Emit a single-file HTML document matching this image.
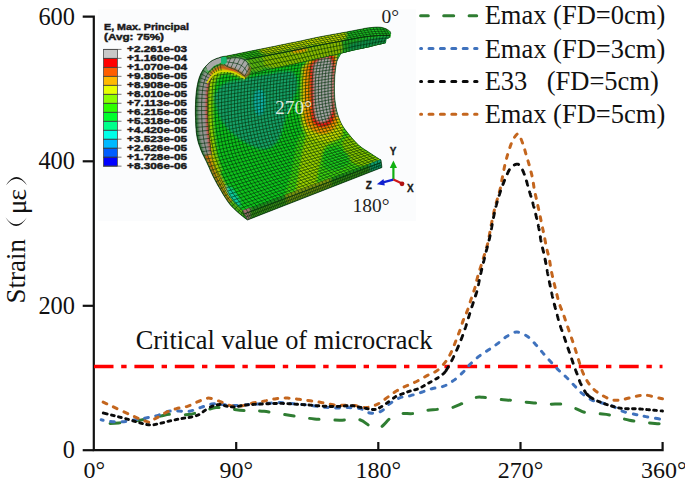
<!DOCTYPE html>
<html><head><meta charset="utf-8"><style>
html,body{margin:0;padding:0;background:#fff;}
body{width:685px;height:482px;overflow:hidden;}
svg{display:block;}
.serif{font-family:"Liberation Serif",serif;fill:#111;}
.cb{font-family:"Liberation Sans",sans-serif;font-weight:bold;font-size:9.6px;fill:#1a1a1a;stroke:#1a1a1a;stroke-width:0.45px;}
</style></head><body>
<svg width="685" height="482" viewBox="0 0 685 482">
<rect x="0" y="0" width="685" height="482" fill="#fff"/>
<!-- inset background -->
<rect x="98" y="9.3" width="318" height="211.7" fill="#fbfcfd"/>
<g class="cb">
<text x="104" y="29.8" textLength="85" lengthAdjust="spacingAndGlyphs">E, Max. Principal</text>
<text x="104" y="39.8" textLength="60" lengthAdjust="spacingAndGlyphs">(Avg: 75%)</text>
<rect x="103.5" y="49.40" width="13.8" height="8.98" fill="#c8c8c8"/>
<rect x="103.5" y="58.38" width="13.8" height="8.98" fill="#ff0000"/>
<rect x="103.5" y="67.36" width="13.8" height="8.98" fill="#ff5d00"/>
<rect x="103.5" y="76.34" width="13.8" height="8.98" fill="#ffb900"/>
<rect x="103.5" y="85.32" width="13.8" height="8.98" fill="#e8ff00"/>
<rect x="103.5" y="94.30" width="13.8" height="8.98" fill="#8bff00"/>
<rect x="103.5" y="103.28" width="13.8" height="8.98" fill="#2eff00"/>
<rect x="103.5" y="112.26" width="13.8" height="8.98" fill="#00ff2e"/>
<rect x="103.5" y="121.24" width="13.8" height="8.98" fill="#00ff8b"/>
<rect x="103.5" y="130.22" width="13.8" height="8.98" fill="#00ffe8"/>
<rect x="103.5" y="139.20" width="13.8" height="8.98" fill="#00b9ff"/>
<rect x="103.5" y="148.18" width="13.8" height="8.98" fill="#005dff"/>
<rect x="103.5" y="157.16" width="13.8" height="8.98" fill="#0000ff"/>
<rect x="103.5" y="49.40" width="13.8" height="116.74" fill="none" stroke="#555" stroke-width="0.6"/>
<line x1="103.5" y1="49.40" x2="121.5" y2="49.40" stroke="#444" stroke-width="0.7"/>
<text x="127" y="52.40" textLength="60" lengthAdjust="spacingAndGlyphs">+2.261e-03</text>
<line x1="103.5" y1="58.38" x2="121.5" y2="58.38" stroke="#444" stroke-width="0.7"/>
<text x="127" y="61.38" textLength="60" lengthAdjust="spacingAndGlyphs">+1.160e-04</text>
<line x1="103.5" y1="67.36" x2="121.5" y2="67.36" stroke="#444" stroke-width="0.7"/>
<text x="127" y="70.36" textLength="60" lengthAdjust="spacingAndGlyphs">+1.070e-04</text>
<line x1="103.5" y1="76.34" x2="121.5" y2="76.34" stroke="#444" stroke-width="0.7"/>
<text x="127" y="79.34" textLength="60" lengthAdjust="spacingAndGlyphs">+9.805e-05</text>
<line x1="103.5" y1="85.32" x2="121.5" y2="85.32" stroke="#444" stroke-width="0.7"/>
<text x="127" y="88.32" textLength="60" lengthAdjust="spacingAndGlyphs">+8.908e-05</text>
<line x1="103.5" y1="94.30" x2="121.5" y2="94.30" stroke="#444" stroke-width="0.7"/>
<text x="127" y="97.30" textLength="60" lengthAdjust="spacingAndGlyphs">+8.010e-05</text>
<line x1="103.5" y1="103.28" x2="121.5" y2="103.28" stroke="#444" stroke-width="0.7"/>
<text x="127" y="106.28" textLength="60" lengthAdjust="spacingAndGlyphs">+7.113e-05</text>
<line x1="103.5" y1="112.26" x2="121.5" y2="112.26" stroke="#444" stroke-width="0.7"/>
<text x="127" y="115.26" textLength="60" lengthAdjust="spacingAndGlyphs">+6.215e-05</text>
<line x1="103.5" y1="121.24" x2="121.5" y2="121.24" stroke="#444" stroke-width="0.7"/>
<text x="127" y="124.24" textLength="60" lengthAdjust="spacingAndGlyphs">+5.318e-05</text>
<line x1="103.5" y1="130.22" x2="121.5" y2="130.22" stroke="#444" stroke-width="0.7"/>
<text x="127" y="133.22" textLength="60" lengthAdjust="spacingAndGlyphs">+4.420e-05</text>
<line x1="103.5" y1="139.20" x2="121.5" y2="139.20" stroke="#444" stroke-width="0.7"/>
<text x="127" y="142.20" textLength="60" lengthAdjust="spacingAndGlyphs">+3.523e-05</text>
<line x1="103.5" y1="148.18" x2="121.5" y2="148.18" stroke="#444" stroke-width="0.7"/>
<text x="127" y="151.18" textLength="60" lengthAdjust="spacingAndGlyphs">+2.626e-05</text>
<line x1="103.5" y1="157.16" x2="121.5" y2="157.16" stroke="#444" stroke-width="0.7"/>
<text x="127" y="160.16" textLength="60" lengthAdjust="spacingAndGlyphs">+1.728e-05</text>
<line x1="103.5" y1="166.14" x2="121.5" y2="166.14" stroke="#444" stroke-width="0.7"/>
<text x="127" y="169.14" textLength="60" lengthAdjust="spacingAndGlyphs">+8.306e-06</text>

</g>
<defs><filter id="soft" x="-5%" y="-5%" width="110%" height="110%"><feGaussianBlur stdDeviation="0.55"/></filter><filter id="soft2" x="-5%" y="-5%" width="110%" height="110%"><feGaussianBlur stdDeviation="1.0"/></filter></defs><g id="cyl" filter="url(#soft)"><path d="M223.0,56.5 223.6,56.4 224.3,56.3 225.2,56.2 226.4,56.0 228.0,55.7 230.0,55.3 232.6,54.8 235.7,54.2 239.1,53.4 242.8,52.7 246.5,51.9 250.0,51.2 253.5,50.5 257.0,49.8 260.5,49.1 264.0,48.4 267.5,47.7 271.0,47.0 274.5,46.3 278.1,45.5 281.8,44.8 285.2,44.1 288.3,43.4 291.0,42.9 293.0,42.5 294.4,42.2 295.5,42.0 296.6,41.8 298.0,41.5 300.0,41.1 302.7,40.5 305.7,39.8 309.1,39.1 312.7,38.3 316.4,37.5 320.0,36.8 323.7,36.1 327.6,35.4 331.6,34.6 335.6,33.9 339.4,33.3 343.0,32.6 346.4,32.0 349.8,31.3 353.1,30.7 356.1,30.1 358.8,29.6 361.0,29.2 362.6,28.9 363.7,28.6 364.4,28.4 365.0,28.3 365.8,28.2 367.0,28.0 368.6,27.8 370.6,27.6 372.6,27.4 374.7,27.2 376.7,27.1 378.4,27.1 379.8,27.2 381.1,27.3 382.3,27.6 383.4,27.8 384.4,28.2 385.4,28.5 386.4,28.9 387.3,29.4 388.1,29.9 388.8,30.4 389.5,30.9 390.0,31.4 390.4,31.9 390.5,32.3 390.6,32.8 390.7,33.2 390.7,33.5 390.7,33.8 L390.3,37.6 387,39 386.2,39.5 386,43.1 341.0,53.6 340.5,54.4 339.9,55.5 339.1,56.9 338.3,58.4 337.5,60.0 336.9,61.8 336.4,63.7 336.1,65.8 335.7,68.0 335.4,70.3 335.2,72.6 335.0,75.0 334.8,77.4 334.7,80.0 334.6,82.6 334.5,85.2 334.5,87.7 334.5,90.0 334.5,92.1 334.6,94.1 334.7,96.1 334.8,97.9 335.0,99.8 335.2,101.7 335.5,103.7 335.8,105.6 336.1,107.6 336.5,109.6 337.0,111.5 337.5,113.4 338.1,115.2 338.6,117.0 339.3,118.8 340.0,120.5 340.8,122.2 341.6,123.9 342.5,125.5 343.4,127.0 344.4,128.5 345.5,130.0 346.7,131.5 348.0,133.2 349.5,135.0 351.1,137.0 352.9,139.1 354.7,141.1 356.6,143.1 358.5,144.9 360.5,146.6 362.7,148.2 365.0,149.7 367.2,151.1 369.3,152.5 371.3,153.8 373.2,155.1 375.1,156.3 377.0,157.5 378.6,158.5 380.0,159.4 381.0,160.0 L382,167.5 247.5,220 247.2,219.8 246.9,219.6 246.5,219.3 245.9,218.9 245.3,218.4 244.4,217.7 243.3,216.8 242.0,215.8 240.5,214.6 239.0,213.3 237.5,212.0 236.1,210.7 234.8,209.5 233.5,208.3 232.3,207.0 231.0,205.7 229.8,204.2 228.5,202.6 227.2,200.7 225.8,198.6 224.4,196.4 223.0,194.2 221.7,191.9 220.4,189.7 219.2,187.6 217.9,185.5 216.8,183.4 215.6,181.2 214.5,179.1 213.4,177.0 212.4,174.9 211.4,172.8 210.4,170.6 209.5,168.5 208.5,166.3 207.5,164.0 206.4,161.6 205.1,159.1 203.9,156.6 202.6,154.0 201.5,151.5 200.5,149.0 199.7,146.6 198.9,144.4 198.2,142.2 197.7,139.9 197.1,137.5 196.7,135.0 196.3,132.3 196.1,129.5 195.8,126.6 195.7,123.6 195.6,120.6 195.5,117.5 195.4,114.3 195.4,111.0 195.4,107.7 195.5,104.3 195.6,101.1 195.8,98.0 196.0,95.1 196.3,92.2 196.6,89.5 197.0,86.9 197.5,84.4 198.0,82.0 198.6,79.8 199.2,77.8 199.9,75.9 200.6,74.1 201.5,72.4 202.4,70.7 203.4,69.1 204.6,67.5 205.9,66.1 207.2,64.7 208.4,63.5 209.6,62.4 210.7,61.5 211.7,60.8 212.8,60.2 213.8,59.7 214.8,59.3 215.9,58.8 217.1,58.3 218.5,57.9 219.8,57.4 221.1,57.0 222.2,56.7 223.0,56.5 Z" fill="#137a20"/>
<clipPath id="innerclip"><path d="M243.0,211.0 242.1,210.2 240.9,209.0 239.5,207.7 238.0,206.2 236.5,204.6 235.0,203.0 233.6,201.4 232.2,199.8 230.8,198.1 229.4,196.2 227.9,194.2 226.5,192.0 225.0,189.5 223.6,186.8 222.1,183.9 220.6,180.9 219.2,177.9 218.0,175.0 216.9,172.2 215.8,169.4 214.9,166.6 214.0,163.7 213.2,160.9 212.5,158.0 211.9,155.1 211.4,152.1 211.0,149.1 210.7,146.0 210.3,143.0 210.0,140.0 209.7,137.0 209.3,134.0 209.0,131.0 208.7,128.0 208.5,125.0 208.3,122.0 208.1,119.0 208.0,115.9 207.9,112.9 207.8,109.9 207.8,106.9 207.8,104.0 207.9,101.1 207.9,98.3 208.1,95.5 208.2,92.8 208.5,90.3 208.8,88.0 209.2,85.9 209.6,84.1 210.1,82.3 210.6,80.8 211.3,79.3 212.0,78.0 212.8,76.8 213.6,75.7 214.6,74.7 215.6,73.9 216.7,73.1 218.0,72.5 219.4,72.0 221.0,71.6 222.8,71.2 224.5,71.1 226.3,71.0 228.0,71.0 229.7,71.2 231.4,71.5 233.2,71.9 234.9,72.4 236.5,73.0 238.0,73.5 239.4,74.1 240.8,74.7 242.1,75.4 243.3,76.1 244.3,76.6 245.0,77.0 L247.0,75.4 249.8,74.6 253.1,73.7 256.8,72.6 260.8,71.5 265.0,70.5 269.6,69.4 274.7,68.3 280.2,67.2 285.7,66.0 291.1,64.9 296.0,63.8 300.6,62.8 305.0,61.7 309.2,60.8 313.3,59.8 317.2,58.9 321.0,58.0 324.7,57.2 328.3,56.4 331.7,55.7 335.0,54.9 338.1,54.3 341.0,53.6 343.7,53.0 346.2,52.3 348.5,51.7 350.7,51.2 352.9,50.6 355.0,50.1 357.1,49.6 359.2,49.2 361.2,48.9 363.1,48.5 365.1,48.1 367.0,47.7 369.0,47.2 371.0,46.8 373.0,46.3 375.0,45.8 376.8,45.3 378.5,44.9 380.1,44.5 381.6,44.2 383.0,43.8 384.2,43.5 385.2,43.3 386.0,43.1 L341.0,53.6 340.5,54.4 339.9,55.5 339.1,56.9 338.3,58.4 337.5,60.0 336.9,61.8 336.4,63.7 336.1,65.8 335.7,68.0 335.4,70.3 335.2,72.6 335.0,75.0 334.8,77.4 334.7,80.0 334.6,82.6 334.5,85.2 334.5,87.7 334.5,90.0 334.5,92.1 334.6,94.1 334.7,96.1 334.8,97.9 335.0,99.8 335.2,101.7 335.5,103.7 335.8,105.6 336.1,107.6 336.5,109.6 337.0,111.5 337.5,113.4 338.1,115.2 338.6,117.0 339.3,118.8 340.0,120.5 340.8,122.2 341.6,123.9 342.5,125.5 343.4,127.0 344.4,128.5 345.5,130.0 346.7,131.5 348.0,133.2 349.5,135.0 351.1,137.0 352.9,139.1 354.7,141.1 356.6,143.1 358.5,144.9 360.5,146.6 362.7,148.2 365.0,149.7 367.2,151.1 369.3,152.5 371.3,153.8 373.2,155.1 375.1,156.3 377.0,157.5 378.6,158.5 380.0,159.4 381.0,160.0 Z"/></clipPath>
<g clip-path="url(#innerclip)"><g filter="url(#soft2)"><rect x="190" y="30" width="200" height="190" fill="#0ac31f"/><path d="M280.0,214.0 281.7,207.9 284.1,199.1 286.9,189.1 289.7,178.9 292.0,170.0 293.7,162.1 295.0,154.5 296.3,147.3 297.8,140.7 300.0,135.0 302.8,130.1 306.0,125.8 309.7,122.2 313.7,119.6 318.0,118.0 323.0,117.7 328.7,118.4 334.6,120.1 340.2,122.4 345.0,125.0 348.6,128.2 351.4,132.2 353.9,136.6 356.6,141.0 360.0,145.0 365.6,148.4 373.1,151.5 380.3,154.6 385.0,157.9 385.0,162.0 379.0,167.0 368.5,172.6 355.5,178.6 342.0,184.5 330.0,190.0 318.9,195.4 307.2,201.0 296.2,206.3 286.7,210.8 280.0,214.0Z" fill="#3cd00a"/><path d="M292.0,212.0 292.7,208.3 293.7,203.0 294.8,197.0 296.0,190.7 297.0,185.0 297.9,179.8 298.7,174.6 299.4,169.5 300.2,164.6 301.0,160.0 301.8,155.6 302.5,151.3 303.3,147.2 304.1,143.4 305.0,140.0 305.7,136.9 306.2,134.1 307.0,131.6 308.4,129.6 311.0,128.0 315.4,126.9 321.4,126.3 327.8,126.1 333.7,126.3 338.0,127.0 340.6,128.3 342.2,130.3 342.9,132.5 342.8,134.9 342.0,137.0 339.9,138.8 336.6,140.3 332.6,141.9 328.9,143.8 326.0,146.0 324.1,148.6 322.8,151.6 321.8,154.8 320.9,158.2 320.0,162.0 319.1,166.2 318.2,170.7 317.4,175.5 316.7,180.4 316.0,185.0 315.6,189.7 315.6,194.7 315.4,199.5 314.7,203.7 313.0,207.0 309.6,209.2 304.9,210.5 299.8,211.2 295.1,211.6 292.0,212.0Z" fill="#9ccd00"/><path d="M342.0,142.0 343.1,140.9 344.5,139.2 346.3,137.5 348.1,136.2 350.0,136.0 351.8,137.2 353.8,139.3 355.8,142.0 357.8,144.7 360.0,147.0 362.3,148.8 364.8,150.5 367.2,152.1 369.7,153.6 372.0,155.0 374.6,156.3 377.6,157.6 380.3,158.8 382.0,159.9 382.0,161.0 379.8,162.3 375.9,163.7 371.0,165.0 366.1,165.8 362.0,166.0 358.7,165.4 355.6,164.1 352.7,162.4 350.2,160.3 348.0,158.0 346.2,155.1 344.7,151.4 343.6,147.6 342.7,144.3 342.0,142.0Z" fill="#8cc800"/><path d="M323.0,152.0 324.6,151.0 327.0,149.5 329.7,147.8 332.5,146.5 335.0,146.0 337.4,146.4 339.8,147.3 342.2,148.7 344.3,150.4 346.0,152.0 347.5,153.8 348.9,155.8 349.9,158.0 350.3,160.1 350.0,162.0 348.6,163.9 346.4,165.8 343.6,167.6 340.7,169.1 338.0,170.0 335.3,170.5 332.3,170.6 329.5,170.3 326.9,169.5 325.0,168.0 323.9,165.4 323.3,161.8 323.1,157.9 323.1,154.4 323.0,152.0Z" fill="#1ec81a"/><path d="M302.0,68.0 304.3,65.2 307.6,61.1 311.4,56.6 315.3,52.6 319.0,50.0 322.6,48.5 326.5,47.6 330.3,47.6 333.6,49.0 336.0,52.0 337.3,57.2 337.8,64.4 337.8,72.7 337.7,81.5 338.0,90.0 339.0,98.8 340.6,108.5 342.0,118.1 342.6,126.6 342.0,133.0 339.7,137.1 336.1,139.6 331.7,140.8 327.2,141.2 323.0,141.0 318.9,140.3 314.6,138.9 310.4,136.7 306.8,133.7 304.0,130.0 302.3,125.2 301.5,119.5 301.1,113.1 301.1,106.4 301.0,100.0 301.0,93.2 301.2,85.8 301.5,78.6 301.8,72.4 302.0,68.0Z" fill="#c8d800"/><path d="M304.0,68.0 306.2,65.7 309.3,62.3 312.9,58.5 316.6,55.2 320.0,53.0 323.3,51.8 326.7,51.0 330.1,51.0 332.9,52.2 335.0,55.0 336.1,59.9 336.4,66.7 336.3,74.5 336.0,82.5 336.0,90.0 336.5,97.2 337.2,104.8 337.8,112.2 337.8,118.8 337.0,124.0 335.0,127.9 332.2,130.7 328.8,132.6 325.3,133.7 322.0,134.0 318.6,133.5 315.0,132.1 311.4,130.0 308.3,127.2 306.0,124.0 304.7,120.2 304.1,115.8 304.0,110.8 304.0,105.5 304.0,100.0 303.9,93.6 303.9,86.2 303.9,78.9 304.0,72.5 304.0,68.0Z" fill="#f59000"/><path d="M309.5,65.0 311.2,63.4 313.6,61.1 316.4,58.6 319.3,56.4 322.0,55.0 324.6,54.1 327.4,53.4 330.0,53.4 332.3,54.4 334.0,57.0 334.9,61.7 335.3,68.2 335.3,75.6 335.1,83.2 335.0,90.0 335.1,96.4 335.2,102.9 335.2,109.1 334.9,114.6 334.0,119.0 332.4,122.3 330.3,124.6 327.9,126.2 325.4,127.1 323.0,127.5 320.7,127.5 318.2,127.0 315.8,125.8 313.6,123.9 312.0,121.0 311.0,116.9 310.5,111.8 310.3,105.9 310.2,99.9 310.0,94.0 309.8,87.9 309.7,81.2 309.6,74.6 309.5,69.0 309.5,65.0Z" fill="#e81808"/><path d="M313.3,65.0 314.5,64.0 316.1,62.4 318.0,60.8 320.1,59.3 322.0,58.5 324.0,58.0 326.2,57.6 328.3,57.7 330.1,58.7 331.5,61.0 332.3,65.2 332.6,70.9 332.7,77.5 332.6,84.1 332.5,90.0 332.5,95.4 332.4,100.7 332.2,105.8 331.8,110.3 331.0,114.0 329.8,116.8 328.3,119.0 326.5,120.5 324.7,121.5 323.0,122.0 321.3,122.1 319.6,121.8 317.9,120.9 316.5,119.4 315.3,117.0 314.6,113.6 314.1,109.4 313.9,104.5 313.8,99.3 313.6,94.0 313.4,88.1 313.4,81.4 313.3,74.8 313.3,69.0 313.3,65.0Z" fill="#a2a2a2"/><path d="M339.0,58.0 338.7,59.2 338.3,60.8 337.8,62.8 337.3,65.0 336.9,67.4 336.5,70.0 336.2,72.9 335.9,76.2 335.7,79.8 335.5,83.3 335.4,86.8 335.3,90.0 335.3,93.0 335.3,95.9 335.5,98.6 335.6,101.3 335.8,103.7 336.0,106.0 336.3,108.1 336.6,110.1 337.0,112.0 337.4,113.6 337.8,115.0 338.0,116.0" fill="none" stroke="#10b8a0" stroke-width="2.5"/><path d="M214.0,97.0 215.2,95.1 216.8,92.4 218.7,89.2 221.1,86.3 224.0,84.0 227.4,82.5 231.4,81.4 235.8,80.6 240.4,79.9 245.0,79.0 249.8,78.0 254.9,76.9 260.0,75.8 265.1,74.8 270.0,74.0 274.9,73.1 279.8,72.1 284.6,71.4 288.7,71.2 292.0,72.0 294.3,73.9 295.9,76.7 296.9,80.2 297.2,84.0 297.0,88.0 295.9,92.2 294.0,96.8 291.6,101.7 289.2,106.8 287.0,112.0 285.2,117.6 283.6,123.8 282.0,130.0 280.2,135.6 278.0,140.0 275.5,143.3 272.8,145.9 269.9,147.7 266.6,148.7 263.0,149.0 258.8,148.3 254.1,146.8 249.2,144.5 244.4,141.8 240.0,139.0 235.9,136.0 232.0,132.7 228.2,129.0 224.9,125.1 222.0,121.0 219.6,116.2 217.7,110.7 216.1,105.2 214.9,100.4 214.0,97.0Z" fill="#12a068"/><path d="M254.5,93.0 255.1,92.4 256.0,91.5 257.0,90.6 258.0,89.8 259.0,89.5 259.9,89.6 260.9,90.0 261.9,90.7 262.8,91.7 263.5,93.0 264.1,94.7 264.5,96.9 264.9,99.3 265.0,101.7 265.0,104.0 264.7,106.2 264.2,108.6 263.6,110.8 262.8,112.7 262.0,114.0 261.1,114.8 260.1,115.2 259.0,115.2 257.9,114.8 257.0,114.0 256.2,112.7 255.4,110.8 254.7,108.6 254.2,106.2 253.8,104.0 253.7,101.7 253.8,99.1 254.1,96.7 254.3,94.5 254.5,93.0Z" fill="#10b0a8"/><path d="M245.0,77.0 244.3,76.6 243.3,76.1 242.1,75.4 240.8,74.7 239.4,74.1 238.0,73.5 236.5,73.0 234.9,72.4 233.2,71.9 231.4,71.5 229.7,71.2 228.0,71.0 226.3,71.0 224.5,71.1 222.8,71.2 221.0,71.6 219.4,72.0 218.0,72.5 216.7,73.1 215.6,73.9 214.6,74.7 213.6,75.7 212.8,76.8 212.0,78.0 211.3,79.3 210.6,80.8 210.1,82.3 209.6,84.1 209.2,85.9 208.8,88.0 208.5,90.3 208.2,92.8 208.1,95.5 207.9,98.3 207.9,101.1 207.8,104.0 207.8,106.9 207.8,109.9 207.9,112.9 208.0,115.9 208.1,119.0 208.3,122.0 208.5,125.0 208.7,128.0 209.0,131.0 209.3,134.0 209.7,137.0 210.0,140.0 210.3,143.0" fill="none" stroke="#c8d800" stroke-width="4.5"/><path d="M210.0,140.0 210.3,143.0 210.7,146.0 211.0,149.1 211.4,152.1 211.9,155.1 212.5,158.0 213.2,160.9 214.0,163.7 214.9,166.6 215.8,169.4 216.9,172.2 218.0,175.0 219.2,177.9 220.6,180.9 222.1,183.9 223.6,186.8 225.0,189.5 226.5,192.0 227.9,194.2 229.4,196.2 230.8,198.1" fill="none" stroke="#e0a000" stroke-width="4"/><path d="M228.0,71.0 226.3,71.0 224.5,71.1 222.8,71.2 221.0,71.6 219.4,72.0 218.0,72.5 216.7,73.1 215.6,73.9 214.6,74.7 213.6,75.7 212.8,76.8 212.0,78.0 211.3,79.3 210.6,80.8 210.1,82.3 209.6,84.1 209.2,85.9 208.8,88.0 208.5,90.3 208.2,92.8 208.1,95.5 207.9,98.3 207.9,101.1 207.8,104.0 207.8,106.9 207.8,109.9 207.9,112.9 208.0,115.9 208.1,119.0 208.3,122.0 208.5,125.0 208.7,128.0 209.0,131.0 209.3,134.0 209.7,137.0 210.0,140.0 210.3,143.0 210.7,146.0 211.0,149.1 211.4,152.1 211.9,155.1 212.5,158.0 213.2,160.9 214.0,163.7 214.9,166.6 215.8,169.4 216.9,172.2" fill="none" stroke="#8ed000" stroke-width="4" transform="translate(3,0)"/><path d="M226.0,186.0 226.8,186.3 228.0,186.7 229.3,187.2 230.7,188.0 232.0,189.0 233.3,190.4 234.6,192.2 235.9,194.2 237.1,196.2 238.0,198.0 238.8,199.8 239.5,201.8 240.0,203.6 240.2,205.1 240.0,206.0 239.3,206.3 238.2,206.2 236.8,205.7 235.3,204.9 234.0,204.0 232.7,202.8 231.4,201.3 230.1,199.6 228.9,197.8 228.0,196.0 227.3,194.0 226.8,191.7 226.5,189.4 226.2,187.4 226.0,186.0Z" fill="#10c8a0"/></g><path d="M222.0,52.0L345.0,38.0M219.5,54.6L343.6,40.6M217.1,57.3L342.1,43.2M214.7,60.0L340.8,45.9M212.7,63.0L339.8,48.7M211.0,66.1L339.0,51.5M209.6,69.5L338.3,54.4M208.6,72.9L337.7,57.4M207.7,76.4L337.2,60.3M207.0,80.0L336.6,63.2M206.5,83.5L336.1,66.1M206.1,87.1L335.7,69.1M205.9,90.7L335.3,72.0M205.7,94.3L335.0,75.0M205.6,97.9L334.8,78.0M205.5,101.5L334.6,80.9M205.4,105.1L334.6,83.9M205.4,108.7L334.5,86.9M205.4,112.3L334.5,89.9M205.5,115.9L334.5,92.8M205.7,119.5L334.7,95.8M205.9,123.1L334.9,98.8M206.2,126.7L335.2,101.7M206.6,130.3L335.6,104.7M207.0,133.9L336.1,107.6M207.6,137.5L336.8,110.5M208.2,141.0L337.5,113.4M208.8,144.6L338.4,116.2M209.5,148.1L339.4,119.0M210.3,151.6L340.6,121.8M211.2,155.1L341.9,124.4M212.2,158.6L343.4,127.0M213.4,162.0L345.1,129.4M214.7,165.3L346.9,131.8M216.1,168.6L348.8,134.1M217.6,171.9L350.6,136.4M219.1,175.2L352.5,138.7M220.7,178.4L354.5,140.9M222.3,181.7L356.6,143.1M224.0,184.9L358.8,145.1M225.7,188.0L361.1,147.0M227.5,191.1L363.5,148.7M229.4,194.2L366.0,150.4M231.5,197.2L368.5,152.0M233.6,200.0L371.0,153.6M235.9,202.9L373.5,155.2M238.2,205.6L376.0,156.8M240.6,208.3L378.5,158.4M243.0,211.0L381.0,160.0M222.0,52.0L219.5,54.6L217.1,57.3L214.7,60.0L212.7,63.0L211.0,66.1L209.6,69.5L208.6,72.9L207.7,76.4L207.0,80.0L206.5,83.5L206.1,87.1L205.9,90.7L205.7,94.3L205.6,97.9L205.5,101.5L205.4,105.1L205.4,108.7L205.4,112.3L205.5,115.9L205.7,119.5L205.9,123.1L206.2,126.7L206.6,130.3L207.0,133.9L207.6,137.5L208.2,141.0L208.8,144.6L209.5,148.1L210.3,151.6L211.2,155.1L212.2,158.6L213.4,162.0L214.7,165.3L216.1,168.6L217.6,171.9L219.1,175.2L220.7,178.4L222.3,181.7L224.0,184.9L225.7,188.0L227.5,191.1L229.4,194.2L231.5,197.2L233.6,200.0L235.9,202.9L238.2,205.6L240.6,208.3L243.0,211.0M225.1,51.6L222.6,54.3L220.2,56.9L217.9,59.7L215.8,62.6L214.2,65.8L212.9,69.1L211.8,72.5L211.0,76.0L210.2,79.5L209.7,83.1L209.4,86.7L209.1,90.2L208.9,93.8L208.8,97.4L208.7,101.0L208.6,104.6L208.6,108.2L208.7,111.8L208.8,115.4L208.9,118.9L209.1,122.5L209.4,126.1L209.8,129.7L210.3,133.2L210.8,136.8L211.4,140.3L212.1,143.8L212.8,147.4L213.5,150.9L214.4,154.3L215.5,157.8L216.7,161.2L218.0,164.5L219.4,167.8L220.9,171.0L222.4,174.3L224.0,177.5L225.6,180.7L227.3,183.9L229.1,187.0L230.9,190.1L232.8,193.1L234.9,196.0L237.1,198.9L239.3,201.7L241.6,204.4L244.0,207.1L246.4,209.7M228.2,51.3L225.7,53.9L223.3,56.6L221.0,59.3L219.0,62.2L217.4,65.4L216.1,68.7L215.0,72.1L214.2,75.6L213.5,79.1L213.0,82.7L212.6,86.2L212.3,89.8L212.2,93.3L212.0,96.9L211.9,100.5L211.9,104.1L211.9,107.6L211.9,111.2L212.0,114.8L212.1,118.4L212.3,121.9L212.6,125.5L213.0,129.0L213.5,132.6L214.0,136.1L214.6,139.6L215.3,143.1L216.0,146.6L216.8,150.1L217.7,153.6L218.8,157.0L220.0,160.3L221.3,163.7L222.7,166.9L224.2,170.2L225.8,173.4L227.4,176.6L229.0,179.7L230.7,182.9L232.5,186.0L234.3,189.0L236.2,192.0L238.3,194.9L240.5,197.7L242.8,200.5L245.1,203.2L247.5,205.8L249.9,208.4M231.2,51.0L228.8,53.6L226.5,56.2L224.2,59.0L222.2,61.9L220.6,65.0L219.3,68.4L218.3,71.8L217.4,75.2L216.7,78.7L216.2,82.2L215.8,85.8L215.6,89.3L215.4,92.9L215.3,96.4L215.2,100.0L215.1,103.5L215.1,107.1L215.1,110.6L215.2,114.2L215.3,117.8L215.6,121.3L215.9,124.9L216.2,128.4L216.7,131.9L217.3,135.4L217.9,138.9L218.5,142.4L219.2,145.9L220.0,149.4L221.0,152.8L222.0,156.2L223.3,159.5L224.6,162.8L226.0,166.1L227.6,169.3L229.1,172.5L230.7,175.6L232.4,178.8L234.1,181.9L235.9,184.9L237.7,188.0L239.6,190.9L241.7,193.8L243.9,196.5L246.2,199.3L248.5,202.0L250.9,204.6L253.3,207.2M234.3,50.6L231.9,53.2L229.6,55.9L227.4,58.6L225.4,61.5L223.8,64.7L222.5,68.0L221.5,71.4L220.7,74.8L220.0,78.3L219.4,81.8L219.1,85.3L218.8,88.8L218.6,92.4L218.5,95.9L218.4,99.5L218.3,103.0L218.3,106.5L218.3,110.1L218.4,113.6L218.6,117.2L218.8,120.7L219.1,124.2L219.5,127.7L219.9,131.3L220.5,134.8L221.1,138.2L221.8,141.7L222.5,145.2L223.3,148.6L224.2,152.0L225.3,155.4L226.5,158.7L227.9,162.0L229.4,165.2L230.9,168.4L232.4,171.6L234.1,174.7L235.7,177.8L237.4,180.9L239.2,183.9L241.1,186.9L243.1,189.8L245.2,192.6L247.4,195.4L249.6,198.1L252.0,200.7L254.4,203.3L256.8,205.9M237.4,50.2L235.0,52.9L232.7,55.5L230.5,58.3L228.6,61.2L227.0,64.3L225.7,67.6L224.7,71.0L223.9,74.4L223.2,77.9L222.7,81.4L222.3,84.9L222.0,88.4L221.9,91.9L221.7,95.4L221.6,98.9L221.6,102.5L221.5,106.0L221.6,109.5L221.7,113.0L221.8,116.6L222.0,120.1L222.3,123.6L222.7,127.1L223.2,130.6L223.7,134.1L224.3,137.6L225.0,141.0L225.7,144.5L226.6,147.9L227.5,151.3L228.6,154.6L229.8,157.9L231.2,161.1L232.7,164.3L234.2,167.5L235.8,170.6L237.4,173.8L239.1,176.8L240.8,179.9L242.6,182.9L244.5,185.8L246.5,188.7L248.6,191.5L250.8,194.2L253.1,196.9L255.4,199.5L257.8,202.1L260.2,204.6M240.4,49.9L238.1,52.5L235.8,55.2L233.7,57.9L231.7,60.8L230.2,63.9L228.9,67.2L228.0,70.6L227.1,74.0L226.5,77.4L225.9,80.9L225.5,84.4L225.3,87.9L225.1,91.4L224.9,94.9L224.8,98.4L224.8,101.9L224.8,105.4L224.8,109.0L224.9,112.5L225.0,116.0L225.2,119.5L225.5,123.0L225.9,126.5L226.4,129.9L227.0,133.4L227.6,136.9L228.2,140.3L229.0,143.7L229.8,147.1L230.8,150.5L231.9,153.8L233.1,157.1L234.5,160.3L236.0,163.5L237.5,166.6L239.1,169.7L240.7,172.8L242.4,175.9L244.2,178.9L246.0,181.9L247.9,184.8L249.9,187.6L252.0,190.4L254.2,193.1L256.5,195.7L258.9,198.3L261.3,200.8L263.7,203.3M243.5,49.5L241.2,52.2L239.0,54.8L236.8,57.5L234.9,60.5L233.4,63.6L232.2,66.8L231.2,70.2L230.4,73.6L229.7,77.0L229.2,80.5L228.8,84.0L228.5,87.4L228.3,90.9L228.2,94.4L228.1,97.9L228.0,101.4L228.0,104.9L228.0,108.4L228.1,111.9L228.2,115.4L228.5,118.9L228.8,122.4L229.1,125.8L229.6,129.3L230.2,132.7L230.8,136.2L231.5,139.6L232.2,143.0L233.1,146.4L234.0,149.7L235.2,153.0L236.4,156.3L237.8,159.5L239.3,162.6L240.9,165.7L242.5,168.8L244.1,171.9L245.8,174.9L247.6,177.9L249.4,180.8L251.3,183.7L253.3,186.5L255.4,189.3L257.7,191.9L260.0,194.5L262.3,197.1L264.7,199.6L267.1,202.1M246.6,49.2L244.3,51.8L242.1,54.5L240.0,57.2L238.1,60.1L236.6,63.2L235.4,66.5L234.4,69.8L233.6,73.2L232.9,76.6L232.4,80.0L232.0,83.5L231.7,87.0L231.6,90.4L231.4,93.9L231.3,97.4L231.2,100.9L231.2,104.4L231.3,107.8L231.3,111.3L231.5,114.8L231.7,118.3L232.0,121.7L232.4,125.2L232.8,128.6L233.4,132.1L234.0,135.5L234.7,138.9L235.5,142.3L236.3,145.6L237.3,149.0L238.4,152.2L239.7,155.5L241.1,158.6L242.6,161.7L244.2,164.8L245.8,167.9L247.4,170.9L249.1,174.0L250.9,176.9L252.8,179.8L254.7,182.7L256.7,185.4L258.9,188.1L261.1,190.7L263.4,193.3L265.7,195.9L268.2,198.3L270.6,200.8M249.7,48.9L247.4,51.5L245.2,54.1L243.1,56.8L241.3,59.7L239.8,62.8L238.6,66.1L237.6,69.4L236.8,72.8L236.2,76.2L235.7,79.6L235.3,83.1L235.0,86.5L234.8,90.0L234.6,93.4L234.5,96.9L234.5,100.3L234.5,103.8L234.5,107.3L234.6,110.7L234.7,114.2L234.9,117.7L235.2,121.1L235.6,124.5L236.1,128.0L236.6,131.4L237.3,134.8L238.0,138.2L238.7,141.6L239.6,144.9L240.6,148.2L241.7,151.5L243.0,154.7L244.4,157.8L245.9,160.9L247.5,163.9L249.1,167.0L250.8,170.0L252.5,173.0L254.3,175.9L256.2,178.8L258.1,181.6L260.1,184.3L262.3,187.0L264.5,189.6L266.8,192.1L269.2,194.6L271.6,197.1L274.1,199.5M252.8,48.5L250.5,51.1L248.3,53.8L246.3,56.5L244.4,59.4L243.0,62.5L241.8,65.7L240.9,69.0L240.1,72.4L239.4,75.8L238.9,79.2L238.5,82.6L238.2,86.0L238.0,89.5L237.9,92.9L237.8,96.4L237.7,99.8L237.7,103.3L237.7,106.7L237.8,110.2L237.9,113.6L238.1,117.0L238.4,120.5L238.8,123.9L239.3,127.3L239.9,130.7L240.5,134.1L241.2,137.5L242.0,140.8L242.8,144.2L243.8,147.4L245.0,150.7L246.3,153.8L247.7,156.9L249.3,160.0L250.8,163.1L252.5,166.1L254.1,169.1L255.9,172.0L257.7,174.9L259.5,177.8L261.5,180.5L263.5,183.2L265.7,185.9L268.0,188.4L270.3,190.9L272.6,193.4L275.1,195.9L277.5,198.2M255.8,48.1L253.6,50.8L251.5,53.4L249.4,56.1L247.6,59.0L246.2,62.1L245.0,65.3L244.1,68.6L243.3,72.0L242.7,75.4L242.1,78.7L241.7,82.2L241.5,85.6L241.2,89.0L241.1,92.4L241.0,95.9L240.9,99.3L240.9,102.7L240.9,106.1L241.0,109.6L241.1,113.0L241.4,116.4L241.7,119.9L242.1,123.3L242.5,126.7L243.1,130.0L243.7,133.4L244.4,136.8L245.2,140.1L246.1,143.4L247.1,146.7L248.3,149.9L249.6,153.0L251.0,156.1L252.6,159.2L254.2,162.2L255.8,165.2L257.5,168.1L259.2,171.1L261.0,173.9L262.9,176.7L264.9,179.5L267.0,182.1L269.1,184.7L271.4,187.3L273.7,189.8L276.1,192.2L278.5,194.6L280.9,197.0M258.9,47.8L256.7,50.4L254.6,53.1L252.6,55.8L250.8,58.7L249.4,61.8L248.2,65.0L247.3,68.3L246.6,71.6L245.9,74.9L245.4,78.3L245.0,81.7L244.7,85.1L244.5,88.5L244.3,91.9L244.2,95.3L244.2,98.8L244.1,102.2L244.2,105.6L244.2,109.0L244.4,112.4L244.6,115.8L244.9,119.2L245.3,122.6L245.8,126.0L246.3,129.4L247.0,132.7L247.7,136.1L248.5,139.4L249.4,142.7L250.4,145.9L251.6,149.1L252.9,152.2L254.3,155.3L255.9,158.3L257.5,161.3L259.1,164.3L260.8,167.2L262.6,170.1L264.4,172.9L266.3,175.7L268.3,178.4L270.4,181.1L272.6,183.6L274.8,186.1L277.2,188.6L279.5,191.0L281.9,193.4L284.4,195.7M262.0,47.5L259.8,50.1L257.7,52.7L255.7,55.4L254.0,58.3L252.6,61.4L251.5,64.6L250.6,67.9L249.8,71.2L249.1,74.5L248.6,77.9L248.2,81.2L247.9,84.6L247.7,88.0L247.6,91.4L247.5,94.8L247.4,98.2L247.4,101.6L247.4,105.0L247.5,108.4L247.6,111.8L247.8,115.2L248.1,118.6L248.5,122.0L249.0,125.3L249.6,128.7L250.2,132.0L250.9,135.4L251.7,138.6L252.6,141.9L253.6,145.1L254.8,148.3L256.2,151.4L257.7,154.4L259.2,157.4L260.8,160.4L262.5,163.3L264.2,166.3L265.9,169.1L267.8,171.9L269.7,174.7L271.7,177.4L273.8,180.0L276.0,182.5L278.3,184.9L280.6,187.4L283.0,189.8L285.4,192.1L287.9,194.4M265.1,47.1L262.9,49.7L260.8,52.3L258.9,55.1L257.2,58.0L255.8,61.0L254.7,64.2L253.8,67.5L253.0,70.8L252.4,74.1L251.9,77.4L251.5,80.8L251.2,84.2L250.9,87.5L250.8,90.9L250.7,94.3L250.6,97.7L250.6,101.1L250.6,104.5L250.7,107.8L250.8,111.2L251.0,114.6L251.3,118.0L251.7,121.3L252.2,124.7L252.8,128.0L253.4,131.3L254.2,134.6L255.0,137.9L255.9,141.2L256.9,144.4L258.1,147.5L259.5,150.6L261.0,153.6L262.5,156.6L264.1,159.5L265.8,162.4L267.5,165.3L269.3,168.2L271.1,170.9L273.1,173.7L275.1,176.3L277.2,178.9L279.4,181.3L281.7,183.8L284.0,186.2L286.4,188.5L288.8,190.9L291.3,193.2M268.1,46.8L266.0,49.4L264.0,52.0L262.0,54.7L260.3,57.6L259.0,60.7L257.9,63.8L257.0,67.1L256.3,70.4L255.6,73.7L255.1,77.0L254.7,80.3L254.4,83.7L254.2,87.1L254.0,90.4L253.9,93.8L253.8,97.2L253.8,100.5L253.8,103.9L253.9,107.3L254.0,110.6L254.3,114.0L254.6,117.4L255.0,120.7L255.4,124.0L256.0,127.3L256.7,130.7L257.4,133.9L258.2,137.2L259.1,140.4L260.2,143.6L261.4,146.7L262.8,149.8L264.3,152.8L265.8,155.7L267.5,158.6L269.1,161.5L270.9,164.4L272.6,167.2L274.5,170.0L276.5,172.6L278.5,175.2L280.6,177.8L282.8,180.2L285.1,182.6L287.5,185.0L289.9,187.3L292.3,189.6L294.8,191.9M271.2,46.4L269.1,49.0L267.1,51.6L265.2,54.4L263.5,57.2L262.2,60.3L261.1,63.5L260.2,66.7L259.5,70.0L258.9,73.3L258.3,76.6L257.9,79.9L257.6,83.2L257.4,86.6L257.3,89.9L257.1,93.3L257.1,96.6L257.0,100.0L257.1,103.3L257.1,106.7L257.3,110.0L257.5,113.4L257.8,116.7L258.2,120.1L258.7,123.4L259.2,126.7L259.9,130.0L260.6,133.2L261.5,136.5L262.4,139.7L263.5,142.8L264.7,145.9L266.1,149.0L267.6,151.9L269.2,154.8L270.8,157.7L272.5,160.6L274.2,163.4L276.0,166.2L277.9,169.0L279.9,171.6L281.9,174.2L284.0,176.7L286.3,179.1L288.6,181.5L290.9,183.8L293.3,186.1L295.7,188.4L298.2,190.6M274.3,46.0L272.2,48.7L270.2,51.3L268.3,54.0L266.7,56.9L265.4,59.9L264.3,63.1L263.5,66.3L262.7,69.6L262.1,72.8L261.6,76.1L261.2,79.4L260.9,82.8L260.6,86.1L260.5,89.4L260.4,92.8L260.3,96.1L260.3,99.4L260.3,102.8L260.4,106.1L260.5,109.4L260.7,112.8L261.0,116.1L261.4,119.4L261.9,122.7L262.5,126.0L263.1,129.3L263.9,132.5L264.7,135.7L265.6,138.9L266.7,142.1L268.0,145.1L269.4,148.1L270.9,151.1L272.5,154.0L274.1,156.8L275.8,159.7L277.6,162.5L279.4,165.3L281.3,168.0L283.2,170.6L285.3,173.1L287.4,175.6L289.7,178.0L292.0,180.3L294.4,182.6L296.7,184.9L299.2,187.1L301.6,189.3M277.4,45.7L275.3,48.3L273.4,50.9L271.5,53.7L269.9,56.5L268.6,59.6L267.5,62.7L266.7,65.9L266.0,69.2L265.3,72.4L264.8,75.7L264.4,79.0L264.1,82.3L263.9,85.6L263.7,88.9L263.6,92.3L263.5,95.6L263.5,98.9L263.5,102.2L263.6,105.5L263.7,108.9L263.9,112.2L264.2,115.5L264.6,118.8L265.1,122.1L265.7,125.3L266.4,128.6L267.1,131.8L268.0,135.0L268.9,138.2L270.0,141.3L271.2,144.4L272.6,147.3L274.2,150.2L275.8,153.1L277.4,156.0L279.1,158.8L280.9,161.6L282.7,164.3L284.6,167.0L286.6,169.6L288.7,172.0L290.9,174.5L293.1,176.8L295.4,179.1L297.8,181.4L300.2,183.7L302.6,185.9L305.1,188.1M280.4,45.4L278.4,48.0L276.5,50.6L274.6,53.3L273.0,56.2L271.8,59.2L270.8,62.3L269.9,65.5L269.2,68.8L268.6,72.0L268.1,75.3L267.7,78.5L267.3,81.8L267.1,85.1L266.9,88.4L266.8,91.7L266.8,95.0L266.7,98.3L266.7,101.7L266.8,105.0L266.9,108.3L267.2,111.6L267.5,114.9L267.9,118.1L268.4,121.4L268.9,124.7L269.6,127.9L270.4,131.1L271.2,134.3L272.2,137.4L273.3,140.5L274.5,143.6L275.9,146.5L277.5,149.4L279.1,152.3L280.8,155.1L282.5,157.9L284.2,160.6L286.1,163.3L288.0,166.0L290.0,168.5L292.1,171.0L294.3,173.4L296.5,175.7L298.9,178.0L301.2,180.2L303.6,182.4L306.1,184.6L308.6,186.8M283.5,45.0L281.5,47.6L279.6,50.2L277.8,53.0L276.2,55.8L275.0,58.8L274.0,62.0L273.2,65.1L272.4,68.4L271.8,71.6L271.3,74.8L270.9,78.1L270.6,81.4L270.3,84.6L270.2,87.9L270.1,91.2L270.0,94.5L270.0,97.8L270.0,101.1L270.0,104.4L270.2,107.7L270.4,111.0L270.7,114.2L271.1,117.5L271.6,120.7L272.2,124.0L272.8,127.2L273.6,130.4L274.4,133.6L275.4,136.7L276.5,139.8L277.8,142.8L279.2,145.7L280.8,148.6L282.4,151.4L284.1,154.2L285.8,157.0L287.6,159.7L289.4,162.4L291.4,165.0L293.4,167.5L295.5,169.9L297.7,172.3L300.0,174.6L302.3,176.8L304.7,179.0L307.1,181.2L309.5,183.4L312.0,185.5M286.6,44.6L284.6,47.3L282.7,49.9L280.9,52.6L279.4,55.5L278.2,58.5L277.2,61.6L276.4,64.7L275.7,67.9L275.1,71.2L274.5,74.4L274.1,77.6L273.8,80.9L273.6,84.2L273.4,87.4L273.3,90.7L273.2,94.0L273.2,97.3L273.2,100.5L273.3,103.8L273.4,107.1L273.6,110.3L273.9,113.6L274.3,116.9L274.8,120.1L275.4,123.3L276.1,126.5L276.8,129.7L277.7,132.8L278.7,135.9L279.8,139.0L281.1,142.0L282.5,144.9L284.1,147.7L285.7,150.5L287.4,153.3L289.2,156.0L290.9,158.8L292.8,161.4L294.7,164.0L296.8,166.5L298.9,168.9L301.1,171.2L303.4,173.4L305.7,175.6L308.1,177.8L310.5,180.0L313.0,182.1L315.4,184.2M289.6,44.3L287.7,46.9L285.9,49.5L284.1,52.2L282.6,55.1L281.4,58.1L280.4,61.2L279.6,64.4L278.9,67.5L278.3,70.7L277.8,74.0L277.4,77.2L277.1,80.4L276.8,83.7L276.6,86.9L276.5,90.2L276.4,93.5L276.4,96.7L276.4,100.0L276.5,103.2L276.6,106.5L276.8,109.7L277.1,113.0L277.5,116.2L278.0,119.4L278.6,122.6L279.3,125.8L280.1,129.0L280.9,132.1L281.9,135.2L283.1,138.2L284.4,141.2L285.8,144.1L287.4,146.9L289.1,149.7L290.8,152.4L292.5,155.1L294.3,157.8L296.1,160.5L298.1,163.0L300.2,165.4L302.3,167.8L304.5,170.1L306.8,172.3L309.2,174.5L311.6,176.7L314.0,178.8L316.4,180.9L318.9,182.9M292.7,44.0L290.8,46.6L289.0,49.2L287.2,51.9L285.8,54.7L284.6,57.7L283.6,60.8L282.8,64.0L282.2,67.1L281.5,70.3L281.0,73.5L280.6,76.7L280.3,80.0L280.0,83.2L279.9,86.4L279.7,89.7L279.7,92.9L279.6,96.2L279.7,99.4L279.7,102.6L279.8,105.9L280.1,109.1L280.4,112.4L280.8,115.6L281.3,118.8L281.9,122.0L282.5,125.1L283.3,128.3L284.2,131.4L285.2,134.5L286.3,137.5L287.6,140.4L289.1,143.3L290.7,146.1L292.4,148.8L294.1,151.5L295.8,154.2L297.6,156.9L299.5,159.5L301.5,162.0L303.5,164.4L305.7,166.7L307.9,169.0L310.2,171.2L312.6,173.3L315.0,175.5L317.4,177.6L319.9,179.6L322.4,181.7M295.8,43.6L293.9,46.2L292.1,48.8L290.4,51.5L288.9,54.4L287.8,57.4L286.8,60.5L286.1,63.6L285.4,66.7L284.8,69.9L284.3,73.1L283.9,76.3L283.5,79.5L283.3,82.7L283.1,85.9L283.0,89.2L282.9,92.4L282.9,95.6L282.9,98.8L282.9,102.1L283.1,105.3L283.3,108.5L283.6,111.7L284.0,114.9L284.5,118.1L285.1,121.3L285.8,124.4L286.6,127.6L287.4,130.7L288.4,133.7L289.6,136.7L290.9,139.6L292.4,142.5L294.0,145.2L295.7,147.9L297.4,150.6L299.2,153.3L301.0,155.9L302.9,158.5L304.8,161.0L306.9,163.4L309.1,165.7L311.3,167.9L313.7,170.0L316.0,172.2L318.4,174.3L320.9,176.3L323.3,178.4L325.8,180.4M298.9,43.2L297.0,45.9L295.2,48.5L293.5,51.2L292.1,54.0L291.0,57.0L290.1,60.1L289.3,63.2L288.6,66.3L288.0,69.5L287.5,72.7L287.1,75.8L286.8,79.0L286.5,82.2L286.3,85.4L286.2,88.6L286.1,91.9L286.1,95.1L286.1,98.3L286.2,101.5L286.3,104.7L286.5,107.9L286.8,111.1L287.2,114.3L287.7,117.5L288.3,120.6L289.0,123.7L289.8,126.9L290.7,129.9L291.7,133.0L292.9,135.9L294.2,138.8L295.7,141.6L297.3,144.4L299.0,147.1L300.7,149.8L302.5,152.4L304.3,155.0L306.2,157.6L308.2,160.0L310.3,162.4L312.5,164.6L314.8,166.8L317.1,168.9L319.5,171.0L321.9,173.1L324.3,175.1L326.8,177.1L329.2,179.1M301.9,42.9L300.1,45.5L298.4,48.1L296.7,50.8L295.3,53.7L294.2,56.6L293.3,59.7L292.5,62.8L291.9,65.9L291.3,69.1L290.8,72.2L290.3,75.4L290.0,78.6L289.7,81.8L289.6,84.9L289.4,88.1L289.4,91.3L289.3,94.5L289.3,97.7L289.4,100.9L289.5,104.1L289.7,107.3L290.0,110.5L290.5,113.6L290.9,116.8L291.5,119.9L292.2,123.1L293.0,126.1L293.9,129.2L295.0,132.2L296.1,135.2L297.5,138.0L299.0,140.8L300.6,143.5L302.3,146.2L304.1,148.9L305.8,151.5L307.7,154.1L309.6,156.6L311.6,159.0L313.7,161.3L315.9,163.6L318.2,165.7L320.5,167.8L322.9,169.8L325.3,171.9L327.7,173.9L330.2,175.9L332.7,177.8M305.0,42.5L303.2,45.2L301.5,47.8L299.9,50.5L298.5,53.3L297.4,56.3L296.5,59.3L295.8,62.4L295.1,65.5L294.5,68.7L294.0,71.8L293.6,74.9L293.2,78.1L293.0,81.3L292.8,84.4L292.7,87.6L292.6,90.8L292.5,94.0L292.6,97.2L292.6,100.3L292.7,103.5L293.0,106.7L293.3,109.9L293.7,113.0L294.2,116.1L294.8,119.3L295.5,122.4L296.3,125.4L297.2,128.5L298.2,131.5L299.4,134.4L300.8,137.3L302.3,140.0L303.9,142.7L305.6,145.3L307.4,148.0L309.2,150.6L311.0,153.1L312.9,155.6L315.0,158.0L317.1,160.3L319.3,162.5L321.6,164.6L323.9,166.7L326.3,168.7L328.7,170.7L331.2,172.7L333.7,174.6L336.1,176.6M308.1,42.2L306.3,44.8L304.6,47.4L303.0,50.1L301.7,53.0L300.6,55.9L299.7,58.9L299.0,62.0L298.3,65.1L297.8,68.2L297.2,71.4L296.8,74.5L296.5,77.6L296.2,80.8L296.0,83.9L295.9,87.1L295.8,90.3L295.8,93.4L295.8,96.6L295.8,99.8L296.0,102.9L296.2,106.1L296.5,109.2L296.9,112.4L297.4,115.5L298.0,118.6L298.7,121.7L299.5,124.7L300.4,127.8L301.5,130.7L302.7,133.6L304.0,136.5L305.6,139.2L307.2,141.9L309.0,144.5L310.7,147.1L312.5,149.7L314.4,152.2L316.3,154.7L318.3,157.0L320.5,159.3L322.7,161.4L325.0,163.5L327.4,165.5L329.8,167.5L332.2,169.5L334.6,171.5L337.1,173.4L339.6,175.3M311.2,41.9L309.4,44.5L307.7,47.1L306.2,49.8L304.8,52.6L303.8,55.6L302.9,58.6L302.2,61.6L301.6,64.7L301.0,67.8L300.5,70.9L300.1,74.0L299.7,77.2L299.4,80.3L299.3,83.4L299.1,86.6L299.0,89.7L299.0,92.9L299.0,96.0L299.1,99.2L299.2,102.3L299.4,105.5L299.7,108.6L300.1,111.7L300.6,114.8L301.2,117.9L301.9,121.0L302.8,124.0L303.7,127.0L304.7,130.0L305.9,132.9L307.3,135.7L308.9,138.4L310.5,141.0L312.3,143.6L314.0,146.2L315.8,148.8L317.7,151.3L319.6,153.7L321.7,156.0L323.8,158.3L326.1,160.4L328.4,162.4L330.8,164.4L333.2,166.4L335.6,168.3L338.1,170.2L340.6,172.1L343.1,174.0M314.2,41.5L312.5,44.1L310.9,46.7L309.3,49.4L308.0,52.2L307.0,55.2L306.1,58.2L305.4,61.2L304.8,64.3L304.2,67.4L303.7,70.5L303.3,73.6L302.9,76.7L302.7,79.8L302.5,82.9L302.4,86.1L302.3,89.2L302.2,92.3L302.2,95.5L302.3,98.6L302.4,101.7L302.6,104.9L302.9,108.0L303.4,111.1L303.9,114.2L304.5,117.2L305.2,120.3L306.0,123.3L306.9,126.3L308.0,129.2L309.2,132.1L310.6,134.9L312.2,137.6L313.8,140.2L315.6,142.8L317.4,145.3L319.2,147.8L321.1,150.3L323.0,152.7L325.1,155.1L327.2,157.2L329.5,159.3L331.8,161.3L334.2,163.3L336.6,165.2L339.1,167.1L341.5,169.0L344.0,170.9L346.5,172.8M317.3,41.1L315.6,43.8L314.0,46.4L312.5,49.1L311.2,51.9L310.2,54.8L309.4,57.8L308.7,60.9L308.1,63.9L307.5,67.0L307.0,70.0L306.5,73.1L306.2,76.2L305.9,79.3L305.7,82.4L305.6,85.6L305.5,88.7L305.5,91.8L305.5,94.9L305.5,98.0L305.6,101.1L305.9,104.3L306.2,107.4L306.6,110.4L307.1,113.5L307.7,116.6L308.4,119.6L309.2,122.6L310.2,125.6L311.2,128.5L312.5,131.3L313.9,134.1L315.5,136.8L317.1,139.4L318.9,141.9L320.7,144.4L322.5,146.9L324.4,149.4L326.4,151.8L328.4,154.1L330.6,156.2L332.9,158.3L335.2,160.2L337.6,162.1L340.1,164.0L342.5,165.9L345.0,167.8L347.5,169.6L349.9,171.5M320.4,40.8L318.7,43.4L317.1,46.0L315.6,48.7L314.4,51.5L313.4,54.5L312.6,57.4L311.9,60.5L311.3,63.5L310.7,66.6L310.2,69.6L309.8,72.7L309.4,75.8L309.1,78.9L308.9,81.9L308.8,85.0L308.7,88.1L308.7,91.2L308.7,94.3L308.7,97.4L308.9,100.5L309.1,103.6L309.4,106.7L309.8,109.8L310.3,112.9L310.9,115.9L311.6,118.9L312.5,121.9L313.4,124.8L314.5,127.7L315.7,130.6L317.2,133.3L318.8,135.9L320.5,138.5L322.2,141.0L324.0,143.5L325.9,146.0L327.8,148.4L329.7,150.8L331.8,153.1L334.0,155.2L336.3,157.2L338.7,159.1L341.1,161.0L343.5,162.9L345.9,164.7L348.4,166.6L350.9,168.4L353.4,170.2M323.5,40.5L321.8,43.1L320.2,45.7L318.8,48.4L317.5,51.2L316.6,54.1L315.8,57.1L315.1,60.1L314.5,63.1L314.0,66.1L313.4,69.2L313.0,72.2L312.6,75.3L312.4,78.4L312.2,81.4L312.0,84.5L312.0,87.6L311.9,90.7L311.9,93.8L312.0,96.9L312.1,100.0L312.3,103.0L312.6,106.1L313.0,109.2L313.5,112.2L314.2,115.2L314.9,118.2L315.7,121.2L316.7,124.1L317.8,127.0L319.0,129.8L320.4,132.5L322.0,135.1L323.8,137.7L325.5,140.2L327.3,142.7L329.2,145.1L331.1,147.5L333.1,149.8L335.2,152.1L337.4,154.2L339.7,156.1L342.1,158.0L344.5,159.9L346.9,161.7L349.4,163.6L351.9,165.4L354.3,167.2L356.9,168.9M326.6,40.1L324.9,42.7L323.4,45.3L321.9,48.0L320.7,50.8L319.8,53.7L319.0,56.7L318.4,59.7L317.8,62.7L317.2,65.7L316.7,68.7L316.2,71.8L315.9,74.8L315.6,77.9L315.4,81.0L315.3,84.0L315.2,87.1L315.1,90.2L315.1,93.2L315.2,96.3L315.3,99.4L315.5,102.4L315.8,105.5L316.3,108.5L316.8,111.5L317.4,114.6L318.1,117.5L318.9,120.5L319.9,123.4L321.0,126.2L322.3,129.0L323.7,131.7L325.3,134.3L327.1,136.8L328.9,139.3L330.7,141.8L332.5,144.2L334.4,146.6L336.4,148.9L338.5,151.1L340.8,153.1L343.1,155.1L345.5,156.9L347.9,158.7L350.4,160.6L352.8,162.4L355.3,164.2L357.8,165.9L360.3,167.7M329.6,39.8L328.0,42.4L326.5,45.0L325.1,47.7L323.9,50.5L323.0,53.4L322.2,56.3L321.6,59.3L321.0,62.3L320.4,65.3L319.9,68.3L319.5,71.3L319.1,74.4L318.8,77.4L318.6,80.5L318.5,83.5L318.4,86.6L318.4,89.6L318.4,92.7L318.4,95.7L318.5,98.8L318.8,101.8L319.1,104.9L319.5,107.9L320.0,110.9L320.6,113.9L321.3,116.8L322.2,119.8L323.2,122.7L324.3,125.5L325.6,128.3L327.0,130.9L328.6,133.5L330.4,136.0L332.2,138.4L334.0,140.9L335.9,143.3L337.8,145.6L339.8,147.9L341.9,150.1L344.2,152.1L346.5,154.0L348.9,155.8L351.4,157.6L353.8,159.4L356.3,161.2L358.7,162.9L361.2,164.7L363.8,166.4M332.7,39.4L331.2,42.0L329.6,44.6L328.2,47.3L327.1,50.1L326.2,53.0L325.4,55.9L324.8,58.9L324.2,61.9L323.7,64.9L323.2,67.9L322.7,70.9L322.4,73.9L322.1,76.9L321.9,80.0L321.7,83.0L321.6,86.0L321.6,89.1L321.6,92.1L321.6,95.1L321.8,98.2L322.0,101.2L322.3,104.2L322.7,107.2L323.2,110.2L323.8,113.2L324.6,116.2L325.4,119.1L326.4,121.9L327.5,124.8L328.8,127.5L330.3,130.1L331.9,132.7L333.7,135.2L335.5,137.6L337.3,140.0L339.2,142.4L341.1,144.7L343.1,146.9L345.3,149.1L347.5,151.1L349.9,153.0L352.3,154.7L354.8,156.5L357.2,158.2L359.7,160.0L362.2,161.7L364.7,163.4L367.2,165.1M335.8,39.0L334.3,41.7L332.8,44.3L331.4,46.9L330.3,49.7L329.4,52.6L328.7,55.6L328.0,58.5L327.5,61.5L326.9,64.5L326.4,67.4L326.0,70.4L325.6,73.4L325.3,76.4L325.1,79.5L325.0,82.5L324.9,85.5L324.8,88.5L324.8,91.5L324.9,94.6L325.0,97.6L325.2,100.6L325.5,103.6L325.9,106.6L326.5,109.6L327.1,112.5L327.8,115.5L328.7,118.4L329.6,121.2L330.8,124.0L332.1,126.7L333.6,129.4L335.2,131.9L337.0,134.3L338.8,136.7L340.7,139.1L342.5,141.5L344.5,143.8L346.5,146.0L348.7,148.1L350.9,150.1L353.3,151.9L355.7,153.6L358.2,155.4L360.7,157.1L363.1,158.8L365.6,160.5L368.1,162.2L370.6,163.8M338.9,38.7L337.4,41.3L335.9,43.9L334.5,46.6L333.4,49.4L332.6,52.3L331.9,55.2L331.3,58.1L330.7,61.1L330.2,64.0L329.7,67.0L329.2,70.0L328.8,73.0L328.5,76.0L328.3,79.0L328.2,82.0L328.1,85.0L328.1,88.0L328.0,91.0L328.1,94.0L328.2,97.0L328.4,100.0L328.8,103.0L329.2,106.0L329.7,108.9L330.3,111.9L331.0,114.8L331.9,117.7L332.9,120.5L334.0,123.3L335.4,126.0L336.8,128.6L338.5,131.1L340.3,133.5L342.1,135.9L344.0,138.2L345.9,140.5L347.8,142.8L349.9,145.0L352.0,147.1L354.3,149.0L356.7,150.8L359.1,152.6L361.6,154.2L364.1,155.9L366.6,157.6L369.1,159.3L371.6,160.9L374.1,162.6M341.9,38.4L340.5,40.9L339.0,43.6L337.7,46.2L336.6,49.0L335.8,51.9L335.1,54.8L334.5,57.7L333.9,60.7L333.4,63.6L332.9,66.6L332.4,69.5L332.1,72.5L331.8,75.5L331.6,78.5L331.4,81.4L331.3,84.4L331.3,87.4L331.3,90.4L331.3,93.4L331.4,96.4L331.7,99.4L332.0,102.4L332.4,105.3L332.9,108.3L333.5,111.2L334.3,114.1L335.1,116.9L336.1,119.8L337.3,122.5L338.6,125.2L340.1,127.8L341.8,130.3L343.6,132.6L345.4,135.0L347.3,137.3L349.2,139.6L351.2,141.9L353.2,144.1L355.4,146.1L357.7,148.0L360.1,149.8L362.6,151.5L365.1,153.1L367.5,154.7L370.0,156.4L372.5,158.1L375.0,159.7L377.5,161.3M345.0,38.0L343.6,40.6L342.1,43.2L340.8,45.9L339.8,48.7L339.0,51.5L338.3,54.4L337.7,57.4L337.2,60.3L336.6,63.2L336.1,66.1L335.7,69.1L335.3,72.0L335.0,75.0L334.8,78.0L334.6,80.9L334.6,83.9L334.5,86.9L334.5,89.9L334.5,92.8L334.7,95.8L334.9,98.8L335.2,101.7L335.6,104.7L336.1,107.6L336.8,110.5L337.5,113.4L338.4,116.2L339.4,119.0L340.6,121.8L341.9,124.4L343.4,127.0L345.1,129.4L346.9,131.8L348.8,134.1L350.6,136.4L352.5,138.7L354.5,140.9L356.6,143.1L358.8,145.1L361.1,147.0L363.5,148.7L366.0,150.4L368.5,152.0L371.0,153.6L373.5,155.2L376.0,156.8L378.5,158.4L381.0,160.0" stroke="#03300a" stroke-width="0.85" stroke-opacity="0.72" fill="none"/></g>
<clipPath id="bandclip"><path d="M223.0,56.5 226.3,56.0 229.5,55.4 232.8,54.7 236.1,54.1 239.3,53.4 242.6,52.7 245.8,52.1 249.1,51.4 252.3,50.7 255.6,50.1 258.8,49.4 262.1,48.8 265.3,48.1 268.6,47.5 271.9,46.8 275.1,46.2 278.4,45.5 281.6,44.8 284.9,44.2 288.1,43.5 291.4,42.8 294.6,42.2 297.9,41.5 301.1,40.9 304.4,40.1 307.6,39.4 310.9,38.7 314.1,38.0 317.4,37.3 320.6,36.7 323.9,36.1 327.2,35.5 330.4,34.9 333.7,34.3 337.0,33.7 340.2,33.1 343.5,32.5 346.8,31.9 350.0,31.3 353.3,30.7 356.5,30.1 359.8,29.4 363.1,28.8 366.3,28.1 369.6,27.7 372.9,27.3 376.2,27.1 379.5,27.2 382.8,27.8 386.0,28.7 L390,31.4 390.8,33.8 390.3,37.6 387,39 386.2,39.5 386,43.1 386.0,43.1 383.2,43.8 380.4,44.4 377.6,45.1 374.7,45.8 371.9,46.5 369.1,47.2 366.3,47.8 363.5,48.4 360.6,49.0 357.8,49.5 354.9,50.1 352.1,50.8 349.3,51.5 346.5,52.2 343.7,53.0 340.9,53.6 338.1,54.3 335.2,54.9 332.4,55.5 329.6,56.1 326.7,56.7 323.9,57.4 321.1,58.0 318.3,58.6 315.4,59.3 312.6,59.9 309.8,60.6 307.0,61.3 304.2,61.9 301.3,62.6 298.5,63.2 295.7,63.9 292.9,64.5 290.0,65.1 287.2,65.7 284.4,66.3 281.5,66.9 278.7,67.5 275.9,68.1 273.0,68.7 270.2,69.3 267.4,70.0 264.5,70.6 261.7,71.3 258.9,72.0 256.1,72.8 253.3,73.6 250.6,74.4 247.8,75.2 245.0,76.0 Z"/></clipPath>
<g clip-path="url(#bandclip)"><g filter="url(#soft2)"><rect x="215" y="25" width="180" height="60" fill="#30c418"/><path d="M232.0,62.0 235.2,61.4 238.3,60.9 241.5,60.3 244.6,59.8 247.8,59.2 251.0,58.6 254.1,58.0 257.3,57.4 260.4,56.8 263.6,56.2 266.7,55.6 269.9,55.0 273.0,54.4 276.2,53.8 279.3,53.2 282.5,52.6 285.6,52.0 288.8,51.4 291.9,50.8 295.1,50.2 298.2,49.5 301.4,48.9 304.5,48.2 307.6,47.5 310.8,46.9 313.9,46.2 317.1,45.6 320.2,45.0 323.4,44.4 326.5,43.8 329.7,43.2 332.8,42.6 336.0,42.1 339.2,41.5 342.3,40.9 345.5,40.3 348.6,39.7 351.8,39.1 354.9,38.5 358.1,37.9 361.2,37.4 364.4,36.9 367.6,36.5 370.8,36.2 374.0,35.9 377.2,35.6 380.4,35.4 383.6,35.4 386.8,35.4 390.0,35.5 L386.0,43.1 383.2,43.8 380.4,44.4 377.6,45.1 374.7,45.8 371.9,46.5 369.1,47.2 366.3,47.8 363.5,48.4 360.6,49.0 357.8,49.5 354.9,50.1 352.1,50.8 349.3,51.5 346.5,52.2 343.7,53.0 340.9,53.6 338.1,54.3 335.2,54.9 332.4,55.5 329.6,56.1 326.7,56.7 323.9,57.4 321.1,58.0 318.3,58.6 315.4,59.3 312.6,59.9 309.8,60.6 307.0,61.3 304.2,61.9 301.3,62.6 298.5,63.2 295.7,63.9 292.9,64.5 290.0,65.1 287.2,65.7 284.4,66.3 281.5,66.9 278.7,67.5 275.9,68.1 273.0,68.7 270.2,69.3 267.4,70.0 264.5,70.6 261.7,71.3 258.9,72.0 256.1,72.8 253.3,73.6 250.6,74.4 247.8,75.2 245.0,76.0 Z" fill="#1c9c22"/><clipPath id="lowerclip"><path d="M232.0,62.0 235.2,61.4 238.3,60.9 241.5,60.3 244.6,59.8 247.8,59.2 251.0,58.6 254.1,58.0 257.3,57.4 260.4,56.8 263.6,56.2 266.7,55.6 269.9,55.0 273.0,54.4 276.2,53.8 279.3,53.2 282.5,52.6 285.6,52.0 288.8,51.4 291.9,50.8 295.1,50.2 298.2,49.5 301.4,48.9 304.5,48.2 307.6,47.5 310.8,46.9 313.9,46.2 317.1,45.6 320.2,45.0 323.4,44.4 326.5,43.8 329.7,43.2 332.8,42.6 336.0,42.1 339.2,41.5 342.3,40.9 345.5,40.3 348.6,39.7 351.8,39.1 354.9,38.5 358.1,37.9 361.2,37.4 364.4,36.9 367.6,36.5 370.8,36.2 374.0,35.9 377.2,35.6 380.4,35.4 383.6,35.4 386.8,35.4 390.0,35.5 L386.0,43.1 383.2,43.8 380.4,44.4 377.6,45.1 374.7,45.8 371.9,46.5 369.1,47.2 366.3,47.8 363.5,48.4 360.6,49.0 357.8,49.5 354.9,50.1 352.1,50.8 349.3,51.5 346.5,52.2 343.7,53.0 340.9,53.6 338.1,54.3 335.2,54.9 332.4,55.5 329.6,56.1 326.7,56.7 323.9,57.4 321.1,58.0 318.3,58.6 315.4,59.3 312.6,59.9 309.8,60.6 307.0,61.3 304.2,61.9 301.3,62.6 298.5,63.2 295.7,63.9 292.9,64.5 290.0,65.1 287.2,65.7 284.4,66.3 281.5,66.9 278.7,67.5 275.9,68.1 273.0,68.7 270.2,69.3 267.4,70.0 264.5,70.6 261.7,71.3 258.9,72.0 256.1,72.8 253.3,73.6 250.6,74.4 247.8,75.2 245.0,76.0 Z"/></clipPath><g clip-path="url(#lowerclip)"><path d="M258.0,66.0 258.9,63.8 259.6,60.6 261.2,56.9 264.3,53.2 270.0,50.0 279.7,47.1 292.8,44.0 307.2,41.3 320.3,39.2 330.0,38.0 335.8,37.9 339.2,38.7 340.9,40.2 341.6,42.0 342.0,44.0 342.4,46.4 342.4,49.2 341.4,52.3 339.1,55.3 335.0,58.0 328.2,60.4 319.1,62.9 308.9,65.1 298.8,66.8 290.0,68.0 282.3,68.3 274.7,68.0 267.9,67.2 262.1,66.5 258.0,66.0Z" fill="#88b800"/><path d="M240.0,70.0 241.3,68.2 243.2,65.6 245.4,62.7 247.7,60.0 250.0,58.0 252.5,56.7 255.2,55.7 258.0,55.2 260.3,55.2 262.0,56.0 263.1,58.0 263.9,61.1 264.2,64.6 263.6,67.8 262.0,70.0 258.7,70.9 253.7,71.0 248.3,70.7 243.3,70.2 240.0,70.0Z" fill="#58b010"/><path d="M350.0,44.0 356.4,42.3 365.8,39.7 376.2,36.9 385.6,34.8 392.0,34.0 395.3,35.1 396.9,37.5 396.9,40.6 395.2,43.6 392.0,46.0 386.0,47.8 377.1,49.5 367.2,50.9 358.2,51.8 352.0,52.0 349.1,51.2 348.4,49.4 348.8,47.3 349.7,45.3 350.0,44.0Z" fill="#0e8a48"/></g><path d="M258.0,50.0 259.7,49.2 261.9,48.0 264.7,46.6 268.1,45.2 272.0,44.0 276.6,43.0 281.9,42.0 287.6,41.0 293.7,40.0 300.0,39.0 306.9,37.8 314.6,36.4 322.4,35.0 329.4,33.8 335.0,33.0 339.0,32.5 341.9,32.2 344.0,32.1 345.3,32.4 346.0,33.0 346.4,34.1 346.5,35.7 345.7,37.6 343.6,39.4 340.0,41.0 334.0,42.3 326.1,43.5 317.1,44.6 308.0,45.8 300.0,47.0 292.7,48.5 285.6,50.3 278.8,51.9 272.9,53.3 268.0,54.0 264.4,53.8 261.9,53.0 260.2,51.8 259.0,50.7 258.0,50.0Z" fill="#c8da00"/><path d="M289.0,51.2 289.9,50.9 291.2,50.6 292.7,50.1 294.4,49.7 296.0,49.3 297.8,48.9 299.8,48.4 301.8,48.0 303.6,47.7 305.0,47.6 306.0,47.9 306.7,48.4 307.1,49.0 307.1,49.7 306.5,50.3 305.1,50.8 303.0,51.4 300.5,52.0 298.1,52.4 296.0,52.6 294.3,52.5 292.6,52.2 291.1,51.8 289.9,51.4 289.0,51.2Z" fill="#ea9000"/><path d="M350.0,30.0 356.4,29.1 365.8,27.7 376.2,26.2 385.6,25.2 392.0,25.0 395.4,26.0 397.0,27.9 397.0,30.3 395.4,32.6 392.0,34.5 385.6,36.1 376.2,37.7 365.8,39.1 356.4,40.0 350.0,40.0 347.3,38.8 347.0,36.6 348.0,34.0 349.3,31.6 350.0,30.0Z" fill="#1cbc24"/></g><path d="M223.0,56.5L232.0,62.0M226.3,56.0L235.2,61.4M229.5,55.4L238.3,60.9M232.8,54.7L241.5,60.3M236.1,54.1L244.6,59.8M239.3,53.4L247.8,59.2M242.6,52.7L251.0,58.6M245.8,52.1L254.1,58.0M249.1,51.4L257.3,57.4M252.3,50.7L260.4,56.8M255.6,50.1L263.6,56.2M258.8,49.4L266.7,55.6M262.1,48.8L269.9,55.0M265.3,48.1L273.0,54.4M268.6,47.5L276.2,53.8M271.9,46.8L279.3,53.2M275.1,46.2L282.5,52.6M278.4,45.5L285.6,52.0M281.6,44.8L288.8,51.4M284.9,44.2L291.9,50.8M288.1,43.5L295.1,50.2M291.4,42.8L298.2,49.5M294.6,42.2L301.4,48.9M297.9,41.5L304.5,48.2M301.1,40.9L307.6,47.5M304.4,40.1L310.8,46.9M307.6,39.4L313.9,46.2M310.9,38.7L317.1,45.6M314.1,38.0L320.2,45.0M317.4,37.3L323.4,44.4M320.6,36.7L326.5,43.8M323.9,36.1L329.7,43.2M327.2,35.5L332.8,42.6M330.4,34.9L336.0,42.1M333.7,34.3L339.2,41.5M337.0,33.7L342.3,40.9M340.2,33.1L345.5,40.3M343.5,32.5L348.6,39.7M346.8,31.9L351.8,39.1M350.0,31.3L354.9,38.5M353.3,30.7L358.1,37.9M356.5,30.1L361.2,37.4M359.8,29.4L364.4,36.9M363.1,28.8L367.6,36.5M366.3,28.1L370.8,36.2M369.6,27.7L374.0,35.9M372.9,27.3L377.2,35.6M376.2,27.1L380.4,35.4M379.5,27.2L383.6,35.4M382.8,27.8L386.8,35.4M386.0,28.7L390.0,35.5M223.0,56.5L226.3,56.0L229.5,55.4L232.8,54.7L236.1,54.1L239.3,53.4L242.6,52.7L245.8,52.1L249.1,51.4L252.3,50.7L255.6,50.1L258.8,49.4L262.1,48.8L265.3,48.1L268.6,47.5L271.9,46.8L275.1,46.2L278.4,45.5L281.6,44.8L284.9,44.2L288.1,43.5L291.4,42.8L294.6,42.2L297.9,41.5L301.1,40.9L304.4,40.1L307.6,39.4L310.9,38.7L314.1,38.0L317.4,37.3L320.6,36.7L323.9,36.1L327.2,35.5L330.4,34.9L333.7,34.3L337.0,33.7L340.2,33.1L343.5,32.5L346.8,31.9L350.0,31.3L353.3,30.7L356.5,30.1L359.8,29.4L363.1,28.8L366.3,28.1L369.6,27.7L372.9,27.3L376.2,27.1L379.5,27.2L382.8,27.8L386.0,28.7M225.2,57.9L228.5,57.4L231.7,56.8L235.0,56.1L238.2,55.5L241.4,54.8L244.7,54.2L247.9,53.5L251.1,52.9L254.3,52.3L257.6,51.6L260.8,51.0L264.0,50.3L267.3,49.7L270.5,49.1L273.7,48.4L277.0,47.8L280.2,47.1L283.4,46.5L286.6,45.8L289.9,45.2L293.1,44.5L296.3,43.9L299.5,43.2L302.8,42.5L306.0,41.8L309.2,41.1L312.4,40.4L315.6,39.8L318.9,39.1L322.1,38.5L325.3,37.8L328.6,37.2L331.8,36.7L335.1,36.1L338.3,35.5L341.5,34.9L344.8,34.3L348.0,33.7L351.2,33.1L354.5,32.5L357.7,31.9L361.0,31.3L364.2,30.7L367.4,30.1L370.7,29.7L374.0,29.4L377.3,29.2L380.6,29.2L383.8,29.7L387.0,30.4M227.5,59.2L230.7,58.7L233.9,58.1L237.1,57.5L240.3,56.9L243.6,56.3L246.8,55.7L250.0,55.0L253.2,54.4L256.4,53.8L259.6,53.2L262.8,52.5L266.0,51.9L269.2,51.3L272.4,50.7L275.6,50.0L278.8,49.4L282.0,48.8L285.2,48.1L288.4,47.5L291.6,46.8L294.8,46.2L298.0,45.5L301.2,44.9L304.4,44.2L307.6,43.5L310.8,42.8L314.0,42.2L317.2,41.5L320.4,40.8L323.6,40.2L326.8,39.6L330.0,39.0L333.2,38.5L336.4,37.9L339.6,37.3L342.8,36.7L346.1,36.1L349.3,35.5L352.5,34.9L355.7,34.3L358.9,33.7L362.1,33.2L365.3,32.6L368.5,32.1L371.8,31.8L375.0,31.5L378.3,31.3L381.6,31.3L384.8,31.6L388.0,32.1M229.8,60.6L232.9,60.1L236.1,59.5L239.3,58.9L242.5,58.3L245.7,57.8L248.9,57.1L252.0,56.5L255.2,55.9L258.4,55.3L261.6,54.7L264.7,54.1L267.9,53.5L271.1,52.8L274.3,52.2L277.5,51.6L280.6,51.0L283.8,50.4L287.0,49.8L290.2,49.1L293.3,48.5L296.5,47.9L299.7,47.2L302.8,46.5L306.0,45.9L309.2,45.2L312.3,44.5L315.5,43.9L318.7,43.2L321.9,42.6L325.0,42.0L328.2,41.4L331.4,40.8L334.6,40.3L337.8,39.7L341.0,39.1L344.2,38.5L347.3,37.9L350.5,37.3L353.7,36.7L356.9,36.1L360.1,35.5L363.3,35.0L366.5,34.6L369.7,34.1L372.9,33.8L376.1,33.5L379.3,33.3L382.6,33.3L385.8,33.5L389.0,33.8M232.0,62.0L235.2,61.4L238.3,60.9L241.5,60.3L244.6,59.8L247.8,59.2L251.0,58.6L254.1,58.0L257.3,57.4L260.4,56.8L263.6,56.2L266.7,55.6L269.9,55.0L273.0,54.4L276.2,53.8L279.3,53.2L282.5,52.6L285.6,52.0L288.8,51.4L291.9,50.8L295.1,50.2L298.2,49.5L301.4,48.9L304.5,48.2L307.6,47.5L310.8,46.9L313.9,46.2L317.1,45.6L320.2,45.0L323.4,44.4L326.5,43.8L329.7,43.2L332.8,42.6L336.0,42.1L339.2,41.5L342.3,40.9L345.5,40.3L348.6,39.7L351.8,39.1L354.9,38.5L358.1,37.9L361.2,37.4L364.4,36.9L367.6,36.5L370.8,36.2L374.0,35.9L377.2,35.6L380.4,35.4L383.6,35.4L386.8,35.4L390.0,35.5M232.0,62.0L245.0,76.0M235.2,61.4L247.8,75.2M238.3,60.9L250.6,74.4M241.5,60.3L253.3,73.6M244.6,59.8L256.1,72.8M247.8,59.2L258.9,72.0M251.0,58.6L261.7,71.3M254.1,58.0L264.5,70.6M257.3,57.4L267.4,70.0M260.4,56.8L270.2,69.3M263.6,56.2L273.0,68.7M266.7,55.6L275.9,68.1M269.9,55.0L278.7,67.5M273.0,54.4L281.5,66.9M276.2,53.8L284.4,66.3M279.3,53.2L287.2,65.7M282.5,52.6L290.0,65.1M285.6,52.0L292.9,64.5M288.8,51.4L295.7,63.9M291.9,50.8L298.5,63.2M295.1,50.2L301.3,62.6M298.2,49.5L304.2,61.9M301.4,48.9L307.0,61.3M304.5,48.2L309.8,60.6M307.6,47.5L312.6,59.9M310.8,46.9L315.4,59.3M313.9,46.2L318.3,58.6M317.1,45.6L321.1,58.0M320.2,45.0L323.9,57.4M323.4,44.4L326.7,56.7M326.5,43.8L329.6,56.1M329.7,43.2L332.4,55.5M332.8,42.6L335.2,54.9M336.0,42.1L338.1,54.3M339.2,41.5L340.9,53.6M342.3,40.9L343.7,53.0M345.5,40.3L346.5,52.2M348.6,39.7L349.3,51.5M351.8,39.1L352.1,50.8M354.9,38.5L354.9,50.1M358.1,37.9L357.8,49.5M361.2,37.4L360.6,49.0M364.4,36.9L363.5,48.4M367.6,36.5L366.3,47.8M370.8,36.2L369.1,47.2M374.0,35.9L371.9,46.5M377.2,35.6L374.7,45.8M380.4,35.4L377.6,45.1M383.6,35.4L380.4,44.4M386.8,35.4L383.2,43.8M390.0,35.5L386.0,43.1M232.0,62.0L235.2,61.4L238.3,60.9L241.5,60.3L244.6,59.8L247.8,59.2L251.0,58.6L254.1,58.0L257.3,57.4L260.4,56.8L263.6,56.2L266.7,55.6L269.9,55.0L273.0,54.4L276.2,53.8L279.3,53.2L282.5,52.6L285.6,52.0L288.8,51.4L291.9,50.8L295.1,50.2L298.2,49.5L301.4,48.9L304.5,48.2L307.6,47.5L310.8,46.9L313.9,46.2L317.1,45.6L320.2,45.0L323.4,44.4L326.5,43.8L329.7,43.2L332.8,42.6L336.0,42.1L339.2,41.5L342.3,40.9L345.5,40.3L348.6,39.7L351.8,39.1L354.9,38.5L358.1,37.9L361.2,37.4L364.4,36.9L367.6,36.5L370.8,36.2L374.0,35.9L377.2,35.6L380.4,35.4L383.6,35.4L386.8,35.4L390.0,35.5M236.3,66.7L239.4,66.0L242.4,65.4L245.4,64.8L248.5,64.1L251.5,63.5L254.5,62.9L257.6,62.2L260.6,61.6L263.7,61.0L266.7,60.4L269.8,59.8L272.8,59.2L275.9,58.6L278.9,58.0L281.9,57.4L285.0,56.8L288.0,56.2L291.1,55.6L294.1,55.0L297.2,54.3L300.2,53.7L303.2,53.0L306.3,52.3L309.3,51.7L312.3,51.0L315.4,50.4L318.4,49.7L321.4,49.1L324.5,48.5L327.5,47.9L330.6,47.3L333.6,46.7L336.7,46.1L339.7,45.5L342.8,44.9L345.8,44.3L348.8,43.6L351.9,43.0L354.9,42.3L358.0,41.8L361.0,41.2L364.1,40.8L367.2,40.3L370.2,39.9L373.3,39.4L376.4,39.0L379.4,38.7L382.5,38.4L385.6,38.2L388.7,38.0M240.7,71.3L243.6,70.6L246.5,69.9L249.4,69.2L252.3,68.5L255.2,67.8L258.1,67.1L261.1,66.4L264.0,65.8L266.9,65.2L269.9,64.5L272.8,63.9L275.7,63.3L278.7,62.7L281.6,62.1L284.6,61.5L287.5,60.9L290.4,60.3L293.4,59.7L296.3,59.1L299.2,58.5L302.2,57.8L305.1,57.1L308.0,56.5L311.0,55.8L313.9,55.2L316.8,54.5L319.7,53.9L322.7,53.2L325.6,52.6L328.5,52.0L331.5,51.4L334.4,50.8L337.4,50.2L340.3,49.6L343.2,48.9L346.2,48.3L349.1,47.6L352.0,46.9L354.9,46.2L357.9,45.6L360.8,45.1L363.8,44.6L366.7,44.1L369.7,43.5L372.6,43.0L375.6,42.4L378.5,41.9L381.4,41.4L384.4,41.0L387.3,40.6M245.0,76.0L247.8,75.2L250.6,74.4L253.3,73.6L256.1,72.8L258.9,72.0L261.7,71.3L264.5,70.6L267.4,70.0L270.2,69.3L273.0,68.7L275.9,68.1L278.7,67.5L281.5,66.9L284.4,66.3L287.2,65.7L290.0,65.1L292.9,64.5L295.7,63.9L298.5,63.2L301.3,62.6L304.2,61.9L307.0,61.3L309.8,60.6L312.6,59.9L315.4,59.3L318.3,58.6L321.1,58.0L323.9,57.4L326.7,56.7L329.6,56.1L332.4,55.5L335.2,54.9L338.1,54.3L340.9,53.6L343.7,53.0L346.5,52.2L349.3,51.5L352.1,50.8L354.9,50.1L357.8,49.5L360.6,49.0L363.5,48.4L366.3,47.8L369.1,47.2L371.9,46.5L374.7,45.8L377.6,45.1L380.4,44.4L383.2,43.8L386.0,43.1" stroke="#03300a" stroke-width="0.85" stroke-opacity="0.72" fill="none"/><path d="M232.0,62.0L235.2,61.4L238.3,60.9L241.5,60.3L244.6,59.8L247.8,59.2L251.0,58.6L254.1,58.0L257.3,57.4L260.4,56.8L263.6,56.2L266.7,55.6L269.9,55.0L273.0,54.4L276.2,53.8L279.3,53.2L282.5,52.6L285.6,52.0L288.8,51.4L291.9,50.8L295.1,50.2L298.2,49.5L301.4,48.9L304.5,48.2L307.6,47.5L310.8,46.9L313.9,46.2L317.1,45.6L320.2,45.0L323.4,44.4L326.5,43.8L329.7,43.2L332.8,42.6L336.0,42.1L339.2,41.5L342.3,40.9L345.5,40.3L348.6,39.7L351.8,39.1L354.9,38.5L358.1,37.9L361.2,37.4L364.4,36.9L367.6,36.5L370.8,36.2L374.0,35.9L377.2,35.6L380.4,35.4L383.6,35.4L386.8,35.4L390.0,35.5" stroke="#0a3010" stroke-width="0.9" stroke-opacity="0.75" fill="none"/><path d="M245.0,76.0L247.8,75.2L250.6,74.4L253.3,73.6L256.1,72.8L258.9,72.0L261.7,71.3L264.5,70.6L267.4,70.0L270.2,69.3L273.0,68.7L275.9,68.1L278.7,67.5L281.5,66.9L284.4,66.3L287.2,65.7L290.0,65.1L292.9,64.5L295.7,63.9L298.5,63.2L301.3,62.6L304.2,61.9L307.0,61.3L309.8,60.6L312.6,59.9L315.4,59.3L318.3,58.6L321.1,58.0L323.9,57.4L326.7,56.7L329.6,56.1L332.4,55.5L335.2,54.9L338.1,54.3L340.9,53.6L343.7,53.0L346.5,52.2L349.3,51.5L352.1,50.8L354.9,50.1L357.8,49.5L360.6,49.0L363.5,48.4L366.3,47.8L369.1,47.2L371.9,46.5L374.7,45.8L377.6,45.1L380.4,44.4L383.2,43.8L386.0,43.1" stroke="#0a3010" stroke-width="0.9" stroke-opacity="0.7" fill="none"/></g>
<clipPath id="ringclip"><path d="M223.0,56.5 222.2,56.7 221.1,57.0 219.8,57.4 218.5,57.9 217.1,58.3 215.9,58.8 214.8,59.3 213.8,59.7 212.8,60.2 211.7,60.8 210.7,61.5 209.6,62.4 208.4,63.5 207.2,64.7 205.9,66.1 204.6,67.5 203.4,69.1 202.4,70.7 201.5,72.4 200.6,74.1 199.9,75.9 199.2,77.8 198.6,79.8 198.0,82.0 197.5,84.4 197.0,86.9 196.6,89.5 196.3,92.2 196.0,95.1 195.8,98.0 195.6,101.1 195.5,104.3 195.4,107.7 195.4,111.0 195.4,114.3 195.5,117.5 195.6,120.6 195.7,123.6 195.8,126.6 196.1,129.5 196.3,132.3 196.7,135.0 197.1,137.5 197.7,139.9 198.2,142.2 198.9,144.4 199.7,146.6 200.5,149.0 201.5,151.5 202.6,154.0 203.9,156.6 205.1,159.1 206.4,161.6 207.5,164.0 208.5,166.3 209.5,168.5 210.4,170.6 211.4,172.8 212.4,174.9 213.4,177.0 214.5,179.1 215.6,181.2 216.8,183.4 217.9,185.5 219.2,187.6 220.4,189.7 221.7,191.9 223.0,194.2 224.4,196.4 225.8,198.6 227.2,200.7 228.5,202.6 229.8,204.2 231.0,205.7 232.3,207.0 233.5,208.3 234.8,209.5 236.1,210.7 237.5,212.0 239.0,213.3 240.5,214.6 242.0,215.8 243.3,216.8 244.4,217.7 245.3,218.4 245.9,218.9 246.5,219.3 246.9,219.6 247.2,219.8 247.5,220.0 L243.0,211.0 242.1,210.2 240.9,209.0 239.5,207.7 238.0,206.2 236.5,204.6 235.0,203.0 233.6,201.4 232.2,199.8 230.8,198.1 229.4,196.2 227.9,194.2 226.5,192.0 225.0,189.5 223.6,186.8 222.1,183.9 220.6,180.9 219.2,177.9 218.0,175.0 216.9,172.2 215.8,169.4 214.9,166.6 214.0,163.7 213.2,160.9 212.5,158.0 211.9,155.1 211.4,152.1 211.0,149.1 210.7,146.0 210.3,143.0 210.0,140.0 209.7,137.0 209.3,134.0 209.0,131.0 208.7,128.0 208.5,125.0 208.3,122.0 208.1,119.0 208.0,115.9 207.9,112.9 207.8,109.9 207.8,106.9 207.8,104.0 207.9,101.1 207.9,98.3 208.1,95.5 208.2,92.8 208.5,90.3 208.8,88.0 209.2,85.9 209.6,84.1 210.1,82.3 210.6,80.8 211.3,79.3 212.0,78.0 212.8,76.8 213.6,75.7 214.6,74.7 215.6,73.9 216.7,73.1 218.0,72.5 219.4,72.0 221.0,71.6 222.8,71.2 224.5,71.1 226.3,71.0 228.0,71.0 229.7,71.2 231.4,71.5 233.2,71.9 234.9,72.4 236.5,73.0 238.0,73.5 239.4,74.1 240.8,74.7 242.1,75.4 243.3,76.1 244.3,76.6 245.0,77.0 Z"/></clipPath>
<g clip-path="url(#ringclip)"><g filter="url(#soft2)"><path d="M223.0,56.5 222.2,56.7 221.1,57.0 219.8,57.4 218.5,57.9 217.1,58.3 215.9,58.8 214.8,59.3 213.8,59.7 212.8,60.2 211.7,60.8 210.7,61.5 209.6,62.4 208.4,63.5 207.2,64.7 205.9,66.1 204.6,67.5 203.4,69.1 202.4,70.7 201.5,72.4 200.6,74.1 199.9,75.9 199.2,77.8 198.6,79.8 198.0,82.0 197.5,84.4 197.0,86.9 196.6,89.5 196.3,92.2 196.0,95.1 195.8,98.0 195.6,101.1 195.5,104.3 195.4,107.7 195.4,111.0 195.4,114.3 195.5,117.5 195.6,120.6 195.7,123.6 195.8,126.6 196.1,129.5 196.3,132.3 196.7,135.0 197.1,137.5 197.7,139.9 198.2,142.2 198.9,144.4 199.7,146.6 200.5,149.0 201.5,151.5 202.6,154.0 203.9,156.6 205.1,159.1 206.4,161.6 207.5,164.0 208.5,166.3 209.5,168.5 210.4,170.6 211.4,172.8 212.4,174.9 213.4,177.0 214.5,179.1 215.6,181.2 216.8,183.4 217.9,185.5 219.2,187.6 220.4,189.7 221.7,191.9 223.0,194.2 224.4,196.4 225.8,198.6 227.2,200.7 228.5,202.6 229.8,204.2 231.0,205.7 232.3,207.0 233.5,208.3 234.8,209.5 236.1,210.7 237.5,212.0 239.0,213.3 240.5,214.6 242.0,215.8 243.3,216.8 244.4,217.7 245.3,218.4 245.9,218.9 246.5,219.3 246.9,219.6 247.2,219.8 247.5,220.0 L243.0,211.0 242.1,210.2 240.9,209.0 239.5,207.7 238.0,206.2 236.5,204.6 235.0,203.0 233.6,201.4 232.2,199.8 230.8,198.1 229.4,196.2 227.9,194.2 226.5,192.0 225.0,189.5 223.6,186.8 222.1,183.9 220.6,180.9 219.2,177.9 218.0,175.0 216.9,172.2 215.8,169.4 214.9,166.6 214.0,163.7 213.2,160.9 212.5,158.0 211.9,155.1 211.4,152.1 211.0,149.1 210.7,146.0 210.3,143.0 210.0,140.0 209.7,137.0 209.3,134.0 209.0,131.0 208.7,128.0 208.5,125.0 208.3,122.0 208.1,119.0 208.0,115.9 207.9,112.9 207.8,109.9 207.8,106.9 207.8,104.0 207.9,101.1 207.9,98.3 208.1,95.5 208.2,92.8 208.5,90.3 208.8,88.0 209.2,85.9 209.6,84.1 210.1,82.3 210.6,80.8 211.3,79.3 212.0,78.0 212.8,76.8 213.6,75.7 214.6,74.7 215.6,73.9 216.7,73.1 218.0,72.5 219.4,72.0 221.0,71.6 222.8,71.2 224.5,71.1 226.3,71.0 228.0,71.0 229.7,71.2 231.4,71.5 233.2,71.9 234.9,72.4 236.5,73.0 238.0,73.5 239.4,74.1 240.8,74.7 242.1,75.4 243.3,76.1 244.3,76.6 245.0,77.0 Z" fill="#1aa828"/><path d="M223.0,56.5 219.0,57.7 215.1,59.2 211.4,61.1 208.2,63.7 205.3,66.8 202.8,70.1 200.8,73.8 L204.0,75.4 205.8,72.1 207.9,69.3 210.4,66.8 213.2,64.6 216.4,63.0 219.7,61.8 229.6,62.6 Z" fill="#7aa07a"/><path d="M229.6,62.6 219.7,61.8 216.4,63.0 213.2,64.6 210.4,66.8 207.9,69.3 205.8,72.1 204.0,75.4 L207.3,77.1 208.9,74.3 210.7,72.0 212.8,70.0 215.1,68.3 217.7,67.1 220.5,66.3 236.6,69.2 Z" fill="#28b838"/><path d="M236.6,69.2 220.5,66.3 217.7,67.1 215.1,68.3 212.8,70.0 210.7,72.0 208.9,74.3 207.3,77.1 L209.2,78.1 210.7,75.5 212.3,73.6 214.1,71.8 216.2,70.5 218.5,69.4 220.9,68.7 240.6,72.9 Z" fill="#e02810"/><path d="M240.6,72.9 220.9,68.7 218.5,69.4 216.2,70.5 214.1,71.8 212.3,73.6 210.7,75.5 209.2,78.1 L211.3,79.2 212.7,76.9 214.0,75.3 215.6,73.9 217.4,72.8 219.3,72.0 221.4,71.5 245.0,77.0 Z" fill="#d8d800"/><path d="M202.8,70.1 200.8,73.8 199.3,77.6 198.1,81.6 197.2,85.7 196.6,89.9 196.1,94.0 195.8,98.2 195.6,102.3 195.5,106.5 195.4,110.7 195.5,114.9 195.5,119.0 195.7,123.2 195.9,127.4 196.3,131.6 196.8,135.7 197.6,139.8 198.7,143.8 200.1,147.8 201.6,151.7 203.3,155.5 205.2,159.2 L206.8,158.9 205.2,155.1 203.7,151.4 202.4,147.5 201.3,143.5 200.3,139.5 199.6,135.4 199.1,131.3 198.7,127.2 198.5,123.1 198.3,119.0 198.2,114.8 198.1,110.7 198.2,106.5 198.3,102.4 198.5,98.3 198.8,94.2 199.2,90.1 199.8,86.2 200.6,82.2 201.7,78.5 203.1,75.0 205.0,71.6 Z" fill="#1a6a2a"/><path d="M205.0,71.6 203.1,75.0 201.7,78.5 200.6,82.2 199.8,86.2 199.2,90.1 198.8,94.2 198.5,98.3 198.3,102.4 198.2,106.5 198.1,110.7 198.2,114.8 198.3,119.0 198.5,123.1 198.7,127.2 199.1,131.3 199.6,135.4 200.3,139.5 201.3,143.5 202.4,147.5 203.7,151.4 205.2,155.1 L210.4,154.3 209.7,150.7 209.0,146.8 208.4,142.7 207.9,138.5 207.4,134.6 206.9,130.5 206.6,126.5 206.3,122.6 206.1,118.7 205.9,114.5 205.8,110.6 205.8,106.6 205.9,102.4 206.0,98.5 206.2,94.8 206.5,90.9 207.0,87.5 207.7,83.9 208.5,81.1 209.7,78.3 211.1,75.8 Z" fill="#959595"/><path d="M211.1,75.8 209.7,78.3 208.5,81.1 207.7,83.9 207.0,87.5 206.5,90.9 206.2,94.8 206.0,98.5 205.9,102.4 205.8,106.6 205.8,110.6 205.9,114.5 206.1,118.7 206.3,122.6 206.6,126.5 206.9,130.5 207.4,134.6 207.9,138.5 208.4,142.7 209.0,146.8 209.7,150.7 210.4,154.3 211.3,158.1 212.3,161.6 213.5,165.4 L214.4,165.1 213.3,161.4 212.5,157.9 211.7,154.0 211.2,150.5 210.7,146.6 210.3,142.5 209.8,138.3 209.4,134.4 209.0,130.3 208.6,126.4 208.3,122.5 208.1,118.6 207.9,114.4 207.8,110.5 207.8,106.6 207.8,102.4 207.9,98.5 208.1,95.0 208.4,91.1 208.8,87.8 209.5,84.3 210.3,81.7 211.3,79.2 212.7,76.9 Z" fill="#e81010"/><path d="M205.0,155.2 206.6,158.9 208.3,162.6 209.9,166.4 211.5,170.2 213.1,174.0 214.9,177.8 216.8,181.4 218.8,185.1 220.8,188.7 222.9,192.3 225.0,195.8 227.2,199.2 229.7,202.6 L231.2,201.4 228.6,198.1 226.4,195.0 224.3,191.4 222.3,187.9 220.4,184.4 218.5,180.7 216.7,177.1 215.0,173.2 213.6,169.5 212.1,165.8 210.8,162.0 209.6,158.4 208.4,154.6 Z" fill="#e05010"/><path d="M208.4,154.6 209.6,158.4 210.8,162.0 212.1,165.8 213.6,169.5 215.0,173.2 216.7,177.1 218.5,180.7 220.4,184.4 222.3,187.9 224.3,191.4 226.4,195.0 228.6,198.1 231.2,201.4 L232.6,200.2 230.0,197.0 227.8,194.1 225.6,190.5 223.7,187.1 222.0,183.7 220.1,179.9 218.6,176.3 217.0,172.4 215.6,168.8 214.4,165.1 213.3,161.4 212.5,157.9 211.7,154.0 Z" fill="#e0b000"/><path d="M229.7,202.6 232.4,205.7 235.3,208.7 238.3,211.5 241.3,214.1 243.9,216.2 246.6,218.2 L243.0,211.0 243.0,211.0 243.0,211.0 240.8,208.9 237.8,206.0 235.2,203.2 232.6,200.2 Z" fill="#60c010"/></g><path d="M223.0,56.5L245.0,77.0M219.0,57.7L221.4,71.5M215.1,59.2L219.3,72.0M211.4,61.1L217.4,72.8M208.2,63.7L215.6,73.9M205.3,66.8L214.0,75.3M202.8,70.1L212.7,76.9M200.8,73.8L211.3,79.2M199.3,77.6L210.3,81.7M198.1,81.6L209.5,84.3M197.2,85.7L208.8,87.8M196.6,89.9L208.4,91.1M196.1,94.0L208.1,95.0M195.8,98.2L207.9,98.5M195.6,102.3L207.8,102.4M195.5,106.5L207.8,106.6M195.4,110.7L207.8,110.5M195.5,114.9L207.9,114.4M195.5,119.0L208.1,118.6M195.7,123.2L208.3,122.5M195.9,127.4L208.6,126.4M196.3,131.6L209.0,130.3M196.8,135.7L209.4,134.4M197.6,139.8L209.8,138.3M198.7,143.8L210.3,142.5M200.1,147.8L210.7,146.6M201.6,151.7L211.2,150.5M203.3,155.5L211.7,154.0M205.2,159.2L212.5,157.9M207.0,163.0L213.3,161.4M208.7,166.8L214.4,165.1M210.4,170.6L215.6,168.8M212.1,174.4L217.0,172.4M214.0,178.1L218.6,176.3M215.9,181.8L220.1,179.9M218.0,185.5L222.0,183.7M220.1,189.1L223.7,187.1M222.2,192.7L225.6,190.5M224.3,196.3L227.8,194.1M226.6,199.8L230.0,197.0M229.0,203.2L232.6,200.2M231.7,206.4L235.2,203.2M234.7,209.3L237.8,206.0M237.7,212.2L240.8,208.9M240.9,214.9L243.0,211.0M244.2,217.5L243.0,211.0M247.5,220.0L243.0,211.0M223.0,56.5L219.0,57.7L215.1,59.2L211.4,61.1L208.2,63.7L205.3,66.8L202.8,70.1L200.8,73.8L199.3,77.6L198.1,81.6L197.2,85.7L196.6,89.9L196.1,94.0L195.8,98.2L195.6,102.3L195.5,106.5L195.4,110.7L195.5,114.9L195.5,119.0L195.7,123.2L195.9,127.4L196.3,131.6L196.8,135.7L197.6,139.8L198.7,143.8L200.1,147.8L201.6,151.7L203.3,155.5L205.2,159.2L207.0,163.0L208.7,166.8L210.4,170.6L212.1,174.4L214.0,178.1L215.9,181.8L218.0,185.5L220.1,189.1L222.2,192.7L224.3,196.3L226.6,199.8L229.0,203.2L231.7,206.4L234.7,209.3L237.7,212.2L240.9,214.9L244.2,217.5L247.5,220.0M234.0,66.8L220.2,64.6L217.2,65.6L214.4,66.9L211.9,68.8L209.7,71.0L207.8,73.5L206.1,76.5L204.8,79.7L203.8,83.0L203.0,86.8L202.5,90.5L202.1,94.5L201.9,98.4L201.7,102.4L201.6,106.6L201.6,110.6L201.7,114.6L201.8,118.8L202.0,122.9L202.3,126.9L202.6,130.9L203.1,135.1L203.7,139.0L204.5,143.1L205.4,147.2L206.4,151.1L207.5,154.8L208.8,158.5L210.2,162.2L211.6,165.9L213.0,169.7L214.6,173.4L216.3,177.2L218.0,180.9L220.0,184.6L221.9,188.1L223.9,191.6L226.1,195.2L228.3,198.4L230.8,201.7L233.4,204.8L236.2,207.7L239.3,210.6L242.0,212.9L243.6,214.3L245.2,215.5M245.0,77.0L221.4,71.5L219.3,72.0L217.4,72.8L215.6,73.9L214.0,75.3L212.7,76.9L211.3,79.2L210.3,81.7L209.5,84.3L208.8,87.8L208.4,91.1L208.1,95.0L207.9,98.5L207.8,102.4L207.8,106.6L207.8,110.5L207.9,114.4L208.1,118.6L208.3,122.5L208.6,126.4L209.0,130.3L209.4,134.4L209.8,138.3L210.3,142.5L210.7,146.6L211.2,150.5L211.7,154.0L212.5,157.9L213.3,161.4L214.4,165.1L215.6,168.8L217.0,172.4L218.6,176.3L220.1,179.9L222.0,183.7L223.7,187.1L225.6,190.5L227.8,194.1L230.0,197.0L232.6,200.2L235.2,203.2L237.8,206.0L240.8,208.9L243.0,211.0L243.0,211.0L243.0,211.0" stroke="#03300a" stroke-width="0.85" stroke-opacity="0.72" fill="none"/></g>
<path d="M226.0,59.0 227.1,58.8 228.6,58.4 230.4,58.0 232.3,57.7 234.0,57.5 235.6,57.5 237.3,57.6 239.0,57.8 240.6,58.1 242.0,58.5 243.3,59.0 244.5,59.6 245.7,60.3 246.7,61.1 247.5,62.0 248.2,63.0 248.7,64.2 249.2,65.5 249.4,66.8 249.5,68.0 249.4,69.3 249.0,70.6 248.6,71.9 248.0,73.1 247.5,74.0 247.0,74.7 246.4,75.3 245.8,75.8 245.1,76.0 244.5,76.0 243.9,75.7 243.3,75.2 242.6,74.5 241.9,73.7 241.0,73.0 240.0,72.3 238.8,71.6 237.6,70.9 236.3,70.1 235.0,69.5 233.6,68.9 232.1,68.5 230.6,68.0 229.2,67.5 228.0,67.0 226.9,66.5 225.9,65.9 225.0,65.4 224.4,64.7 224.0,64.0 224.0,63.0 224.5,61.9 225.1,60.7 225.6,59.7 226.0,59.0Z" fill="#a8a8a8" filter="url(#soft2)"/>
<path d="M220.0,65.5L220.9,65.7L222.1,66.0L223.6,66.3L225.1,66.7L226.6,67.1L228.0,67.5L229.2,67.9L230.4,68.3L231.6,68.7L232.8,69.1L233.9,69.5L235.0,70.0L236.1,70.5L237.1,71.1L238.2,71.7L239.2,72.3L240.1,72.9L241.0,73.5L241.8,74.1L242.5,74.8L243.2,75.4L243.8,76.0L244.4,76.4L245.0,76.5L245.6,76.4L246.3,76.1L246.9,75.6L247.5,75.0L248.1,74.3L248.5,73.5L248.8,72.5L249.1,71.4L249.2,70.1L249.3,68.8L249.4,67.7L249.5,67.0" fill="none" stroke="#d83010" stroke-width="1.3" filter="url(#soft2)"/>
<path d="M226.0,59.0L224.0,64.0M230.8,57.9L227.1,66.5M235.6,57.5L230.8,68.0M240.4,58.1L234.6,69.3M244.9,59.8L238.1,71.2M248.2,63.3L241.5,73.4M249.5,68.0L244.5,76.0M226.0,59.0L230.8,57.9L235.6,57.5L240.4,58.1L244.9,59.8L248.2,63.3L249.5,68.0M225.0,61.5L228.9,62.2L233.2,62.8L237.5,63.7L241.5,65.5L244.9,68.3L247.0,72.0M224.0,64.0L227.1,66.5L230.8,68.0L234.6,69.3L238.1,71.2L241.5,73.4L244.5,76.0" stroke="#03300a" stroke-width="0.85" stroke-opacity="0.72" fill="none"/>
<path d="M207.0,83.0L207.5,82.2L208.2,81.1L209.0,79.8L209.9,78.4L210.9,77.1L212.0,76.0L213.1,75.1L214.4,74.1L215.7,73.3L217.1,72.6L218.5,72.0L220.0,71.5L221.6,71.2L223.3,71.1L225.0,71.0L226.7,71.1L228.4,71.3L230.0,71.5L231.5,71.8L232.9,72.2L234.2,72.8L235.5,73.3L236.7,73.9L238.0,74.5L239.3,75.2L240.7,75.9L242.0,76.7L243.2,77.4L244.2,78.1L245.0,78.5" fill="none" stroke="#d8d800" stroke-width="1.6"/>
<path d="M206.0,66.0 206.9,65.2 208.2,64.1 209.8,62.7 211.4,61.5 213.0,60.5 214.7,59.7 216.5,58.9 218.3,58.4 219.9,58.0 221.0,58.0 221.6,58.5 221.9,59.3 221.9,60.4 221.6,61.6 221.0,62.5 220.0,63.2 218.6,63.9 217.0,64.5 215.4,65.2 214.0,66.0 212.8,67.1 211.5,68.4 210.4,69.6 209.4,70.6 208.5,71.0 207.8,70.6 207.2,69.5 206.7,68.1 206.3,66.8 206.0,66.0Z" fill="#a8a8a8"/>
<path d="M221.0,57.5 221.8,57.3 222.9,57.0 224.1,56.8 225.2,56.7 226.0,57.0 226.5,57.9 226.8,59.2 226.9,60.7 226.8,62.0 226.5,63.0 225.8,63.6 224.7,63.9 223.4,64.0 222.3,63.9 221.5,63.5 221.1,62.6 221.0,61.3 220.9,59.8 221.0,58.4 221.0,57.5Z" fill="#18b870"/>
<clipPath id="bbclip"><path d="M242.5,210.2 L380.8,159.2 382,167.5 247.5,220 Z"/></clipPath>
<g clip-path="url(#bbclip)"><g filter="url(#soft2)"><path d="M243,211 L381,160 381.3,162.8 245,214.5 Z" fill="#1e8a1e"/><path d="M244.5,213.8 L381.2,162.4 382,167.5 247.5,220 Z" fill="#3a8a14"/><path d="M285,194 L330,177 332,186 287,204 Z" fill="#7a9008"/><path d="M370,160 L383,155 383,170 370,172 Z" fill="#109a70"/><path d="M240,205 L250,205 250,222 240,222 Z" fill="#a07070"/></g><path d="M242.5,210.2L244.5,213.8M246.0,208.9L247.9,212.5M249.4,207.6L251.3,211.2M252.9,206.4L254.8,209.9M256.3,205.1L258.2,208.7M259.8,203.8L261.6,207.4M263.2,202.5L265.0,206.1M266.7,201.3L268.4,204.8M270.2,200.0L271.8,203.5M273.6,198.7L275.3,202.2M277.1,197.4L278.7,201.0M280.5,196.2L282.1,199.7M284.0,194.9L285.5,198.4M287.4,193.6L288.9,197.1M290.9,192.3L292.3,195.8M294.4,191.1L295.8,194.5M297.8,189.8L299.2,193.2M301.3,188.5L302.6,192.0M304.7,187.2L306.0,190.7M308.2,186.0L309.4,189.4M311.6,184.7L312.9,188.1M315.1,183.4L316.3,186.8M318.6,182.1L319.7,185.5M322.0,180.9L323.1,184.2M325.5,179.6L326.5,183.0M328.9,178.3L329.9,181.7M332.4,177.0L333.4,180.4M335.9,175.8L336.8,179.1M339.3,174.5L340.2,177.8M342.8,173.2L343.6,176.5M346.2,171.9L347.0,175.2M349.7,170.7L350.4,174.0M353.1,169.4L353.9,172.7M356.6,168.1L357.3,171.4M360.1,166.8L360.7,170.1M363.5,165.6L364.1,168.8M367.0,164.3L367.5,167.5M370.4,163.0L370.9,166.3M373.9,161.8L374.4,165.0M377.3,160.5L377.8,163.7M380.8,159.2L381.2,162.4M242.5,210.2L246.0,208.9L249.4,207.6L252.9,206.4L256.3,205.1L259.8,203.8L263.2,202.5L266.7,201.3L270.2,200.0L273.6,198.7L277.1,197.4L280.5,196.2L284.0,194.9L287.4,193.6L290.9,192.3L294.4,191.1L297.8,189.8L301.3,188.5L304.7,187.2L308.2,186.0L311.6,184.7L315.1,183.4L318.6,182.1L322.0,180.9L325.5,179.6L328.9,178.3L332.4,177.0L335.9,175.8L339.3,174.5L342.8,173.2L346.2,171.9L349.7,170.7L353.1,169.4L356.6,168.1L360.1,166.8L363.5,165.6L367.0,164.3L370.4,163.0L373.9,161.8L377.3,160.5L380.8,159.2M244.5,213.8L247.9,212.5L251.3,211.2L254.8,209.9L258.2,208.7L261.6,207.4L265.0,206.1L268.4,204.8L271.8,203.5L275.3,202.2L278.7,201.0L282.1,199.7L285.5,198.4L288.9,197.1L292.3,195.8L295.8,194.5L299.2,193.2L302.6,192.0L306.0,190.7L309.4,189.4L312.9,188.1L316.3,186.8L319.7,185.5L323.1,184.2L326.5,183.0L329.9,181.7L333.4,180.4L336.8,179.1L340.2,177.8L343.6,176.5L347.0,175.2L350.4,174.0L353.9,172.7L357.3,171.4L360.7,170.1L364.1,168.8L367.5,167.5L370.9,166.3L374.4,165.0L377.8,163.7L381.2,162.4M244.5,213.8L247.5,220.0M246.2,213.2L249.2,219.3M247.9,212.5L250.9,218.7M249.6,211.9L252.5,218.0M251.3,211.2L254.2,217.4M253.0,210.6L255.9,216.7M254.8,209.9L257.6,216.1M256.5,209.3L259.3,215.4M258.2,208.7L260.9,214.8M259.9,208.0L262.6,214.1M261.6,207.4L264.3,213.4M263.3,206.7L266.0,212.8M265.0,206.1L267.7,212.1M266.7,205.4L269.4,211.5M268.4,204.8L271.0,210.8M270.1,204.2L272.7,210.2M271.8,203.5L274.4,209.5M273.5,202.9L276.1,208.8M275.3,202.2L277.8,208.2M277.0,201.6L279.4,207.5M278.7,201.0L281.1,206.9M280.4,200.3L282.8,206.2M282.1,199.7L284.5,205.6M283.8,199.0L286.2,204.9M285.5,198.4L287.9,204.2M287.2,197.7L289.5,203.6M288.9,197.1L291.2,202.9M290.6,196.5L292.9,202.3M292.3,195.8L294.6,201.6M294.1,195.2L296.3,201.0M295.8,194.5L297.9,200.3M297.5,193.9L299.6,199.7M299.2,193.2L301.3,199.0M300.9,192.6L303.0,198.3M302.6,192.0L304.7,197.7M304.3,191.3L306.3,197.0M306.0,190.7L308.0,196.4M307.7,190.0L309.7,195.7M309.4,189.4L311.4,195.1M311.1,188.7L313.1,194.4M312.9,188.1L314.8,193.8M314.6,187.5L316.4,193.1M316.3,186.8L318.1,192.4M318.0,186.2L319.8,191.8M319.7,185.5L321.5,191.1M321.4,184.9L323.2,190.5M323.1,184.2L324.8,189.8M324.8,183.6L326.5,189.2M326.5,183.0L328.2,188.5M328.2,182.3L329.9,187.8M329.9,181.7L331.6,187.2M331.6,181.0L333.2,186.5M333.4,180.4L334.9,185.9M335.1,179.7L336.6,185.2M336.8,179.1L338.3,184.6M338.5,178.5L340.0,183.9M340.2,177.8L341.6,183.2M341.9,177.2L343.3,182.6M343.6,176.5L345.0,181.9M345.3,175.9L346.7,181.3M347.0,175.2L348.4,180.6M348.7,174.6L350.1,180.0M350.4,174.0L351.7,179.3M352.2,173.3L353.4,178.7M353.9,172.7L355.1,178.0M355.6,172.0L356.8,177.3M357.3,171.4L358.5,176.7M359.0,170.8L360.1,176.0M360.7,170.1L361.8,175.4M362.4,169.5L363.5,174.7M364.1,168.8L365.2,174.1M365.8,168.2L366.9,173.4M367.5,167.5L368.5,172.8M369.2,166.9L370.2,172.1M370.9,166.3L371.9,171.4M372.7,165.6L373.6,170.8M374.4,165.0L375.3,170.1M376.1,164.3L377.0,169.5M377.8,163.7L378.6,168.8M379.5,163.0L380.3,168.2M381.2,162.4L382.0,167.5M244.5,213.8L246.2,213.2L247.9,212.5L249.6,211.9L251.3,211.2L253.0,210.6L254.8,209.9L256.5,209.3L258.2,208.7L259.9,208.0L261.6,207.4L263.3,206.7L265.0,206.1L266.7,205.4L268.4,204.8L270.1,204.2L271.8,203.5L273.5,202.9L275.3,202.2L277.0,201.6L278.7,201.0L280.4,200.3L282.1,199.7L283.8,199.0L285.5,198.4L287.2,197.7L288.9,197.1L290.6,196.5L292.3,195.8L294.1,195.2L295.8,194.5L297.5,193.9L299.2,193.2L300.9,192.6L302.6,192.0L304.3,191.3L306.0,190.7L307.7,190.0L309.4,189.4L311.1,188.7L312.9,188.1L314.6,187.5L316.3,186.8L318.0,186.2L319.7,185.5L321.4,184.9L323.1,184.2L324.8,183.6L326.5,183.0L328.2,182.3L329.9,181.7L331.6,181.0L333.4,180.4L335.1,179.7L336.8,179.1L338.5,178.5L340.2,177.8L341.9,177.2L343.6,176.5L345.3,175.9L347.0,175.2L348.7,174.6L350.4,174.0L352.2,173.3L353.9,172.7L355.6,172.0L357.3,171.4L359.0,170.8L360.7,170.1L362.4,169.5L364.1,168.8L365.8,168.2L367.5,167.5L369.2,166.9L370.9,166.3L372.7,165.6L374.4,165.0L376.1,164.3L377.8,163.7L379.5,163.0L381.2,162.4M246.0,216.9L247.7,216.3L249.4,215.6L251.1,215.0L252.8,214.3L254.5,213.7L256.2,213.0L257.9,212.4L259.6,211.7L261.3,211.1L262.9,210.4L264.6,209.8L266.3,209.1L268.0,208.5L269.7,207.8L271.4,207.2L273.1,206.5L274.8,205.9L276.5,205.2L278.2,204.6L279.9,203.9L281.6,203.3L283.3,202.6L285.0,202.0L286.7,201.3L288.4,200.7L290.1,200.0L291.8,199.4L293.5,198.7L295.2,198.1L296.9,197.4L298.5,196.8L300.2,196.1L301.9,195.5L303.6,194.8L305.3,194.2L307.0,193.5L308.7,192.9L310.4,192.2L312.1,191.6L313.8,190.9L315.5,190.3L317.2,189.6L318.9,189.0L320.6,188.3L322.3,187.7L324.0,187.0L325.7,186.4L327.4,185.7L329.1,185.1L330.8,184.4L332.4,183.8L334.1,183.1L335.8,182.5L337.5,181.8L339.2,181.2L340.9,180.5L342.6,179.9L344.3,179.2L346.0,178.6L347.7,177.9L349.4,177.3L351.1,176.6L352.8,176.0L354.5,175.3L356.2,174.7L357.9,174.0L359.6,173.4L361.3,172.7L363.0,172.1L364.6,171.4L366.3,170.8L368.0,170.1L369.7,169.5L371.4,168.8L373.1,168.2L374.8,167.5L376.5,166.9L378.2,166.2L379.9,165.6L381.6,164.9M247.5,220.0L249.2,219.3L250.9,218.7L252.5,218.0L254.2,217.4L255.9,216.7L257.6,216.1L259.3,215.4L260.9,214.8L262.6,214.1L264.3,213.4L266.0,212.8L267.7,212.1L269.4,211.5L271.0,210.8L272.7,210.2L274.4,209.5L276.1,208.8L277.8,208.2L279.4,207.5L281.1,206.9L282.8,206.2L284.5,205.6L286.2,204.9L287.9,204.2L289.5,203.6L291.2,202.9L292.9,202.3L294.6,201.6L296.3,201.0L297.9,200.3L299.6,199.7L301.3,199.0L303.0,198.3L304.7,197.7L306.3,197.0L308.0,196.4L309.7,195.7L311.4,195.1L313.1,194.4L314.8,193.8L316.4,193.1L318.1,192.4L319.8,191.8L321.5,191.1L323.2,190.5L324.8,189.8L326.5,189.2L328.2,188.5L329.9,187.8L331.6,187.2L333.2,186.5L334.9,185.9L336.6,185.2L338.3,184.6L340.0,183.9L341.6,183.2L343.3,182.6L345.0,181.9L346.7,181.3L348.4,180.6L350.1,180.0L351.7,179.3L353.4,178.7L355.1,178.0L356.8,177.3L358.5,176.7L360.1,176.0L361.8,175.4L363.5,174.7L365.2,174.1L366.9,173.4L368.5,172.8L370.2,172.1L371.9,171.4L373.6,170.8L375.3,170.1L377.0,169.5L378.6,168.8L380.3,168.2L382.0,167.5" stroke="#03300a" stroke-width="0.85" stroke-opacity="0.72" fill="none"/></g>
<path d="M223.0,56.5L222.2,56.7L221.1,57.0L219.8,57.4L218.5,57.9L217.1,58.3L215.9,58.8L214.8,59.3L213.8,59.7L212.8,60.2L211.7,60.8L210.7,61.5L209.6,62.4L208.4,63.5L207.2,64.7L205.9,66.1L204.6,67.5L203.4,69.1L202.4,70.7L201.5,72.4L200.6,74.1L199.9,75.9L199.2,77.8L198.6,79.8L198.0,82.0L197.5,84.4L197.0,86.9L196.6,89.5L196.3,92.2L196.0,95.1L195.8,98.0L195.6,101.1L195.5,104.3L195.4,107.7L195.4,111.0L195.4,114.3L195.5,117.5L195.6,120.6L195.7,123.6L195.8,126.6L196.1,129.5L196.3,132.3L196.7,135.0L197.1,137.5L197.7,139.9L198.2,142.2L198.9,144.4L199.7,146.6L200.5,149.0L201.5,151.5L202.6,154.0L203.9,156.6L205.1,159.1L206.4,161.6L207.5,164.0L208.5,166.3L209.5,168.5L210.4,170.6L211.4,172.8L212.4,174.9L213.4,177.0L214.5,179.1L215.6,181.2L216.8,183.4L217.9,185.5L219.2,187.6L220.4,189.7L221.7,191.9L223.0,194.2L224.4,196.4L225.8,198.6L227.2,200.7L228.5,202.6L229.8,204.2L231.0,205.7L232.3,207.0L233.5,208.3L234.8,209.5L236.1,210.7L237.5,212.0L239.0,213.3L240.5,214.6L242.0,215.8L243.3,216.8L244.4,217.7L245.3,218.4L245.9,218.9L246.5,219.3L246.9,219.6L247.2,219.8L247.5,220.0" stroke="#0a2a10" stroke-width="0.9" fill="none" stroke-opacity="0.8"/>
<path d="M223.0,56.5L223.6,56.4L224.3,56.3L225.2,56.2L226.4,56.0L228.0,55.7L230.0,55.3L232.6,54.8L235.7,54.2L239.1,53.4L242.8,52.7L246.5,51.9L250.0,51.2L253.5,50.5L257.0,49.8L260.5,49.1L264.0,48.4L267.5,47.7L271.0,47.0L274.5,46.3L278.1,45.5L281.8,44.8L285.2,44.1L288.3,43.4L291.0,42.9L293.0,42.5L294.4,42.2L295.5,42.0L296.6,41.8L298.0,41.5L300.0,41.1L302.7,40.5L305.7,39.8L309.1,39.1L312.7,38.3L316.4,37.5L320.0,36.8L323.7,36.1L327.6,35.4L331.6,34.6L335.6,33.9L339.4,33.3L343.0,32.6L346.4,32.0L349.8,31.3L353.1,30.7L356.1,30.1L358.8,29.6L361.0,29.2L362.6,28.9L363.7,28.6L364.4,28.4L365.0,28.3L365.8,28.2L367.0,28.0L368.6,27.8L370.6,27.6L372.6,27.4L374.7,27.2L376.7,27.1L378.4,27.1L379.8,27.2L381.1,27.3L382.3,27.6L383.4,27.8L384.4,28.2L385.4,28.5L386.4,28.9L387.3,29.4L388.1,29.9L388.8,30.4L389.5,30.9L390.0,31.4L390.4,31.9L390.5,32.3L390.6,32.8L390.7,33.2L390.7,33.5L390.7,33.8" stroke="#0a2a10" stroke-width="0.8" fill="none" stroke-opacity="0.7"/>
<path d="M341.0,53.6L340.5,54.4L339.9,55.5L339.1,56.9L338.3,58.4L337.5,60.0L336.9,61.8L336.4,63.7L336.1,65.8L335.7,68.0L335.4,70.3L335.2,72.6L335.0,75.0L334.8,77.4L334.7,80.0L334.6,82.6L334.5,85.2L334.5,87.7L334.5,90.0L334.5,92.1L334.6,94.1L334.7,96.1L334.8,97.9L335.0,99.8L335.2,101.7L335.5,103.7L335.8,105.6L336.1,107.6L336.5,109.6L337.0,111.5L337.5,113.4L338.1,115.2L338.6,117.0L339.3,118.8L340.0,120.5L340.8,122.2L341.6,123.9L342.5,125.5L343.4,127.0L344.4,128.5L345.5,130.0L346.7,131.5L348.0,133.2L349.5,135.0L351.1,137.0L352.9,139.1L354.7,141.1L356.6,143.1L358.5,144.9L360.5,146.6L362.7,148.2L365.0,149.7L367.2,151.1L369.3,152.5L371.3,153.8L373.2,155.1L375.1,156.3L377.0,157.5L378.6,158.5L380.0,159.4L381.0,160.0" stroke="#0a3a10" stroke-width="0.7" fill="none" stroke-opacity="0.6"/>
<path d="M247.5,220 L382,167.5 381,160" stroke="#0a2a10" stroke-width="0.8" fill="none" stroke-opacity="0.7"/></g>
<g font-family="Liberation Serif" fill="#222">
<text x="381.5" y="23.2" font-size="19.5">0°</text>
<text x="352.6" y="211.5" font-size="19.5">180°</text>
</g>
<text x="275" y="114.2" font-family="Liberation Serif" font-size="19.5" fill="#eef4ee" fill-opacity="0.92">270°</text>
<g stroke-width="2.2" fill="none">
<path d="M393.4,179.6 V166" stroke="#10b010"/>
<path d="M389.8,168 L393.4,160.5 L397,168 Z" fill="#10b010" stroke="none"/>
<path d="M393.4,179.6 L382,182.6" stroke="#1020d0"/>
<path d="M383.5,179 L376.8,184.2 L384.8,185.6 Z" fill="#1020d0" stroke="none"/>
<path d="M393.4,179.6 L401,183" stroke="#d01818"/>
<circle cx="402" cy="183.8" r="2.4" fill="#b01010" stroke="none"/>
</g>
<g font-family="Liberation Sans" font-weight="bold" font-size="10" fill="#1a1a1a" stroke="#1a1a1a" stroke-width="0.3">
<text x="389.8" y="155.2">Y</text>
<text x="365.8" y="189.3">Z</text>
<text x="407" y="191.8">X</text>
</g>

<!-- axes -->
<g stroke="#111" stroke-width="2.2" fill="none">
<path d="M82.7,16.7 H93.8 V450.2 H662.6 V442"/>
<path d="M82.7,161.3 H93.8"/>
<path d="M82.7,305.8 H93.8"/>
<path d="M82.7,450.2 H93.8"/>
<path d="M236.2,450.2 V442"/>
<path d="M378.3,450.2 V442"/>
<path d="M520.5,450.2 V442"/>
</g>
<g class="serif" font-size="24">
<text x="75" y="24.7" text-anchor="end" font-size="24.4">600</text>
<text x="75" y="169.1" text-anchor="end" font-size="24.4">400</text>
<text x="75" y="313.6" text-anchor="end" font-size="24.4">200</text>
<text x="75" y="457.9" text-anchor="end" font-size="24.4">0</text>
<text x="83.5" y="477.5">0°</text>
<text x="236.2" y="477.5" text-anchor="middle">90°</text>
<text x="378.3" y="477.5" text-anchor="middle">180°</text>
<text x="520.5" y="477.5" text-anchor="middle">270°</text>
<text x="641" y="477.5">360°</text>
</g>
<g class="serif" font-size="26.4">
<text x="135.7" y="348.6">Critical value of microcrack</text>
</g>
<g class="serif" font-size="27">
<text transform="translate(25.2,303.6) rotate(-90)">Strain</text>
</g>
<g class="serif" font-size="27.5">
<text transform="translate(25.6,214.2) rotate(-90)" letter-spacing="-1.0">με</text>
</g>
<path d="M6,185.2 Q16.5,169 27,185.2 Q16.5,172.4 6,185.2 Z" fill="#111"/>
<path d="M5.6,217.4 Q16.2,234.6 26.8,217.4 Q16.2,231.2 5.6,217.4 Z" fill="#111"/>
<!-- red critical line -->
<line x1="94" y1="366.5" x2="662.5" y2="366.5" stroke="#ff0000" stroke-width="3.5" stroke-dasharray="19.5 7.7 5.4 7.8"/>
<!-- curves -->
<path d="M108.0,423.5 C109.8,423.4 113.4,423.5 118.5,423.0 C123.6,422.5 131.6,421.5 138.4,420.4 C145.2,419.3 154.1,417.3 159.4,416.3 C164.8,415.3 165.6,414.5 170.5,414.2 C175.4,413.9 182.9,415.1 188.7,414.5 C194.4,413.9 200.4,411.6 205.0,410.5 C209.6,409.4 212.2,407.9 216.0,407.6 C219.8,407.3 223.2,408.1 228.0,408.6 C232.8,409.1 238.7,410.2 244.7,410.6 C250.7,411.1 256.7,410.5 264.1,411.3 C271.5,412.1 280.8,414.0 289.2,415.3 C297.6,416.6 305.9,418.1 314.3,418.9 C322.7,419.7 332.1,420.1 339.5,420.2 C346.9,420.3 353.6,418.5 358.7,419.5 C363.8,420.5 367.2,424.8 370.4,426.3 C373.6,427.8 375.9,428.4 378.0,428.3 C380.1,428.2 380.8,427.4 383.0,425.5 C385.2,423.6 388.4,419.2 391.4,417.2 C394.4,415.2 397.6,414.2 401.2,413.6 C404.8,413.0 408.7,414.1 412.8,413.6 C416.9,413.1 421.5,411.2 425.7,410.5 C429.9,409.8 433.7,409.8 438.0,409.3 C442.3,408.9 447.2,408.8 451.4,407.8 C455.6,406.8 459.2,404.8 463.1,403.1 C467.0,401.4 471.5,398.8 474.8,397.8 C478.1,396.8 478.8,397.0 482.9,397.3 C487.0,397.6 494.5,398.9 499.3,399.4 C504.1,399.9 507.2,399.9 511.5,400.3 C515.8,400.7 520.7,401.5 525.0,402.0 C529.3,402.5 533.0,402.8 537.2,403.2 C541.4,403.6 545.9,404.0 550.1,404.2 C554.3,404.4 558.0,403.6 562.2,404.3 C566.5,405.0 571.7,407.1 575.6,408.5 C579.5,409.9 581.5,411.7 585.5,412.6 C589.5,413.5 595.4,413.4 599.6,413.8 C603.8,414.2 605.8,414.1 610.7,415.2 C615.7,416.3 621.9,418.8 629.3,420.2 C636.7,421.6 649.4,422.9 654.9,423.5 C660.4,424.1 661.2,423.6 662.5,423.6" stroke="#2f7d32" stroke-width="3" fill="none" stroke-linecap="round" stroke-dasharray="9.5 15.7" stroke-dashoffset="22.8"/>
<path d="M101.2,419.8 C102.7,420.1 106.9,421.1 110.4,421.4 C113.9,421.7 118.1,422.0 122.0,421.8 C125.9,421.6 130.0,420.6 134.0,420.0 C138.0,419.4 142.2,418.7 146.0,418.0 C149.8,417.3 153.2,416.7 157.0,415.6 C160.8,414.5 165.2,412.1 168.8,411.3 C172.4,410.5 175.4,411.0 178.8,411.0 C182.2,411.0 185.6,411.9 189.3,411.3 C193.0,410.7 197.3,408.6 201.0,407.4 C204.7,406.2 208.1,404.5 211.5,404.0 C214.9,403.5 217.5,404.2 221.4,404.5 C225.3,404.8 230.2,405.5 235.0,405.5 C239.8,405.5 245.0,404.8 250.0,404.5 C255.0,404.2 260.0,403.8 265.0,403.5 C270.0,403.2 275.8,402.6 280.0,402.6 C284.2,402.6 286.7,403.3 290.4,403.6 C294.1,403.9 297.9,404.1 302.0,404.5 C306.1,404.9 311.0,405.5 315.0,406.0 C319.0,406.5 322.4,407.0 326.0,407.3 C329.6,407.6 332.9,407.9 336.6,408.0 C340.3,408.1 344.4,407.5 348.3,407.6 C352.2,407.7 356.4,407.6 360.0,408.5 C363.6,409.4 366.4,412.5 369.9,413.0 C373.4,413.5 377.6,412.9 380.9,411.4 C384.2,409.9 386.5,406.1 389.6,403.8 C392.7,401.6 396.1,399.3 399.6,397.9 C403.1,396.5 407.0,396.6 410.7,395.6 C414.4,394.7 417.9,393.4 421.6,392.2 C425.3,391.0 429.0,389.5 432.7,388.5 C436.4,387.5 440.3,387.6 443.8,386.2 C447.3,384.8 450.5,382.7 453.7,380.4 C456.9,378.1 460.4,374.8 463.1,372.2 C465.8,369.6 467.2,367.2 469.8,364.6 C472.4,362.0 475.5,359.1 478.5,356.7 C481.5,354.3 484.8,352.4 487.9,350.3 C491.0,348.2 494.1,346.2 497.2,343.9 C500.3,341.6 503.4,338.6 506.6,336.6 C509.9,334.6 513.3,332.1 516.7,332.0 C520.1,331.9 524.1,334.2 527.2,336.2 C530.3,338.2 532.9,341.5 535.4,344.2 C537.9,346.9 539.9,349.5 542.4,352.4 C544.9,355.3 547.8,358.5 550.5,361.5 C553.2,364.5 556.0,367.5 558.7,370.2 C561.4,372.9 564.3,375.2 566.9,377.8 C569.5,380.4 572.0,383.2 574.5,385.8 C577.0,388.4 579.2,391.1 582.0,393.4 C584.8,395.7 587.9,398.1 591.4,399.8 C594.9,401.5 599.6,402.3 603.1,403.3 C606.6,404.3 609.2,404.7 612.4,406.0 C615.5,407.3 618.0,409.7 622.0,411.1 C626.0,412.6 632.6,413.8 636.6,414.7 C640.6,415.6 642.1,415.9 645.8,416.6 C649.4,417.3 655.7,418.4 658.5,418.8 C661.3,419.2 661.8,419.2 662.5,419.3" stroke="#3f72bd" stroke-width="3" fill="none" stroke-linecap="round" stroke-dasharray="3.8 7.6" stroke-dashoffset="1.8"/>
<path d="M100.4,400.8 C107.9,404.2 136.4,418.2 145.4,421.2 C154.4,424.2 151.3,420.3 154.7,418.9 C158.1,417.4 162.4,414.2 166.0,412.5 C169.6,410.8 172.8,409.6 176.4,408.6 C180.0,407.6 183.9,407.5 187.5,406.3 C191.1,405.1 194.5,403.0 198.0,401.6 C201.5,400.2 204.8,398.1 208.5,398.1 C212.2,398.1 216.5,400.3 220.2,401.6 C223.9,402.9 227.0,405.0 230.7,405.7 C234.4,406.4 238.6,406.2 242.4,405.7 C246.2,405.2 249.9,403.6 253.6,402.8 C257.3,402.0 260.9,401.7 264.7,401.0 C268.4,400.3 272.3,399.2 276.1,398.7 C279.9,398.2 283.7,398.0 287.5,398.1 C291.3,398.2 295.3,398.9 299.1,399.3 C302.9,399.8 306.5,400.3 310.2,400.8 C313.9,401.3 317.5,401.8 321.3,402.5 C325.1,403.2 329.3,404.3 333.1,404.8 C336.9,405.3 340.5,405.2 344.2,405.3 C347.9,405.4 351.6,405.2 355.3,405.6 C359.0,406.0 362.6,407.9 366.4,407.6 C370.2,407.3 374.5,405.6 378.0,403.9 C381.5,402.2 384.3,399.6 387.4,397.4 C390.5,395.2 393.5,392.8 396.8,390.8 C400.1,388.8 403.6,387.2 407.0,385.6 C410.4,384.0 414.0,382.8 417.5,381.0 C421.0,379.2 424.7,376.9 428.0,375.1 C431.3,373.3 434.4,372.7 437.4,370.4 C440.4,368.1 443.8,364.2 446.1,361.1 C448.4,358.0 449.8,355.2 451.4,351.8 C453.0,348.4 454.4,344.6 455.8,341.0 C457.2,337.4 458.6,333.9 459.9,330.4 C461.2,326.9 462.1,323.2 463.4,319.9 C464.6,316.6 466.1,314.2 467.4,310.6 C468.7,307.0 470.1,302.1 471.4,298.3 C472.6,294.5 473.9,291.3 474.9,287.8 C475.9,284.3 476.5,281.0 477.5,277.3 C478.5,273.6 479.8,269.7 481.0,265.9 C482.2,262.1 483.3,258.4 484.5,254.5 C485.7,250.6 486.9,247.2 488.0,242.3 C489.1,237.4 490.1,230.6 491.2,225.0 C492.3,219.4 493.6,213.4 494.6,209.0 C495.7,204.6 496.5,202.0 497.5,198.5 C498.5,195.0 499.5,191.7 500.4,188.0 C501.2,184.3 501.8,180.4 502.6,176.4 C503.4,172.4 504.2,167.8 505.1,164.1 C506.0,160.4 506.8,157.3 507.8,154.0 C508.8,150.7 510.0,147.0 511.0,144.3 C512.0,141.6 512.8,139.8 514.0,138.0 C515.2,136.2 516.9,133.7 518.0,133.8 C519.1,133.9 519.9,136.4 520.8,138.4 C521.7,140.4 522.6,143.1 523.6,146.0 C524.6,148.9 525.5,152.6 526.5,156.0 C527.5,159.4 528.6,162.7 529.6,166.5 C530.6,170.3 531.8,174.6 532.6,178.7 C533.4,182.8 533.8,186.9 534.6,190.9 C535.4,194.9 536.4,198.8 537.2,202.6 C538.0,206.4 538.8,210.0 539.6,213.7 C540.4,217.4 541.2,221.3 541.9,224.8 C542.6,228.3 543.2,230.8 544.0,234.7 C544.8,238.6 545.8,244.4 546.7,248.4 C547.6,252.4 548.5,255.2 549.3,258.9 C550.0,262.5 550.5,266.5 551.2,270.3 C551.9,274.1 552.9,278.1 553.7,281.7 C554.6,285.3 555.4,288.6 556.3,292.2 C557.2,295.8 558.1,299.9 559.3,303.5 C560.5,307.1 562.0,310.6 563.3,314.1 C564.6,317.6 565.6,321.0 566.9,324.7 C568.2,328.4 569.7,332.7 571.0,336.4 C572.3,340.1 573.3,343.3 574.5,346.9 C575.7,350.5 576.8,354.3 578.0,358.0 C579.2,361.7 580.1,365.6 581.5,369.1 C582.9,372.7 584.2,376.0 586.1,379.3 C588.0,382.6 590.5,386.1 593.1,388.7 C595.7,391.3 598.6,393.2 601.9,395.1 C605.2,397.0 609.2,399.4 612.9,400.1 C616.6,400.8 620.2,399.8 623.9,399.2 C627.5,398.6 631.1,397.2 634.8,396.5 C638.4,395.8 641.8,394.9 645.8,395.2 C649.8,395.4 655.7,397.4 658.5,398.0 C661.3,398.6 661.8,398.7 662.5,398.8" stroke="#c4661e" stroke-width="3" fill="none" stroke-linecap="round" stroke-dasharray="4 7.4" stroke-dashoffset="8.2"/>
<path d="M103.30,413.00L103.42,413.03L103.55,413.06L103.69,413.10L103.83,413.13L103.97,413.17L104.12,413.21L104.28,413.25L104.44,413.29M104.44,413.29L104.60,413.33L104.77,413.37L104.95,413.41L105.12,413.46L105.30,413.50L105.49,413.55L105.68,413.60L105.88,413.65L106.07,413.70L106.28,413.75L106.48,413.80L106.69,413.85L106.90,413.90L107.12,413.96L107.34,414.01L107.56,414.07L107.79,414.13L108.02,414.18L108.25,414.24L108.49,414.30L108.73,414.36L108.97,414.42L109.21,414.48L109.46,414.54L109.71,414.61L109.96,414.67L110.22,414.73L110.47,414.80L110.73,414.86L110.99,414.93L111.25,414.99L111.52,415.06M111.52,415.06L111.79,415.13L112.05,415.19L112.32,415.26L112.59,415.33L112.87,415.40L113.14,415.47L113.42,415.54L113.69,415.60L113.97,415.67L114.25,415.74L114.53,415.82L114.81,415.89L115.09,415.96L115.38,416.03L115.66,416.10L115.94,416.17L116.23,416.24L116.51,416.32L116.79,416.39L117.08,416.46L117.36,416.53L117.65,416.60L117.93,416.68L118.22,416.75L118.50,416.82M118.50,416.82L118.78,416.89L119.07,416.96L119.35,417.04L119.63,417.11L119.91,417.18L120.19,417.25L120.47,417.32L120.75,417.40L121.03,417.47L121.30,417.54L121.58,417.61L121.85,417.68L122.13,417.75L122.40,417.82L122.67,417.89L122.93,417.96L123.20,418.03L123.46,418.10L123.72,418.17L123.98,418.23L124.24,418.30L124.50,418.37L124.75,418.43L125.00,418.50L125.24,418.56L125.48,418.63L125.71,418.69M125.71,418.69L125.96,418.76L126.20,418.82L126.44,418.89L126.69,418.96L126.93,419.03L127.18,419.10L127.43,419.17L127.68,419.24L127.93,419.31L128.18,419.38L128.43,419.46L128.68,419.53L128.94,419.60L129.19,419.68L129.45,419.75L129.70,419.83L129.96,419.90L130.22,419.98L130.47,420.06L130.73,420.14L130.99,420.21L131.25,420.29L131.51,420.37L131.77,420.45L132.03,420.53L132.29,420.60L132.55,420.68L132.81,420.76M132.81,420.76L133.07,420.84L133.34,420.92L133.60,421.00L133.86,421.08L134.12,421.16L134.38,421.24L134.64,421.32L134.90,421.40L135.16,421.47L135.42,421.55L135.68,421.63L135.94,421.71L136.20,421.79L136.46,421.86L136.72,421.94L136.97,422.02L137.23,422.10L137.49,422.17L137.74,422.25L138.00,422.32L138.25,422.40L138.51,422.47L138.76,422.54L139.01,422.62L139.26,422.69L139.51,422.76L139.76,422.83M139.76,422.83L140.01,422.90L140.26,422.97L140.50,423.04L140.75,423.11L140.99,423.18L141.23,423.24L141.48,423.31L141.71,423.37L141.95,423.44L142.19,423.50L142.42,423.56L142.66,423.62L142.89,423.68L143.12,423.74L143.35,423.80L143.58,423.86L143.80,423.91L144.03,423.97L144.25,424.02L144.47,424.07L144.69,424.12L144.90,424.17L145.12,424.22L145.33,424.26L145.54,424.31L145.75,424.35L145.95,424.39L146.16,424.43L146.36,424.47L146.56,424.51L146.75,424.55M146.75,424.55L146.95,424.58L147.14,424.61L147.33,424.64L147.52,424.67L147.70,424.70L148.06,424.75L148.41,424.79L148.76,424.83L149.09,424.87L149.42,424.89L149.74,424.92L150.05,424.93L150.35,424.95L150.65,424.95L150.93,424.96L151.22,424.96L151.49,424.95L151.76,424.94L152.03,424.93L152.29,424.91L152.54,424.89L152.79,424.87L153.03,424.84L153.27,424.81L153.51,424.78L153.74,424.75L153.97,424.71M153.97,424.71L154.19,424.67L154.42,424.63L154.64,424.59L154.85,424.54L155.07,424.49L155.28,424.45L155.50,424.40L155.71,424.35L155.92,424.29L156.13,424.24L156.34,424.19L156.55,424.14L156.76,424.09L156.97,424.03L157.18,423.98L157.39,423.93L157.61,423.88L157.82,423.82L158.04,423.77L158.26,423.72L158.48,423.68L158.70,423.63L158.93,423.58L159.16,423.54L159.40,423.50L159.66,423.46L159.92,423.41L160.17,423.36L160.42,423.31L160.68,423.26L160.93,423.21M160.93,423.21L161.18,423.15L161.42,423.10L161.67,423.04L161.92,422.99L162.16,422.93L162.41,422.87L162.65,422.81L162.89,422.75L163.14,422.69L163.38,422.63L163.62,422.56L163.86,422.50L164.10,422.44L164.34,422.37L164.58,422.31L164.82,422.24L165.06,422.18L165.30,422.11L165.54,422.05L165.78,421.98L166.02,421.91L166.26,421.85L166.51,421.78L166.75,421.72L166.99,421.65L167.24,421.59L167.48,421.52L167.73,421.46L167.98,421.39M167.98,421.39L168.22,421.33L168.47,421.26L168.72,421.20L168.98,421.14L169.23,421.08L169.48,421.02L169.74,420.96L170.00,420.90L170.24,420.85L170.48,420.79L170.72,420.74L170.96,420.69L171.21,420.63L171.46,420.58L171.71,420.52L171.96,420.47L172.21,420.41L172.46,420.36L172.71,420.30L172.97,420.25L173.22,420.19L173.48,420.14L173.74,420.08L173.99,420.03L174.25,419.98L174.51,419.92L174.77,419.87L175.03,419.81M175.03,419.81L175.28,419.76L175.54,419.71L175.80,419.65L176.06,419.60L176.32,419.55L176.58,419.49L176.83,419.44L177.09,419.39L177.34,419.34L177.60,419.29L177.85,419.24L178.11,419.19L178.36,419.14L178.61,419.09L178.86,419.04L179.10,418.99L179.35,418.94L179.59,418.89L179.84,418.85L180.08,418.80L180.32,418.76L180.55,418.71L180.79,418.67L181.02,418.62L181.25,418.58L181.48,418.54L181.70,418.50L181.98,418.45M181.98,418.45L182.26,418.40L182.54,418.36L182.81,418.31L183.09,418.27L183.36,418.23L183.62,418.19L183.89,418.15L184.15,418.12L184.42,418.08L184.68,418.05L184.93,418.01L185.19,417.98L185.44,417.95L185.70,417.92L185.95,417.89L186.20,417.86L186.45,417.83L186.69,417.80L186.94,417.77L187.18,417.74L187.43,417.70L187.67,417.67L187.91,417.64L188.15,417.61L188.39,417.57L188.63,417.54L188.87,417.50L189.11,417.46M189.11,417.46L189.34,417.42L189.58,417.38L189.82,417.34L190.05,417.30L190.29,417.25L190.53,417.20L190.76,417.15L191.00,417.10L191.26,417.04L191.51,416.98L191.77,416.92L192.03,416.86L192.29,416.80L192.54,416.73L192.80,416.67L193.06,416.60L193.31,416.54L193.57,416.47L193.82,416.40L194.07,416.33L194.32,416.26L194.57,416.19L194.82,416.12L195.07,416.04L195.32,415.97L195.56,415.89L195.81,415.82L196.05,415.74L196.29,415.66M196.29,415.66L196.53,415.58L196.76,415.49L197.00,415.41L197.23,415.33L197.46,415.24L197.69,415.15L197.91,415.06L198.13,414.97L198.35,414.88L198.57,414.79L198.78,414.69L198.99,414.60L199.20,414.50L199.45,414.38L199.69,414.25L199.92,414.12L200.14,413.99L200.36,413.86L200.58,413.72L200.79,413.58L201.00,413.44L201.20,413.29L201.40,413.15L201.60,413.00L201.79,412.85L201.98,412.70L202.17,412.54L202.37,412.39L202.56,412.24L202.75,412.08L202.94,411.93L203.13,411.77M203.13,411.77L203.33,411.62L203.52,411.46L203.72,411.31L203.92,411.15L204.13,411.00L204.34,410.85L204.55,410.70L204.77,410.55L205.00,410.40L205.20,410.27L205.40,410.14L205.61,410.01L205.81,409.87L206.01,409.74L206.22,409.60L206.43,409.46L206.64,409.32L206.85,409.18L207.06,409.04L207.27,408.90L207.48,408.76L207.70,408.62L207.91,408.48L208.13,408.34L208.35,408.21L208.57,408.07L208.79,407.93L209.01,407.80L209.23,407.67L209.46,407.54L209.68,407.41L209.91,407.29L210.14,407.16L210.37,407.04M210.37,407.04L210.60,406.93L210.83,406.81L211.06,406.70L211.29,406.60L211.53,406.49L211.76,406.39L212.00,406.30L212.23,406.21L212.47,406.12L212.70,406.04L212.95,405.95L213.19,405.87L213.43,405.78L213.68,405.70L213.93,405.62L214.18,405.55L214.43,405.47L214.69,405.40L214.94,405.32L215.20,405.26L215.46,405.19L215.71,405.12L215.97,405.06L216.23,405.00L216.49,404.95L216.74,404.89L217.00,404.84L217.26,404.79M217.26,404.79L217.51,404.75L217.77,404.71L218.02,404.67L218.27,404.63L218.52,404.60L218.77,404.58L219.01,404.55L219.25,404.53L219.50,404.52L219.73,404.51L219.97,404.50L220.20,404.50L220.47,404.51L220.73,404.52L221.00,404.55L221.25,404.58L221.51,404.62L221.76,404.67L222.01,404.72L222.25,404.79L222.50,404.85L222.74,404.93L222.98,405.00L223.22,405.08L223.46,405.17L223.70,405.25L223.94,405.34L224.18,405.42L224.42,405.51M224.42,405.51L224.66,405.60L224.90,405.68L225.15,405.77L225.39,405.85L225.64,405.93L225.89,406.00L226.15,406.07L226.40,406.14L226.67,406.20L226.93,406.25L227.20,406.30L227.44,406.34L227.68,406.37L227.92,406.41L228.16,406.45L228.40,406.49L228.65,406.52L228.89,406.56L229.14,406.59L229.39,406.62L229.64,406.66L229.89,406.69L230.14,406.72L230.39,406.75L230.65,406.77L230.90,406.80L231.16,406.82L231.41,406.85M231.41,406.85L231.67,406.87L231.93,406.89L232.19,406.90L232.45,406.92L232.72,406.93L232.98,406.94L233.24,406.95L233.51,406.95L233.78,406.95L234.05,406.95L234.31,406.95L234.58,406.94L234.86,406.93L235.13,406.92L235.40,406.90L235.63,406.88L235.87,406.86L236.09,406.83L236.32,406.80L236.54,406.77L236.76,406.74L236.97,406.70L237.19,406.66L237.41,406.61L237.62,406.57L237.84,406.52L238.05,406.47L238.27,406.42L238.48,406.36M238.48,406.36L238.70,406.31L238.92,406.25L239.14,406.19L239.37,406.14L239.60,406.08L239.83,406.02L240.06,405.96L240.30,405.90L240.55,405.84L240.80,405.78L241.05,405.72L241.31,405.66L241.58,405.60L241.86,405.54L242.14,405.49L242.43,405.43L242.72,405.38L243.03,405.33L243.34,405.28L243.67,405.23L244.00,405.18L244.35,405.14L244.70,405.10L244.89,405.08L245.09,405.06L245.29,405.04L245.49,405.02M245.49,405.02L245.70,405.00L245.91,404.98L246.12,404.96L246.33,404.94L246.55,404.92L246.77,404.90L246.99,404.88L247.21,404.86L247.44,404.84L247.67,404.82L247.90,404.81L248.13,404.79L248.36,404.77L248.60,404.75L248.84,404.73L249.08,404.72L249.32,404.70L249.57,404.68L249.81,404.66L250.06,404.65L250.31,404.63L250.56,404.61L250.81,404.60L251.06,404.58L251.32,404.56L251.58,404.55L251.83,404.53L252.09,404.51L252.35,404.50L252.61,404.48M252.61,404.48L252.87,404.47L253.14,404.45L253.40,404.44L253.67,404.42L253.93,404.41L254.20,404.39L254.47,404.38L254.73,404.36L255.00,404.35L255.27,404.33L255.54,404.32L255.81,404.30L256.08,404.29L256.35,404.28L256.62,404.26L256.89,404.25L257.16,404.23L257.44,404.22L257.71,404.21L257.98,404.19L258.25,404.18L258.52,404.17L258.79,404.15L259.06,404.14L259.33,404.13L259.60,404.11M259.60,404.11L259.87,404.10L260.14,404.09L260.41,404.08L260.67,404.06L260.94,404.05L261.21,404.04L261.47,404.02L261.74,404.01L262.00,404.00L262.24,403.99L262.48,403.98L262.72,403.97L262.97,403.95L263.21,403.94L263.45,403.93L263.70,403.92L263.95,403.91L264.20,403.90L264.45,403.89L264.70,403.87L264.95,403.86L265.20,403.85L265.45,403.84L265.70,403.83L265.96,403.82L266.21,403.80L266.47,403.79L266.72,403.78M266.72,403.78L266.98,403.77L267.24,403.76L267.49,403.75L267.75,403.74L268.01,403.73L268.27,403.71L268.53,403.70L268.79,403.69L269.05,403.68L269.31,403.67L269.57,403.66L269.83,403.65L270.09,403.64L270.35,403.63L270.61,403.62L270.86,403.61L271.12,403.60L271.38,403.59L271.64,403.58L271.90,403.57L272.16,403.56L272.42,403.55L272.68,403.55L272.94,403.54L273.20,403.53L273.45,403.52L273.71,403.51M273.71,403.51L273.97,403.50L274.22,403.50L274.48,403.49L274.73,403.48L274.98,403.48L275.24,403.47L275.49,403.46L275.74,403.46L275.99,403.45L276.24,403.45L276.49,403.44L276.74,403.43L276.99,403.43L277.23,403.43L277.48,403.42L277.72,403.42L277.96,403.41L278.21,403.41L278.45,403.41L278.69,403.41L278.92,403.40L279.16,403.40L279.40,403.40L279.63,403.40L279.86,403.40L280.09,403.40L280.32,403.40L280.55,403.40L280.78,403.40M280.78,403.40L281.00,403.40L281.28,403.40L281.56,403.40L281.84,403.41L282.12,403.41L282.39,403.42L282.67,403.42L282.94,403.43L283.21,403.44L283.48,403.44L283.74,403.45L284.01,403.46L284.27,403.47L284.53,403.48L284.80,403.49L285.05,403.50L285.31,403.51L285.57,403.52L285.83,403.53L286.08,403.55L286.33,403.56L286.59,403.57L286.84,403.59L287.09,403.60L287.34,403.61L287.58,403.63L287.83,403.64M287.83,403.64L288.08,403.66L288.32,403.67L288.57,403.69L288.81,403.71L289.06,403.72L289.30,403.74L289.54,403.76L289.78,403.77L290.02,403.79L290.26,403.81L290.50,403.82L290.74,403.84L290.98,403.86L291.22,403.87L291.46,403.89L291.70,403.91L291.94,403.93L292.18,403.94L292.41,403.96L292.65,403.98L292.89,403.99L293.13,404.01L293.37,404.03L293.60,404.04L293.84,404.06L294.08,404.08L294.32,404.09L294.56,404.11L294.80,404.13M294.80,404.13L295.04,404.14L295.28,404.16L295.52,404.17L295.76,404.19L296.00,404.20L296.26,404.22L296.52,404.23L296.77,404.25L297.03,404.26L297.28,404.28L297.53,404.29L297.78,404.31L298.03,404.32L298.28,404.34L298.53,404.35L298.78,404.37L299.03,404.38L299.28,404.40L299.52,404.41L299.77,404.43L300.01,404.44L300.26,404.46L300.50,404.47L300.75,404.49L300.99,404.50L301.24,404.52L301.48,404.53L301.72,404.55L301.97,404.56M301.97,404.56L302.21,404.58L302.45,404.59L302.69,404.61L302.94,404.62L303.18,404.64L303.42,404.66L303.67,404.67L303.91,404.69L304.16,404.70L304.40,404.72L304.65,404.74L304.89,404.75L305.14,404.77L305.39,404.79L305.63,404.80L305.88,404.82L306.13,404.83L306.38,404.85L306.63,404.87L306.89,404.89L307.14,404.90L307.39,404.92L307.65,404.94L307.90,404.95L308.16,404.97L308.42,404.99L308.68,405.01L308.94,405.03M308.94,405.03L309.20,405.04L309.47,405.06L309.73,405.08L310.00,405.10L310.24,405.12L310.47,405.13L310.71,405.15L310.95,405.17L311.19,405.19L311.44,405.21L311.68,405.22L311.93,405.24L312.18,405.26L312.43,405.28L312.68,405.30L312.93,405.32L313.18,405.34L313.43,405.36L313.69,405.38L313.94,405.40L314.20,405.43L314.46,405.45L314.71,405.47L314.97,405.49L315.23,405.51L315.49,405.53L315.75,405.55L316.01,405.58M316.01,405.58L316.27,405.60L316.53,405.62L316.79,405.64L317.06,405.66L317.32,405.69L317.58,405.71L317.84,405.73L318.10,405.75L318.36,405.77L318.62,405.79L318.88,405.81L319.14,405.83L319.40,405.86L319.66,405.88L319.92,405.90L320.18,405.92L320.43,405.94L320.69,405.96L320.94,405.98L321.20,406.00L321.45,406.02L321.70,406.03L321.96,406.05L322.21,406.07L322.46,406.09L322.70,406.11L322.95,406.12L323.19,406.14M323.19,406.14L323.44,406.15L323.68,406.17L323.92,406.19L324.16,406.20L324.40,406.21L324.63,406.23L324.86,406.24L325.10,406.25L325.32,406.27L325.55,406.28L325.78,406.29L326.00,406.30L326.29,406.31L326.57,406.33L326.86,406.34L327.13,406.35L327.41,406.36L327.69,406.37L327.96,406.38L328.23,406.39L328.49,406.40L328.76,406.41L329.02,406.41L329.28,406.42L329.54,406.43L329.79,406.43L330.05,406.44M330.05,406.44L330.30,406.45L330.55,406.45L330.80,406.46L331.05,406.46L331.30,406.46L331.55,406.47L331.79,406.47L332.03,406.47L332.28,406.47L332.52,406.48L332.76,406.48L333.01,406.48L333.25,406.48L333.49,406.48L333.73,406.48L333.97,406.48L334.21,406.48L334.45,406.47L334.69,406.47L334.93,406.47L335.17,406.47L335.42,406.46L335.66,406.46L335.90,406.46L336.15,406.45L336.39,406.45L336.64,406.44L336.89,406.44L337.14,406.43M337.14,406.43L337.39,406.43L337.64,406.42L337.89,406.41L338.14,406.41L338.40,406.40L338.65,406.39L338.90,406.38L339.15,406.37L339.40,406.36L339.65,406.35L339.90,406.33L340.16,406.31L340.41,406.30L340.66,406.28L340.92,406.26L341.18,406.24L341.43,406.21L341.69,406.19L341.95,406.17L342.21,406.15L342.46,406.12L342.72,406.10L342.98,406.07L343.24,406.05L343.50,406.02L343.76,406.00L344.02,405.97L344.27,405.94M344.27,405.94L344.53,405.92L344.79,405.89L345.05,405.87L345.30,405.84L345.56,405.82L345.82,405.80L346.07,405.77L346.33,405.75L346.58,405.73L346.84,405.71L347.09,405.69L347.34,405.67L347.59,405.66L347.84,405.64L348.09,405.63L348.34,405.61L348.58,405.60L348.83,405.59L349.07,405.59L349.32,405.58L349.56,405.57L349.80,405.57L350.04,405.57L350.27,405.57L350.51,405.58L350.74,405.58L350.97,405.59L351.20,405.60M351.20,405.60L351.48,405.62L351.75,405.63L352.02,405.66L352.28,405.68L352.54,405.71L352.80,405.74L353.06,405.77L353.31,405.81L353.56,405.85L353.81,405.88L354.05,405.93L354.30,405.97L354.54,406.02L354.78,406.06L355.02,406.11L355.26,406.16L355.50,406.21L355.73,406.27L355.97,406.32L356.21,406.38L356.44,406.43L356.68,406.49L356.92,406.55L357.15,406.60L357.39,406.66L357.63,406.72L357.87,406.78L358.11,406.84L358.35,406.90M358.35,406.90L358.59,406.95L358.84,407.01L359.08,407.07L359.33,407.13L359.58,407.18L359.84,407.24L360.09,407.30L360.35,407.35L360.62,407.40L360.88,407.45L361.15,407.50L361.42,407.55L361.70,407.60L361.93,407.64L362.16,407.68L362.39,407.72L362.63,407.76L362.87,407.81L363.11,407.85L363.36,407.90L363.61,407.95L363.86,408.00L364.11,408.05L364.36,408.10L364.62,408.15L364.88,408.20L365.14,408.26L365.40,408.31M365.40,408.31L365.67,408.36L365.93,408.42L366.20,408.47L366.46,408.52L366.73,408.57L367.00,408.63L367.26,408.68L367.53,408.73L367.80,408.78L368.06,408.83L368.33,408.88L368.60,408.93L368.86,408.98L369.13,409.02L369.39,409.07L369.65,409.11L369.92,409.15L370.17,409.19L370.43,409.23L370.69,409.27L370.94,409.30L371.19,409.33L371.44,409.36L371.69,409.39L371.94,409.42L372.18,409.44L372.42,409.46M372.42,409.46L372.65,409.48L372.88,409.50L373.11,409.51L373.34,409.52L373.56,409.52L373.77,409.52L373.99,409.52L374.20,409.52L374.40,409.51L374.60,409.50L374.91,409.47L375.20,409.44L375.49,409.40L375.77,409.36L376.04,409.30L376.31,409.24L376.56,409.18L376.81,409.10L377.06,409.03L377.30,408.94L377.53,408.86L377.76,408.76L377.98,408.67L378.20,408.56L378.42,408.46L378.63,408.35L378.84,408.24L379.05,408.12L379.26,408.00L379.46,407.88M379.46,407.88L379.67,407.76L379.87,407.63L380.07,407.51L380.28,407.38L380.48,407.25L380.69,407.12L380.90,406.99L381.11,406.85L381.32,406.72L381.53,406.59L381.75,406.46L381.97,406.33L382.20,406.20L382.41,406.08L382.62,405.96L382.83,405.83L383.04,405.70L383.26,405.57L383.47,405.44L383.68,405.30L383.89,405.16L384.11,405.02L384.32,404.88L384.53,404.73L384.74,404.59L384.96,404.44L385.17,404.29L385.38,404.14L385.60,403.99L385.81,403.84L386.02,403.69L386.23,403.53L386.44,403.38M386.44,403.38L386.65,403.23L386.86,403.07L387.07,402.92L387.28,402.77L387.49,402.61L387.69,402.46L387.90,402.31L388.10,402.16L388.31,402.01L388.51,401.86L388.71,401.71L388.91,401.57L389.11,401.42L389.31,401.28L389.50,401.14L389.70,401.00L389.92,400.84L390.13,400.69L390.35,400.53L390.57,400.37L390.78,400.21L390.99,400.05L391.20,399.89L391.41,399.73L391.62,399.57L391.83,399.41L392.04,399.25L392.24,399.10L392.45,398.94L392.65,398.78L392.85,398.62L393.06,398.47L393.26,398.32L393.46,398.16M393.46,398.16L393.66,398.01L393.86,397.86L394.06,397.72L394.25,397.57L394.45,397.43L394.65,397.29L394.84,397.16L395.04,397.03L395.23,396.90L395.43,396.77L395.62,396.65L395.81,396.53L396.01,396.41L396.20,396.30L396.45,396.16L396.70,396.03L396.94,395.90L397.18,395.78L397.42,395.67L397.65,395.57L397.88,395.47L398.11,395.38L398.33,395.29L398.56,395.20L398.79,395.12L399.01,395.04L399.24,394.96L399.47,394.88L399.70,394.80L399.94,394.72L400.18,394.64L400.42,394.56L400.67,394.48M400.67,394.48L400.92,394.39L401.18,394.30L401.45,394.21L401.72,394.11L402.00,394.00L402.21,393.92L402.42,393.84L402.64,393.76L402.85,393.67L403.07,393.59L403.30,393.51L403.52,393.42L403.75,393.33L403.98,393.24L404.21,393.16L404.44,393.07L404.68,392.98L404.92,392.89L405.16,392.80L405.40,392.71L405.64,392.61L405.88,392.52L406.13,392.43L406.38,392.34L406.62,392.25L406.87,392.16L407.12,392.07L407.37,391.98L407.62,391.89M407.62,391.89L407.88,391.80L408.13,391.71L408.38,391.62L408.63,391.53L408.89,391.44L409.14,391.35L409.39,391.27L409.65,391.18L409.90,391.10L410.13,391.03L410.36,390.95L410.59,390.89L410.82,390.82L411.04,390.76L411.27,390.70L411.49,390.64L411.72,390.59L411.94,390.53L412.17,390.48L412.39,390.43L412.62,390.37L412.84,390.32L413.07,390.27L413.30,390.22L413.53,390.17L413.76,390.11L413.99,390.06L414.23,390.00L414.47,389.94L414.70,389.88M414.70,389.88L414.95,389.82L415.19,389.75L415.44,389.68L415.69,389.61L415.94,389.53L416.20,389.45L416.46,389.37L416.72,389.28L416.99,389.18L417.26,389.09L417.54,388.98L417.82,388.87L418.11,388.75L418.40,388.63L418.70,388.50L418.89,388.42L419.08,388.33L419.28,388.24L419.48,388.14L419.68,388.05L419.89,387.94L420.10,387.84L420.31,387.74L420.52,387.63L420.74,387.52L420.96,387.40L421.19,387.29L421.41,387.17L421.64,387.05L421.87,386.93M421.87,386.93L422.10,386.81L422.33,386.68L422.57,386.56L422.81,386.43L423.04,386.30L423.28,386.17L423.52,386.04L423.76,385.90L424.00,385.77L424.24,385.64L424.49,385.50L424.73,385.37L424.97,385.23L425.21,385.09L425.45,384.96L425.70,384.82L425.94,384.68L426.18,384.55L426.42,384.41L426.65,384.28L426.89,384.14L427.13,384.00L427.36,383.87L427.59,383.74L427.82,383.60L428.05,383.47L428.28,383.34L428.50,383.21L428.72,383.09M428.72,383.09L428.94,382.96L429.16,382.83L429.38,382.71L429.59,382.59L429.79,382.47L430.00,382.35L430.20,382.24L430.40,382.12L430.59,382.01L430.78,381.91L430.97,381.80L431.15,381.70L431.33,381.60L431.50,381.50L431.80,381.33L432.10,381.17L432.38,381.01L432.66,380.85L432.93,380.71L433.19,380.56L433.44,380.42L433.68,380.29L433.92,380.16L434.15,380.03L434.37,379.90L434.59,379.78L434.81,379.66L435.02,379.54L435.22,379.43L435.43,379.31L435.62,379.20L435.82,379.09M435.82,379.09L436.01,378.97L436.20,378.86L436.39,378.75L436.58,378.64L436.77,378.52L436.96,378.41L437.14,378.29L437.33,378.17L437.52,378.05L437.71,377.93L437.91,377.80L438.10,377.67L438.30,377.54L438.50,377.40L438.72,377.25L438.93,377.10L439.15,376.95L439.37,376.81L439.58,376.66L439.80,376.51L440.01,376.36L440.22,376.21L440.44,376.06L440.65,375.90L440.86,375.75L441.07,375.60L441.28,375.44L441.48,375.29L441.69,375.13L441.89,374.97L442.09,374.81L442.29,374.65L442.49,374.49L442.69,374.33L442.88,374.16M442.88,374.16L443.07,374.00L443.26,373.83L443.44,373.66L443.63,373.49L443.81,373.32L443.99,373.14L444.16,372.96L444.33,372.78L444.50,372.60L444.67,372.41L444.84,372.22L445.00,372.02L445.15,371.83L445.31,371.63L445.46,371.43L445.60,371.23L445.75,371.03L445.89,370.83M587.63,394.91L587.81,395.10L588.00,395.28L588.19,395.46L588.39,395.63L588.58,395.80L588.77,395.97L588.96,396.13L589.16,396.28L589.36,396.44L589.55,396.59L589.75,396.73L589.95,396.88L590.15,397.02L590.35,397.16L590.55,397.30M590.55,397.30L590.76,397.43L590.96,397.56L591.16,397.69L591.37,397.82L591.58,397.95L591.79,398.08L591.99,398.20L592.20,398.33L592.41,398.45L592.63,398.58L592.84,398.70L593.05,398.83L593.27,398.95L593.48,399.07L593.70,399.20L593.92,399.32L594.14,399.45L594.36,399.57L594.58,399.68L594.81,399.80L595.04,399.91L595.26,400.02L595.49,400.13L595.72,400.24L595.96,400.35L596.19,400.45L596.42,400.56L596.66,400.66L596.89,400.76L597.13,400.86L597.37,400.96L597.61,401.05M597.61,401.05L597.84,401.15L598.08,401.24L598.32,401.34L598.56,401.43L598.80,401.52L599.04,401.61L599.28,401.71L599.52,401.80L599.76,401.89L600.00,401.98L600.24,402.07L600.48,402.16L600.72,402.25L600.96,402.34L601.19,402.43L601.43,402.52L601.67,402.61L601.90,402.70L602.14,402.79L602.38,402.89L602.61,402.98L602.84,403.07L603.07,403.16L603.30,403.25L603.53,403.34L603.75,403.43L603.98,403.51L604.20,403.60L604.42,403.69L604.65,403.77M604.65,403.77L604.87,403.86L605.09,403.94L605.32,404.03L605.54,404.11L605.77,404.19L606.00,404.28L606.23,404.36L606.46,404.44L606.69,404.53L606.93,404.61L607.17,404.69L607.42,404.77L607.66,404.85L607.92,404.94L608.17,405.02L608.43,405.10L608.70,405.18L608.97,405.27L609.24,405.35L609.52,405.43L609.81,405.52L610.10,405.60L610.31,405.66L610.52,405.72L610.73,405.78L610.95,405.84L611.16,405.91L611.38,405.97L611.60,406.03M611.60,406.03L611.82,406.10L612.04,406.16L612.26,406.23L612.48,406.30L612.71,406.36L612.93,406.43L613.16,406.49L613.39,406.56L613.62,406.63L613.85,406.69L614.09,406.76L614.33,406.82L614.56,406.89L614.80,406.96L615.04,407.02L615.29,407.09L615.53,407.15L615.78,407.21L616.03,407.28L616.28,407.34L616.53,407.40L616.78,407.46L617.04,407.52L617.30,407.58L617.56,407.64L617.82,407.70L618.08,407.75L618.35,407.81L618.61,407.86M618.61,407.86L618.88,407.92L619.16,407.97L619.43,408.02L619.71,408.07L619.99,408.11L620.27,408.16L620.55,408.20L620.84,408.25L621.12,408.29L621.41,408.33L621.71,408.36L622.00,408.40L622.22,408.42L622.43,408.45L622.65,408.47L622.87,408.49L623.09,408.51L623.31,408.53L623.53,408.54L623.76,408.56L623.98,408.57L624.21,408.59L624.43,408.60L624.66,408.61L624.89,408.62L625.12,408.63L625.35,408.64L625.58,408.65M625.58,408.65L625.81,408.66L626.05,408.67L626.28,408.67L626.52,408.68L626.75,408.68L626.99,408.69L627.23,408.69L627.47,408.70L627.71,408.70L627.96,408.70L628.20,408.70L628.44,408.71L628.69,408.71L628.94,408.71L629.18,408.71L629.43,408.71L629.68,408.71L629.93,408.71L630.18,408.71L630.44,408.71L630.69,408.72L630.95,408.72L631.20,408.72L631.46,408.72L631.72,408.72L631.98,408.72L632.24,408.72L632.50,408.72M632.50,408.72L632.76,408.72L633.02,408.73L633.29,408.73L633.55,408.73L633.82,408.74L634.08,408.74L634.35,408.74L634.62,408.75L634.89,408.75L635.16,408.76L635.44,408.77L635.71,408.78L635.98,408.78L636.26,408.79L636.54,408.80L636.81,408.81L637.09,408.83L637.37,408.84L637.65,408.85L637.93,408.87L638.22,408.88L638.50,408.90L638.73,408.91L638.95,408.93L639.19,408.94L639.42,408.96L639.66,408.98M639.66,408.98L639.90,408.99L640.15,409.01L640.40,409.03L640.65,409.05L640.90,409.06L641.16,409.08L641.42,409.10L641.68,409.12L641.95,409.14L642.21,409.16L642.48,409.18L642.75,409.21L643.03,409.23L643.30,409.25L643.58,409.27L643.86,409.29L644.13,409.32L644.42,409.34L644.70,409.36L644.98,409.39L645.26,409.41L645.55,409.43L645.83,409.46L646.12,409.48L646.41,409.51L646.69,409.53M646.69,409.53L646.98,409.56L647.27,409.58L647.55,409.61L647.84,409.63L648.13,409.66L648.42,409.68L648.70,409.71L648.99,409.74L649.28,409.76L649.56,409.79L649.84,409.81L650.13,409.84L650.41,409.86L650.69,409.89L650.97,409.91L651.25,409.94L651.52,409.97L651.80,409.99L652.07,410.02L652.34,410.04L652.61,410.07L652.88,410.09L653.14,410.11L653.41,410.14L653.67,410.16M653.67,410.16L653.92,410.19L654.18,410.21L654.43,410.23L654.68,410.26L654.93,410.28L655.17,410.30L655.41,410.32L655.65,410.35L655.88,410.37L656.11,410.39L656.34,410.41L656.56,410.43L656.78,410.45L656.99,410.47L657.20,410.49L657.41,410.51L657.61,410.53L657.80,410.55L658.00,410.56L658.18,410.58L658.37,410.60L658.54,410.61L658.72,410.63L658.88,410.65L659.05,410.66L659.20,410.67L659.35,410.69L659.50,410.70L660.39,410.78L661.08,410.84M661.08,410.84L661.59,410.89L661.94,410.92L662.18,410.95L662.31,410.96L662.37,410.97L662.39,410.98L662.38,410.98L662.38,410.98L662.41,410.99L662.50,411.00" stroke="#0a0a0a" stroke-width="2.9" fill="none" stroke-linecap="round" stroke-dasharray="2.8 30"/>
<path d="M446.02,370.62L446.16,370.41L446.29,370.20L446.42,369.99L446.55,369.78L446.68,369.57L446.81,369.35L446.94,369.14L447.06,368.92L447.19,368.70L447.32,368.47L447.44,368.25L447.57,368.02L447.70,367.80L447.83,367.57L447.96,367.34L448.09,367.11L448.23,366.87L448.36,366.64L448.50,366.40L448.62,366.20L448.74,365.99L448.86,365.79L448.98,365.58L449.10,365.37L449.21,365.16L449.33,364.95L449.45,364.74L449.57,364.53L449.69,364.31L449.81,364.10L449.93,363.88L450.05,363.66L450.17,363.45L450.29,363.23L450.41,363.00L450.53,362.78L450.65,362.56L450.77,362.33L450.89,362.11L451.01,361.88L451.13,361.65L451.26,361.42L451.38,361.19L451.50,360.96L451.62,360.72L451.74,360.49L451.86,360.25L451.99,360.01L452.11,359.77L452.23,359.53L452.35,359.29L452.48,359.04L452.60,358.80L452.71,358.59L452.81,358.38L452.92,358.17L453.02,357.95L453.13,357.74L453.24,357.52L453.34,357.31L453.45,357.09L453.56,356.87L453.67,356.65L453.77,356.43L453.88,356.21L453.99,355.98L454.10,355.76L454.21,355.53L454.32,355.31L454.42,355.08L454.53,354.85L454.64,354.62L454.75,354.39L454.86,354.16L454.97,353.93L455.08,353.70L455.18,353.47L455.29,353.24L455.40,353.00L455.51,352.77L455.62,352.54L455.73,352.30L455.83,352.07L455.94,351.83L456.05,351.60L456.16,351.36L456.26,351.12L456.37,350.89L456.48,350.65L456.58,350.41L456.69,350.17L456.79,349.94L456.90,349.70L457.00,349.47L457.10,349.25L457.20,349.02L457.30,348.79L457.40,348.56L457.50,348.32L457.60,348.09L457.70,347.86L457.80,347.62L457.90,347.39L458.00,347.15L458.10,346.92L458.20,346.68L458.30,346.44L458.40,346.20L458.50,345.96L458.60,345.73L458.70,345.49L458.80,345.25L458.90,345.01L459.00,344.77L459.10,344.53L459.20,344.29L459.30,344.05L459.39,343.81L459.49,343.57L459.59,343.33L459.69,343.09L459.78,342.85L459.88,342.62L459.97,342.38L460.07,342.14L460.16,341.90L460.26,341.67L460.35,341.43L460.45,341.20L460.54,340.96L460.63,340.73L460.73,340.49L460.82,340.26L460.91,340.03L461.00,339.80L461.09,339.56L461.19,339.32L461.28,339.08L461.37,338.85L461.47,338.61L461.56,338.38L461.65,338.15L461.74,337.92L461.83,337.68L461.92,337.45L462.01,337.23L462.09,337.00L462.18,336.77L462.27,336.54L462.36,336.31L462.44,336.09L462.53,335.86L462.62,335.63L462.70,335.40L462.79,335.18L462.87,334.95L462.96,334.72L463.04,334.49L463.13,334.26L463.21,334.03L463.30,333.80L463.38,333.56L463.47,333.33L463.55,333.09L463.64,332.86L463.72,332.62L463.81,332.38L463.90,332.14L463.98,331.90L464.07,331.65L464.15,331.41L464.24,331.16L464.33,330.91L464.41,330.66L464.50,330.40L464.58,330.18L464.65,329.95L464.73,329.72L464.80,329.50L464.88,329.27L464.96,329.04L465.03,328.81L465.11,328.57L465.18,328.34L465.26,328.10L465.34,327.87L465.41,327.63L465.49,327.39L465.57,327.15L465.64,326.91L465.72,326.67L465.79,326.43L465.87,326.19L465.95,325.95L466.02,325.70L466.10,325.46L466.17,325.21L466.25,324.97L466.33,324.72L466.40,324.48L466.48,324.23L466.55,323.98L466.63,323.74L466.71,323.49L466.78,323.24L466.86,323.00L466.93,322.75L467.01,322.50L467.09,322.25L467.16,322.01L467.24,321.76L467.32,321.51L467.39,321.26L467.47,321.02L467.54,320.77L467.62,320.52L467.70,320.28L467.77,320.03L467.85,319.79L467.92,319.54L468.00,319.30L468.07,319.06L468.15,318.83L468.22,318.59L468.29,318.36L468.36,318.13L468.43,317.91L468.50,317.68L468.57,317.45L468.64,317.23L468.71,317.01L468.78,316.78L468.85,316.56L468.92,316.34L468.98,316.12L469.05,315.90L469.12,315.67L469.19,315.45L469.25,315.23L469.32,315.01L469.39,314.79L469.46,314.56L469.53,314.34L469.60,314.11L469.67,313.89L469.74,313.66L469.81,313.43L469.88,313.20L469.95,312.97L470.02,312.73L470.09,312.49L470.17,312.25L470.24,312.01L470.32,311.77L470.39,311.52L470.47,311.27L470.55,311.02L470.63,310.76L470.71,310.50L470.79,310.24L470.88,309.98L470.96,309.71L471.05,309.43L471.13,309.15L471.22,308.87L471.31,308.59L471.41,308.30L471.50,308.00L471.56,307.80L471.63,307.59L471.70,307.39L471.76,307.18L471.83,306.97L471.90,306.75L471.97,306.54L472.05,306.32L472.12,306.10L472.19,305.87L472.27,305.65L472.34,305.42L472.42,305.19L472.50,304.96L472.57,304.73L472.65,304.50L472.73,304.26L472.81,304.02L472.89,303.78L472.97,303.54L473.06,303.30L473.14,303.06L473.22,302.81L473.30,302.57L473.39,302.32L473.47,302.08L473.55,301.83L473.64,301.58L473.72,301.33L473.81,301.08L473.89,300.83L473.98,300.58L474.06,300.32L474.15,300.07L474.23,299.82L474.32,299.57L474.40,299.31L474.49,299.06L474.57,298.81L474.65,298.55L474.74,298.30L474.82,298.04L474.90,297.79L474.99,297.54L475.07,297.29L475.15,297.03L475.23,296.78L475.32,296.53L475.40,296.28L475.48,296.03L475.56,295.78L475.64,295.54L475.71,295.29L475.79,295.04L475.87,294.80L475.94,294.55L476.02,294.31L476.09,294.07L476.17,293.83L476.24,293.59L476.31,293.35L476.38,293.12L476.45,292.88L476.52,292.65L476.58,292.42L476.65,292.19L476.71,291.97L476.78,291.74L476.84,291.52L476.90,291.30L476.97,291.03L477.04,290.76L477.11,290.50L477.18,290.24L477.25,289.97L477.32,289.71L477.38,289.45L477.44,289.20L477.50,288.94L477.57,288.68L477.63,288.43L477.68,288.18L477.74,287.92L477.80,287.67L477.85,287.42L477.91,287.17L477.96,286.93L478.01,286.68L478.07,286.43L478.12,286.19L478.17,285.94L478.22,285.70L478.27,285.46L478.32,285.21L478.37,284.97L478.41,284.73L478.46,284.49L478.51,284.25L478.55,284.01L478.60,283.77L478.65,283.53L478.69,283.29L478.74,283.06L478.78,282.82L478.83,282.58L478.88,282.34L478.92,282.10L478.97,281.87L479.01,281.63L479.06,281.39L479.10,281.15L479.15,280.92L479.20,280.68L479.24,280.44L479.29,280.20L479.34,279.96L479.39,279.72L479.43,279.48L479.48,279.24L479.53,279.00L479.58,278.76L479.63,278.52L479.69,278.28L479.74,278.03L479.79,277.79L479.85,277.55L479.90,277.30L479.96,277.05L480.01,276.81L480.07,276.56L480.12,276.32L480.18,276.07L480.23,275.83L480.29,275.58L480.35,275.34L480.40,275.09L480.46,274.84L480.51,274.60L480.57,274.35L480.63,274.11L480.69,273.86L480.74,273.62L480.80,273.37L480.86,273.12L480.91,272.88L480.97,272.63L481.03,272.39L481.09,272.14L481.14,271.90L481.20,271.65L481.26,271.41L481.32,271.16L481.37,270.91L481.43,270.67L481.49,270.42L481.55,270.18L481.61,269.93L481.66,269.69L481.72,269.44L481.78,269.19L481.84,268.95L481.90,268.70L481.96,268.46L482.02,268.21L482.07,267.97L482.13,267.72L482.19,267.48L482.25,267.23L482.31,266.98L482.37,266.74L482.43,266.49L482.49,266.25L482.55,266.00L482.61,265.76L482.66,265.51L482.72,265.26L482.78,265.02L482.84,264.77L482.90,264.53L482.96,264.28L483.02,264.04L483.08,263.79L483.14,263.55L483.20,263.30L483.26,263.05L483.32,262.81L483.38,262.56L483.44,262.31L483.50,262.07L483.56,261.82L483.62,261.57L483.68,261.32L483.75,261.07L483.81,260.82L483.87,260.57L483.93,260.32L483.99,260.07L484.05,259.82L484.12,259.57L484.18,259.32L484.24,259.07L484.30,258.82L484.37,258.57L484.43,258.32L484.49,258.07L484.55,257.82L484.62,257.57L484.68,257.32L484.74,257.07L484.81,256.82L484.87,256.57L484.93,256.32L484.99,256.07L485.06,255.82L485.12,255.57L485.18,255.32L485.24,255.07L485.31,254.83L485.37,254.58L485.43,254.33L485.49,254.09L485.56,253.84L485.62,253.60L485.68,253.35L485.74,253.11L485.80,252.86L485.86,252.62L485.92,252.38L485.99,252.14L486.05,251.89L486.11,251.65L486.17,251.42L486.23,251.18L486.29,250.94L486.35,250.70L486.41,250.47L486.47,250.23L486.52,250.00L486.58,249.76L486.64,249.53L486.70,249.30L486.77,249.04L486.83,248.78L486.90,248.52L486.96,248.26L487.03,248.01L487.09,247.76L487.16,247.51L487.22,247.26L487.29,247.01L487.35,246.76L487.42,246.52L487.48,246.27L487.54,246.03L487.61,245.79L487.67,245.55L487.74,245.31L487.80,245.07L487.86,244.83L487.93,244.59L487.99,244.35L488.05,244.12L488.11,243.88L488.18,243.64L488.24,243.41L488.30,243.17L488.36,242.93L488.42,242.70L488.49,242.46L488.55,242.22L488.61,241.98L488.67,241.74L488.73,241.50L488.79,241.27L488.85,241.02L488.91,240.78L488.97,240.54L489.03,240.30L489.09,240.05L489.15,239.81L489.21,239.56L489.27,239.31L489.33,239.06L489.39,238.81L489.45,238.56L489.51,238.30L489.57,238.05L489.63,237.79L489.68,237.53L489.74,237.26L489.80,237.00L489.85,236.77L489.90,236.54L489.95,236.31L490.00,236.07L490.05,235.84L490.10,235.60L490.14,235.36L490.19,235.13L490.24,234.89L490.29,234.65L490.34,234.40L490.38,234.16L490.43,233.92L490.48,233.67L490.52,233.43L490.57,233.18L490.62,232.94L490.66,232.69L490.71,232.44L490.76,232.19L490.80,231.94L490.85,231.70L490.89,231.45L490.94,231.19L490.99,230.94L491.03,230.69L491.08,230.44L491.12,230.19L491.17,229.94L491.21,229.69L491.26,229.43L491.31,229.18L491.35,228.93L491.40,228.67L491.44,228.42L491.49,228.17L491.53,227.92L491.58,227.66L491.62,227.41L491.67,227.16L491.71,226.91L491.76,226.66L491.80,226.41L491.85,226.15L491.90,225.90L491.94,225.65L491.99,225.40L492.03,225.15L492.08,224.91L492.13,224.66L492.17,224.41L492.22,224.16L492.27,223.92L492.31,223.67L492.36,223.43L492.41,223.18L492.45,222.94L492.50,222.70L492.55,222.45L492.60,222.19L492.65,221.93L492.70,221.68L492.75,221.42L492.80,221.16L492.85,220.90L492.90,220.65L492.95,220.39L493.00,220.13L493.05,219.87L493.10,219.61L493.15,219.35L493.20,219.09L493.25,218.83L493.30,218.57L493.35,218.32L493.41,218.06L493.46,217.80L493.51,217.54L493.56,217.28L493.61,217.02L493.66,216.77L493.71,216.51L493.76,216.25L493.81,216.00L493.86,215.74L493.91,215.49L493.96,215.23L494.01,214.98L494.07,214.72L494.12,214.47L494.17,214.22L494.22,213.97L494.27,213.72L494.32,213.47L494.37,213.23L494.42,212.98L494.48,212.73L494.53,212.49L494.58,212.25L494.63,212.00L494.68,211.76L494.73,211.53L494.78,211.29L494.83,211.05L494.89,210.82L494.94,210.58L494.99,210.35L495.04,210.12L495.09,209.89L495.14,209.67L495.20,209.44L495.25,209.22L495.30,209.00L495.37,208.72L495.43,208.44L495.50,208.17L495.56,207.90L495.63,207.63L495.70,207.37L495.76,207.11L495.83,206.85L495.89,206.59L495.96,206.34L496.02,206.09L496.09,205.84L496.15,205.59L496.22,205.34L496.28,205.10L496.35,204.86L496.42,204.62L496.48,204.38L496.55,204.14L496.61,203.90L496.68,203.67L496.75,203.43L496.81,203.20L496.88,202.97L496.95,202.73L497.01,202.50L497.08,202.27L497.15,202.04L497.22,201.80L497.28,201.57L497.35,201.34L497.42,201.11L497.49,200.88L497.56,200.64L497.63,200.41L497.70,200.17L497.77,199.94L497.84,199.70L497.91,199.46L497.98,199.23L498.05,198.99L498.13,198.74L498.20,198.50L498.27,198.26L498.34,198.02L498.42,197.78L498.49,197.55L498.56,197.31L498.63,197.07L498.71,196.83L498.78,196.59L498.85,196.35L498.92,196.11L499.00,195.87L499.07,195.63L499.15,195.39L499.22,195.16L499.30,194.92L499.37,194.68L499.45,194.44L499.52,194.20L499.60,193.96L499.67,193.72L499.75,193.48L499.82,193.24L499.90,193.00L499.98,192.77L500.06,192.53L500.13,192.29L500.21,192.05L500.29,191.81L500.37,191.57L500.45,191.33L500.53,191.09L500.61,190.86L500.69,190.62L500.77,190.38L500.85,190.14L500.93,189.90L501.01,189.66L501.10,189.43L501.18,189.19L501.26,188.95L501.35,188.71L501.43,188.48L501.52,188.24L501.60,188.00L501.69,187.76L501.77,187.52L501.86,187.28L501.95,187.04L502.04,186.80L502.13,186.56L502.22,186.32L502.31,186.07L502.40,185.83L502.49,185.58L502.58,185.34L502.68,185.09L502.77,184.85L502.86,184.60L502.96,184.36L503.05,184.11L503.15,183.87L503.24,183.62L503.34,183.38L503.43,183.14L503.53,182.89L503.62,182.65L503.72,182.41L503.82,182.17L503.91,181.93L504.01,181.69L504.11,181.45L504.20,181.21L504.30,180.97L504.39,180.74L504.49,180.50L504.58,180.27L504.68,180.04L504.77,179.81L504.87,179.58L504.96,179.35L505.06,179.12L505.15,178.90L505.24,178.68L505.34,178.46L505.43,178.24L505.52,178.03L505.61,177.81L505.70,177.60L505.81,177.34L505.93,177.07L506.04,176.81L506.15,176.55L506.26,176.28L506.37,176.02L506.48,175.76L506.60,175.50L506.71,175.25L506.82,174.99L506.93,174.74L507.04,174.48L507.15,174.23L507.26,173.98L507.37,173.74L507.47,173.49L507.58,173.25L507.69,173.01L507.80,172.78L507.91,172.54L508.02,172.31L508.12,172.09L508.23,171.86L508.34,171.64L508.44,171.43L508.55,171.21L508.66,171.01L508.76,170.80L508.87,170.60L508.98,170.41L509.08,170.22L509.19,170.03L509.29,169.85L509.40,169.67L509.50,169.50L509.68,169.21L509.86,168.94L510.03,168.69L510.20,168.45L510.38,168.22L510.54,168.00L510.71,167.80L510.88,167.61L511.05,167.42L511.21,167.25L511.38,167.08L511.55,166.92L511.72,166.77L511.89,166.62L512.07,166.48L512.25,166.34L512.43,166.20L512.61,166.07L512.81,165.93L513.00,165.80L513.22,165.65L513.46,165.50L513.70,165.35L513.94,165.21L514.19,165.07L514.44,164.93L514.70,164.80L514.96,164.68L515.22,164.57L515.48,164.46L515.73,164.37L515.99,164.29L516.24,164.22L516.49,164.16L516.73,164.12L516.96,164.10L517.18,164.09L517.40,164.10L517.63,164.13L517.86,164.18L518.07,164.24L518.28,164.32L518.49,164.41L518.69,164.52L518.88,164.65L519.07,164.79L519.26,164.95L519.45,165.13L519.64,165.32L519.83,165.52L520.02,165.74L520.21,165.98L520.40,166.23L520.60,166.50L520.71,166.66L520.83,166.83L520.95,167.01L521.06,167.19L521.18,167.38L521.29,167.58L521.41,167.78L521.53,167.99L521.65,168.20L521.76,168.42L521.88,168.65L522.00,168.87L522.11,169.11L522.23,169.34L522.35,169.58L522.46,169.83L522.58,170.08L522.69,170.32L522.81,170.58L522.92,170.83L523.04,171.09L523.15,171.34L523.26,171.60L523.37,171.86L523.48,172.12L523.59,172.38L523.69,172.64L523.80,172.90L523.89,173.11L523.97,173.33L524.06,173.55L524.14,173.77L524.23,173.99L524.31,174.22L524.39,174.44L524.47,174.67L524.56,174.90L524.64,175.13L524.72,175.36L524.80,175.60L524.88,175.83L524.96,176.07L525.04,176.31L525.12,176.55L525.19,176.79L525.27,177.03L525.35,177.27L525.43,177.52L525.50,177.76L525.58,178.01L525.66,178.25L525.74,178.50L525.81,178.75L525.89,179.00L525.97,179.25L526.04,179.49L526.12,179.75L526.19,180.00L526.27,180.25L526.35,180.50L526.42,180.75L526.50,181.00L526.57,181.23L526.64,181.47L526.71,181.70L526.78,181.94L526.85,182.17L526.92,182.41L526.98,182.65L527.05,182.90L527.12,183.14L527.19,183.38L527.25,183.63L527.32,183.87L527.39,184.12L527.46,184.36L527.52,184.61L527.59,184.86L527.66,185.10L527.72,185.35L527.79,185.60L527.86,185.85L527.92,186.10L527.99,186.34L528.06,186.59L528.12,186.84L528.19,187.09L528.26,187.33L528.32,187.58L528.39,187.83L528.46,188.07L528.52,188.32L528.59,188.56L528.66,188.80L528.73,189.04L528.79,189.28L528.86,189.52L528.93,189.76L529.00,190.00L529.07,190.25L529.15,190.50L529.22,190.74L529.29,190.99L529.37,191.23L529.44,191.47L529.51,191.71L529.59,191.95L529.66,192.18L529.73,192.42L529.81,192.66L529.88,192.89L529.95,193.13L530.03,193.36L530.10,193.60L530.18,193.83L530.25,194.07L530.32,194.31L530.40,194.54L530.47,194.78L530.55,195.02L530.62,195.25L530.70,195.49L530.77,195.73L530.85,195.98L530.92,196.22L531.00,196.47L531.07,196.71L531.15,196.96L531.22,197.21L531.30,197.46L531.37,197.72L531.45,197.98L531.52,198.24L531.60,198.50L531.66,198.73L531.73,198.95L531.80,199.18L531.86,199.42L531.93,199.65L531.99,199.88L532.06,200.12L532.13,200.36L532.19,200.60L532.26,200.84L532.33,201.08L532.39,201.32L532.46,201.56L532.53,201.81L532.59,202.05L532.66,202.30L532.73,202.54L532.79,202.79L532.86,203.04L532.93,203.29L533.00,203.54L533.06,203.79L533.13,204.04L533.20,204.29L533.26,204.54L533.33,204.79L533.40,205.04L533.46,205.29L533.53,205.54L533.59,205.78L533.66,206.03L533.73,206.28L533.79,206.53L533.86,206.78L533.92,207.03L533.98,207.28L534.05,207.52L534.11,207.77L534.17,208.01L534.24,208.26L534.30,208.50L534.36,208.75L534.43,209.00L534.49,209.24L534.55,209.49L534.62,209.74L534.68,209.98L534.74,210.23L534.80,210.48L534.86,210.72L534.92,210.97L534.98,211.21L535.05,211.46L535.11,211.70L535.17,211.95L535.23,212.19L535.29,212.44L535.35,212.68L535.41,212.93L535.47,213.17L535.52,213.42L535.58,213.66L535.64,213.91L535.70,214.16L535.76,214.40L535.82,214.65L535.88,214.89L535.94,215.14L536.00,215.39L536.06,215.64L536.11,215.89L536.17,216.13L536.23,216.38L536.29,216.63L536.35,216.88L536.41,217.13L536.47,217.39L536.52,217.64L536.58,217.89L536.64,218.15L536.70,218.40L536.76,218.64L536.81,218.88L536.87,219.12L536.92,219.36L536.98,219.60L537.03,219.84L537.09,220.07L537.14,220.31L537.20,220.54L537.25,220.78L537.31,221.01L537.36,221.25L537.42,221.48L537.47,221.72L537.52,221.95L537.58,222.19L537.63,222.43L537.69,222.66L537.74,222.90L537.80,223.14L537.85,223.38L537.90,223.62L537.96,223.87L538.01,224.11L538.07,224.36L538.12,224.60L538.18,224.85L538.23,225.10L538.28,225.36L538.34,225.61L538.39,225.87L538.45,226.13L538.50,226.39L538.56,226.66L538.61,226.93L538.67,227.20L538.72,227.48L538.78,227.75L538.83,228.03L538.89,228.32L538.94,228.61L539.00,228.90L539.04,229.12L539.08,229.34L539.12,229.56L539.16,229.79L539.21,230.02L539.25,230.25L539.29,230.49L539.33,230.72L539.37,230.96L539.41,231.21L539.45,231.45L539.49,231.70L539.53,231.94L539.58,232.19L539.62,232.44L539.66,232.70L539.70,232.95L539.74,233.21L539.78,233.46L539.82,233.72L539.86,233.98L539.91,234.24L539.95,234.50L539.99,234.76L540.03,235.02L540.07,235.29L540.11,235.55L540.15,235.81L540.20,236.08L540.24,236.34L540.28,236.60L540.32,236.87L540.36,237.13L540.41,237.39L540.45,237.65L540.49,237.92L540.53,238.18L540.57,238.44L540.62,238.70L540.66,238.96L540.70,239.21L540.74,239.47L540.79,239.72L540.83,239.98L540.87,240.23L540.92,240.48L540.96,240.73L541.00,240.98L541.05,241.22L541.09,241.46L541.13,241.70L541.18,241.94L541.22,242.18L541.27,242.41L541.31,242.65L541.36,242.87L541.40,243.10L541.46,243.38L541.51,243.65L541.57,243.92L541.62,244.19L541.68,244.46L541.74,244.72L541.80,244.98L541.86,245.24L541.91,245.49L541.97,245.75L542.03,246.00L542.09,246.25L542.15,246.50L542.21,246.75L542.27,246.99L542.33,247.24L542.39,247.48L542.45,247.72L542.51,247.96L542.57,248.20L542.63,248.44L542.69,248.68L542.75,248.92L542.81,249.16L542.87,249.39L542.93,249.63L542.99,249.87L543.05,250.10L543.11,250.34L543.17,250.58L543.23,250.82L543.29,251.05L543.35,251.29L543.41,251.53L543.47,251.77L543.53,252.01L543.59,252.26L543.64,252.50L543.70,252.74L543.76,252.99L543.82,253.24L543.88,253.49L543.93,253.74L543.99,253.99L544.04,254.24L544.10,254.50L544.15,254.74L544.20,254.98L544.25,255.22L544.30,255.46L544.35,255.70L544.40,255.94L544.45,256.18L544.50,256.43L544.55,256.67L544.60,256.92L544.65,257.16L544.70,257.41L544.75,257.66L544.80,257.90L544.85,258.15L544.90,258.40L544.95,258.65L545.00,258.90L545.05,259.15L545.10,259.40L545.14,259.65L545.19,259.90L545.24,260.15L545.29,260.40L545.34,260.65L545.39,260.90L545.43,261.15L545.48,261.40L545.53,261.65L545.58,261.90L545.62,262.15L545.67,262.40L545.72,262.65L545.76,262.90L545.81,263.15L545.86,263.40L545.90,263.64L545.95,263.89L546.00,264.14L546.04,264.38L546.09,264.63L546.14,264.87L546.18,265.12L546.23,265.36L546.27,265.60L546.32,265.84L546.36,266.08L546.41,266.32L546.45,266.56L546.50,266.80L546.55,267.06L546.60,267.31L546.64,267.57L546.69,267.82L546.74,268.08L546.79,268.33L546.83,268.58L546.88,268.84L546.93,269.09L546.97,269.34L547.02,269.59L547.06,269.84L547.11,270.09L547.15,270.34L547.20,270.59L547.24,270.84L547.29,271.08L547.33,271.33L547.37,271.58L547.42,271.82L547.46,272.07L547.51,272.32L547.55,272.56L547.59,272.81L547.64,273.05L547.68,273.30L547.73,273.54L547.77,273.79L547.81,274.03L547.86,274.28L547.90,274.52L547.95,274.77L547.99,275.01L548.04,275.26L548.08,275.50L548.13,275.75L548.17,275.99L548.22,276.23L548.27,276.48L548.31,276.72L548.36,276.97L548.41,277.22L548.46,277.46L548.50,277.71L548.55,277.95L548.60,278.20L548.65,278.45L548.70,278.69L548.75,278.94L548.80,279.18L548.85,279.42L548.89,279.66L548.94,279.91L548.99,280.15L549.04,280.39L549.09,280.63L549.14,280.87L549.19,281.11L549.24,281.35L549.29,281.59L549.34,281.82L549.39,282.06L549.44,282.30L549.49,282.54L549.54,282.78L549.60,283.02L549.65,283.26L549.70,283.50L549.75,283.74L549.80,283.98L549.85,284.22L549.91,284.46L549.96,284.70L550.01,284.95L550.06,285.19L550.12,285.43L550.17,285.68L550.22,285.92L550.28,286.17L550.33,286.42L550.38,286.67L550.44,286.92L550.49,287.17L550.55,287.42L550.60,287.68L550.66,287.93L550.72,288.19L550.77,288.45L550.83,288.71L550.89,288.97L550.94,289.23L551.00,289.50L551.05,289.73L551.10,289.96L551.15,290.19L551.20,290.42L551.25,290.66L551.30,290.89L551.35,291.13L551.40,291.37L551.45,291.61L551.50,291.85L551.56,292.10L551.61,292.34L551.66,292.59L551.71,292.83L551.76,293.08L551.82,293.33L551.87,293.58L551.92,293.83L551.98,294.08L552.03,294.33L552.08,294.58L552.14,294.83L552.19,295.08L552.24,295.34L552.30,295.59L552.35,295.84L552.41,296.09L552.46,296.35L552.52,296.60L552.57,296.85L552.62,297.11L552.68,297.36L552.73,297.61L552.79,297.86L552.84,298.11L552.90,298.36L552.96,298.61L553.01,298.86L553.07,299.11L553.12,299.36L553.18,299.61L553.23,299.85L553.29,300.10L553.34,300.34L553.40,300.58L553.45,300.82L553.51,301.06L553.57,301.30L553.62,301.54L553.68,301.77L553.73,302.01L553.79,302.24L553.84,302.47L553.90,302.70L553.96,302.96L554.03,303.22L554.09,303.48L554.16,303.74L554.22,303.99L554.29,304.25L554.35,304.50L554.42,304.76L554.48,305.01L554.55,305.26L554.62,305.51L554.68,305.76L554.75,306.01L554.81,306.25L554.88,306.50L554.95,306.74L555.01,306.99L555.08,307.23L555.15,307.48L555.22,307.72L555.28,307.96L555.35,308.20L555.42,308.44L555.48,308.68L555.55,308.92L555.62,309.16L555.68,309.40L555.75,309.64L555.82,309.87L555.89,310.11L555.95,310.35L556.02,310.58L556.09,310.82L556.15,311.05L556.22,311.29L556.28,311.52L556.35,311.76L556.42,311.99L556.48,312.23L556.55,312.46L556.61,312.70L556.68,312.93L556.74,313.16L556.81,313.40L556.87,313.63L556.94,313.87L557.00,314.10L557.07,314.36L557.14,314.61L557.21,314.87L557.28,315.12L557.34,315.37L557.41,315.63L557.48,315.88L557.54,316.13L557.61,316.38L557.68,316.63L557.74,316.89L557.81,317.14L557.87,317.39L557.94,317.64L558.00,317.88L558.07,318.13L558.13,318.38L558.20,318.63L558.26,318.88L558.33,319.12L558.39,319.37L558.46,319.62L558.52,319.86L558.59,320.11L558.65,320.35L558.72,320.60L558.79,320.84L558.85,321.09L558.92,321.33L558.99,321.57L559.05,321.82L559.12,322.06L559.19,322.30L559.26,322.54L559.33,322.78L559.40,323.02L559.47,323.26L559.54,323.50L559.61,323.74L559.68,323.98L559.75,324.22L559.83,324.46L559.90,324.70L559.98,324.94L560.05,325.19L560.13,325.43L560.21,325.67L560.29,325.91L560.37,326.15L560.45,326.38L560.53,326.62L560.61,326.86L560.69,327.09L560.77,327.33L560.86,327.56L560.94,327.80L561.02,328.03L561.11,328.26L561.19,328.50L561.27,328.73L561.36,328.96L561.44,329.19L561.53,329.42L561.61,329.66L561.70,329.89L561.78,330.12L561.87,330.35L561.95,330.58L562.04,330.82L562.13,331.05L562.21,331.28L562.30,331.51L562.38,331.75L562.47,331.98L562.55,332.22L562.64,332.45L562.72,332.69L562.81,332.92L562.89,333.16L562.98,333.40L563.06,333.64L563.15,333.88L563.23,334.12L563.32,334.36L563.40,334.60L563.48,334.83L563.56,335.07L563.64,335.30L563.72,335.53L563.80,335.77L563.88,336.01L563.96,336.24L564.04,336.48L564.12,336.72L564.20,336.96L564.27,337.20L564.35,337.44L564.43,337.68L564.51,337.92L564.59,338.16L564.67,338.40L564.75,338.64L564.83,338.88L564.91,339.12L564.99,339.37L565.07,339.61L565.15,339.85L565.23,340.09L565.31,340.33L565.39,340.58L565.47,340.82L565.55,341.06L565.63,341.30L565.71,341.54L565.79,341.78L565.87,342.02L565.95,342.26L566.02,342.50L566.10,342.74L566.18,342.98L566.26,343.22L566.34,343.46L566.42,343.69L566.50,343.93L566.58,344.17L566.66,344.40L566.74,344.63L566.82,344.87L566.90,345.10L566.98,345.34L567.07,345.58L567.15,345.82L567.23,346.06L567.32,346.30L567.40,346.54L567.48,346.78L567.57,347.01L567.65,347.25L567.73,347.49L567.82,347.72L567.90,347.95L567.98,348.19L568.07,348.42L568.15,348.66L568.23,348.89L568.32,349.12L568.40,349.35L568.48,349.59L568.57,349.82L568.65,350.05L568.73,350.28L568.82,350.51L568.90,350.75L568.98,350.98L569.07,351.21L569.15,351.44L569.23,351.68L569.32,351.91L569.40,352.15L569.48,352.38L569.57,352.61L569.65,352.85L569.73,353.09L569.82,353.32L569.90,353.56L569.98,353.80L570.07,354.04L570.15,354.28L570.23,354.52L570.32,354.76L570.40,355.00L570.48,355.23L570.56,355.47L570.64,355.70L570.72,355.94L570.80,356.18L570.88,356.41L570.96,356.65L571.04,356.90L571.12,357.14L571.20,357.38L571.28,357.62L571.36,357.87L571.44,358.11L571.52,358.36L571.60,358.60L571.68,358.85L571.76,359.09L571.84,359.34L571.92,359.58L572.00,359.83L572.08,360.07L572.16,360.32L572.24,360.56L572.32,360.81L572.40,361.05L572.48,361.30L572.56,361.54L572.64,361.78L572.72,362.02L572.80,362.26L572.88,362.50L572.96,362.74L573.04,362.98L573.12,363.22L573.20,363.45L573.28,363.69L573.35,363.92L573.43,364.15L573.51,364.38L573.59,364.61L573.67,364.83L573.75,365.06L573.82,365.28L573.90,365.50L573.99,365.76L574.08,366.02L574.17,366.27L574.26,366.52L574.35,366.77L574.44,367.01L574.53,367.26L574.62,367.50L574.71,367.74L574.80,367.98L574.88,368.21L574.97,368.45L575.06,368.68L575.15,368.91L575.23,369.15L575.32,369.38L575.41,369.61L575.49,369.84L575.58,370.06L575.67,370.29L575.76,370.52L575.84,370.75L575.93,370.98L576.02,371.21L576.11,371.44L576.20,371.67L576.28,371.90L576.37,372.13L576.46,372.37L576.55,372.60L576.64,372.84L576.74,373.08L576.83,373.32L576.92,373.56L577.01,373.80L577.11,374.05L577.20,374.30L577.28,374.53L577.37,374.75L577.45,374.98L577.54,375.21L577.62,375.44L577.70,375.67L577.78,375.90L577.86,376.13L577.95,376.37L578.03,376.60L578.11,376.83L578.19,377.07L578.27,377.30L578.35,377.54L578.44,377.77L578.52,378.01L578.60,378.25L578.68,378.49L578.77,378.72L578.85,378.96L578.94,379.20L579.02,379.44L579.11,379.68L579.20,379.92L579.29,380.16L579.37,380.40L579.47,380.64L579.56,380.88L579.65,381.12L579.75,381.36L579.84,381.60L579.94,381.84L580.04,382.08L580.14,382.32L580.24,382.56L580.35,382.80L580.45,383.04L580.56,383.28L580.67,383.52L580.79,383.76L580.90,384.00L581.01,384.22L581.11,384.44L581.22,384.66L581.33,384.89L581.45,385.12L581.56,385.35L581.67,385.58L581.79,385.81L581.91,386.04L582.02,386.27L582.14,386.51L582.26,386.75L582.39,386.98L582.51,387.22L582.63,387.46L582.76,387.69L582.88,387.93L583.01,388.17L583.14,388.40L583.27,388.64L583.40,388.87L583.53,389.11L583.66,389.34L583.79,389.57L583.92,389.80L584.06,390.03L584.19,390.26L584.33,390.49L584.46,390.71L584.60,390.93L584.74,391.15L584.87,391.37L585.01,391.58L585.15,391.80L585.29,392.01L585.43,392.21L585.57,392.41L585.71,392.61L585.85,392.81L585.99,393.00L586.13,393.19L586.27,393.37L586.42,393.55L586.56,393.73L586.70,393.90L586.88,394.11L587.07,394.32L587.25,394.53L587.44,394.72" stroke="#0a0a0a" stroke-width="2.9" fill="none" stroke-linecap="round" stroke-dasharray="4.5 7" stroke-dashoffset="0"/>

<!-- legend -->
<g stroke-width="3" stroke-linecap="round" fill="none">
<line x1="420.6" y1="15.8" x2="476.7" y2="15.8" stroke="#2f7d32" stroke-dasharray="10 15.4" stroke-dashoffset="2.3"/>
<line x1="420.6" y1="48.6" x2="477" y2="48.6" stroke="#3f72bd" stroke-dasharray="4 7.4" stroke-dashoffset="3"/>
<line x1="420.6" y1="81.4" x2="477" y2="81.4" stroke="#0a0a0a" stroke-dasharray="4 7.4" stroke-dashoffset="3"/>
<line x1="420.6" y1="114.3" x2="477" y2="114.3" stroke="#c4661e" stroke-dasharray="4 7.4" stroke-dashoffset="3"/>
</g>
<g class="serif" font-size="26.5">
<text x="484.7" y="24.3">Emax (FD=0cm)</text>
<text x="484.7" y="57.6">Emax (FD=3cm)</text>
<text x="484.7" y="90.4">E33</text>
<text x="546.7" y="90.4">(FD=5cm)</text>
<text x="484.7" y="122.8">Emax (FD=5cm)</text>
</g>
</svg>
</body></html>
